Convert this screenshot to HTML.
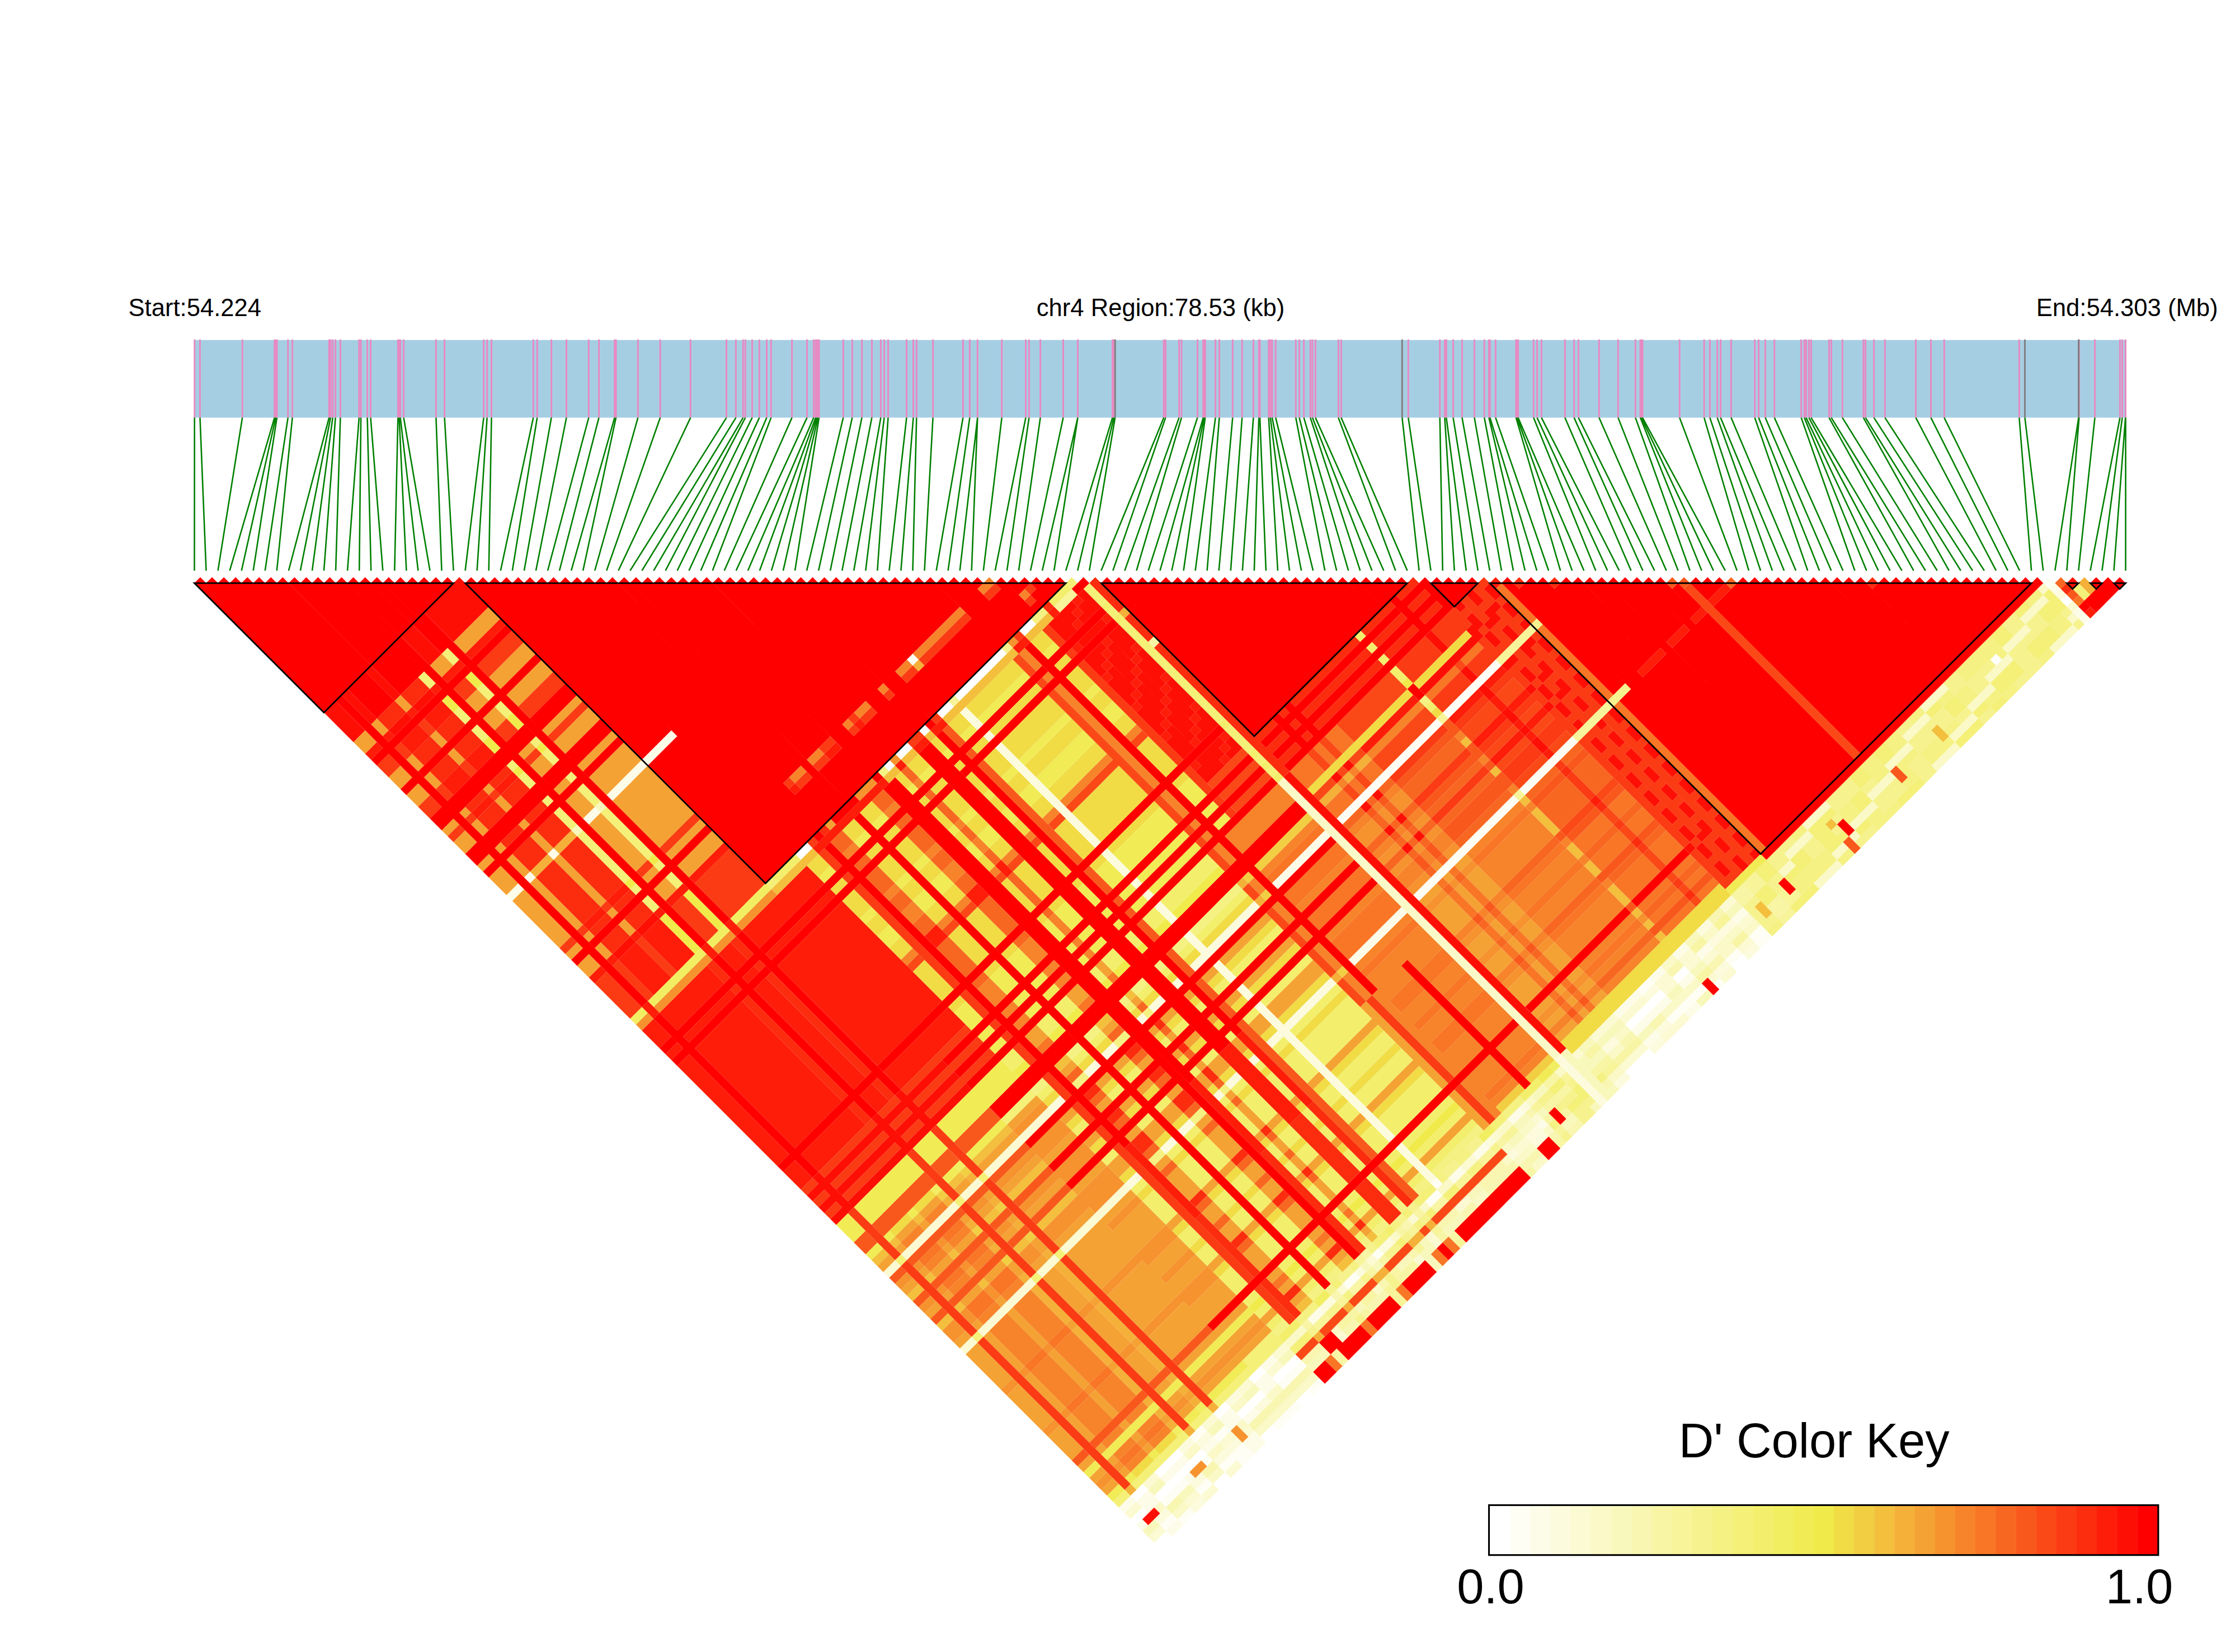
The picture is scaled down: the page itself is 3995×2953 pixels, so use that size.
<!DOCTYPE html><html><head><meta charset="utf-8"><title>LD heatmap chr4</title>
<style>html,body{margin:0;padding:0;background:#fff}svg{display:block}text{font-family:"Liberation Sans",sans-serif;fill:#000}</style></head><body>
<svg width="3995" height="2953" viewBox="0 0 3995 2953">
<rect width="3995" height="2953" fill="#fff"/>
<text x="229.5" y="564.8" font-size="43.6">Start:54.224</text>
<text x="2074.5" y="564.8" font-size="43.6" text-anchor="middle">chr4 Region:78.53 (kb)</text>
<text x="3964.5" y="564.8" font-size="43.6" text-anchor="end">End:54.303 (Mb)</text>
<rect x="347.0" y="607.8" width="3453.0" height="138.80000000000007" fill="#a6cee3"/>
<path d="M347.7 606.8V746.6M357.5 606.8V746.6M433.2 606.8V746.6M490.7 606.8V746.6M492.9 606.8V746.6M495.0 606.8V746.6M514.7 606.8V746.6M522.6 606.8V746.6M588.2 606.8V746.6M590.9 606.8V746.6M594.7 606.8V746.6M599.6 606.8V746.6M608.4 606.8V746.6M641.8 606.8V746.6M645.1 606.8V746.6M656.6 606.8V746.6M662.5 606.8V746.6M711.3 606.8V746.6M713.5 606.8V746.6M715.6 606.8V746.6M721.6 606.8V746.6M779.4 606.8V746.6M794.6 606.8V746.6M864.6 606.8V746.6M870.6 606.8V746.6M878.5 606.8V746.6M953.3 606.8V746.6M960.2 606.8V746.6M985.6 606.8V746.6M1012.5 606.8V746.6M1052.3 606.8V746.6M1070.5 606.8V746.6M1098.6 606.8V746.6M1101.1 606.8V746.6M1140.3 606.8V746.6M1180.1 606.8V746.6M1234.3 606.8V746.6M1298.5 606.8V746.6M1315.4 606.8V746.6M1328.2 606.8V746.6M1332.3 606.8V746.6M1344.5 606.8V746.6M1357.3 606.8V746.6M1370.5 606.8V746.6M1378.3 606.8V746.6M1415.6 606.8V746.6M1442.5 606.8V746.6M1454.4 606.8V746.6M1457.9 606.8V746.6M1460.0 606.8V746.6M1462.0 606.8V746.6M1464.0 606.8V746.6M1507.3 606.8V746.6M1523.3 606.8V746.6M1540.6 606.8V746.6M1558.4 606.8V746.6M1574.4 606.8V746.6M1580.5 606.8V746.6M1587.5 606.8V746.6M1620.5 606.8V746.6M1632.5 606.8V746.6M1638.3 606.8V746.6M1667.6 606.8V746.6M1721.4 606.8V746.6M1733.4 606.8V746.6M1747.3 606.8V746.6M1747.3 606.8V746.6M1790.7 606.8V746.6M1833.5 606.8V746.6M1839.4 606.8V746.6M1859.6 606.8V746.6M1900.5 606.8V746.6M1926.5 606.8V746.6M1926.5 606.8V746.6M1988.5 606.8V746.6M1991.0 606.8V746.6M2080.2 606.8V746.6M2083.4 606.8V746.6M2107.5 606.8V746.6M2111.9 606.8V746.6M2140.4 606.8V746.6M2150.7 606.8V746.6M2152.5 606.8V746.6M2154.3 606.8V746.6M2172.6 606.8V746.6M2179.5 606.8V746.6M2203.3 606.8V746.6M2220.2 606.8V746.6M2240.4 606.8V746.6M2250.2 606.8V746.6M2252.0 606.8V746.6M2267.7 606.8V746.6M2270.8 606.8V746.6M2274.0 606.8V746.6M2280.2 606.8V746.6M2316.2 606.8V746.6M2322.5 606.8V746.6M2330.6 606.8V746.6M2342.2 606.8V746.6M2346.0 606.8V746.6M2351.3 606.8V746.6M2392.3 606.8V746.6M2397.3 606.8V746.6M2517.3 606.8V746.6M2573.7 606.8V746.6M2582.4 606.8V746.6M2585.3 606.8V746.6M2597.5 606.8V746.6M2613.4 606.8V746.6M2635.4 606.8V746.6M2653.2 606.8V746.6M2661.4 606.8V746.6M2663.3 606.8V746.6M2673.3 606.8V746.6M2709.9 606.8V746.6M2711.8 606.8V746.6M2713.6 606.8V746.6M2741.2 606.8V746.6M2747.5 606.8V746.6M2755.3 606.8V746.6M2797.3 606.8V746.6M2813.6 606.8V746.6M2821.4 606.8V746.6M2858.3 606.8V746.6M2892.3 606.8V746.6M2923.3 606.8V746.6M2932.0 606.8V746.6M2934.0 606.8V746.6M2936.0 606.8V746.6M3002.2 606.8V746.6M3046.1 606.8V746.6M3056.4 606.8V746.6M3069.6 606.8V746.6M3075.5 606.8V746.6M3094.3 606.8V746.6M3136.6 606.8V746.6M3143.5 606.8V746.6M3155.4 606.8V746.6M3171.7 606.8V746.6M3219.6 606.8V746.6M3225.2 606.8V746.6M3228.4 606.8V746.6M3233.4 606.8V746.6M3237.4 606.8V746.6M3269.4 606.8V746.6M3273.4 606.8V746.6M3293.2 606.8V746.6M3330.8 606.8V746.6M3334.5 606.8V746.6M3349.6 606.8V746.6M3369.3 606.8V746.6M3424.4 606.8V746.6M3451.4 606.8V746.6M3475.2 606.8V746.6M3609.3 606.8V746.6M3716.3 606.8V746.6M3744.5 606.8V746.6M3789.4 606.8V746.6M3793.5 606.8V746.6M3799.2 606.8V746.6M3799.5 606.8V746.6" stroke="#e78ac3" stroke-width="3" fill="none"/>
<path d="M1993.2 606.8V746.6M2506.3 606.8V746.6M3619.4 606.8V746.6M3715.5 606.8V746.6" stroke="#808080" stroke-width="3" fill="none"/>
<path d="M347.7 746.6L347.5 1020M357.5 746.6L368.5 1020M433.2 746.6L389.6 1020M490.7 746.6L410.6 1020M492.9 746.6L431.7 1020M495.0 746.6L452.7 1020M514.7 746.6L473.8 1020M522.6 746.6L494.8 1020M588.2 746.6L515.9 1020M590.9 746.6L536.9 1020M594.7 746.6L558.0 1020M599.6 746.6L579.0 1020M608.4 746.6L600.1 1020M641.8 746.6L621.1 1020M645.1 746.6L642.2 1020M656.6 746.6L663.2 1020M662.5 746.6L684.3 1020M711.3 746.6L705.3 1020M713.5 746.6L726.4 1020M715.6 746.6L747.4 1020M721.6 746.6L768.5 1020M779.4 746.6L789.5 1020M794.6 746.6L810.6 1020M864.6 746.6L831.6 1020M870.6 746.6L852.7 1020M878.5 746.6L873.7 1020M953.3 746.6L894.8 1020M960.2 746.6L915.8 1020M985.6 746.6L936.9 1020M1012.5 746.6L957.9 1020M1052.3 746.6L979.0 1020M1070.5 746.6L1000.0 1020M1098.6 746.6L1021.1 1020M1101.1 746.6L1042.1 1020M1140.3 746.6L1063.2 1020M1180.1 746.6L1084.2 1020M1234.3 746.6L1105.3 1020M1298.5 746.6L1126.3 1020M1315.4 746.6L1147.4 1020M1328.2 746.6L1168.4 1020M1332.3 746.6L1189.5 1020M1344.5 746.6L1210.5 1020M1357.3 746.6L1231.5 1020M1370.5 746.6L1252.6 1020M1378.3 746.6L1273.6 1020M1415.6 746.6L1294.7 1020M1442.5 746.6L1315.7 1020M1454.4 746.6L1336.8 1020M1457.9 746.6L1357.8 1020M1460.0 746.6L1378.9 1020M1462.0 746.6L1399.9 1020M1464.0 746.6L1421.0 1020M1507.3 746.6L1442.0 1020M1523.3 746.6L1463.1 1020M1540.6 746.6L1484.1 1020M1558.4 746.6L1505.2 1020M1574.4 746.6L1526.2 1020M1580.5 746.6L1547.3 1020M1587.5 746.6L1568.3 1020M1620.5 746.6L1589.4 1020M1632.5 746.6L1610.4 1020M1638.3 746.6L1631.5 1020M1667.6 746.6L1652.5 1020M1721.4 746.6L1673.6 1020M1733.4 746.6L1694.6 1020M1747.3 746.6L1715.7 1020M1747.3 746.6L1736.7 1020M1790.7 746.6L1757.8 1020M1833.5 746.6L1778.8 1020M1839.4 746.6L1799.9 1020M1859.6 746.6L1820.9 1020M1900.5 746.6L1842.0 1020M1926.5 746.6L1863.0 1020M1926.5 746.6L1884.1 1020M1988.5 746.6L1905.1 1020M1991.0 746.6L1926.2 1020M1993.2 746.6L1947.2 1020M2080.2 746.6L1968.3 1020M2083.4 746.6L1989.3 1020M2107.5 746.6L2010.4 1020M2111.9 746.6L2031.4 1020M2140.4 746.6L2052.5 1020M2150.7 746.6L2073.5 1020M2152.5 746.6L2094.5 1020M2154.3 746.6L2115.6 1020M2172.6 746.6L2136.6 1020M2179.5 746.6L2157.7 1020M2203.3 746.6L2178.7 1020M2220.2 746.6L2199.8 1020M2240.4 746.6L2220.8 1020M2250.2 746.6L2241.9 1020M2252.0 746.6L2262.9 1020M2267.7 746.6L2284.0 1020M2270.8 746.6L2305.0 1020M2274.0 746.6L2326.1 1020M2280.2 746.6L2347.1 1020M2316.2 746.6L2368.2 1020M2322.5 746.6L2389.2 1020M2330.6 746.6L2410.3 1020M2342.2 746.6L2431.3 1020M2346.0 746.6L2452.4 1020M2351.3 746.6L2473.4 1020M2392.3 746.6L2494.5 1020M2397.3 746.6L2515.5 1020M2506.3 746.6L2536.6 1020M2517.3 746.6L2557.6 1020M2573.7 746.6L2578.7 1020M2582.4 746.6L2599.7 1020M2585.3 746.6L2620.8 1020M2597.5 746.6L2641.8 1020M2613.4 746.6L2662.9 1020M2635.4 746.6L2683.9 1020M2653.2 746.6L2705.0 1020M2661.4 746.6L2726.0 1020M2663.3 746.6L2747.1 1020M2673.3 746.6L2768.1 1020M2709.9 746.6L2789.2 1020M2711.8 746.6L2810.2 1020M2713.6 746.6L2831.3 1020M2741.2 746.6L2852.3 1020M2747.5 746.6L2873.4 1020M2755.3 746.6L2894.4 1020M2797.3 746.6L2915.5 1020M2813.6 746.6L2936.5 1020M2821.4 746.6L2957.5 1020M2858.3 746.6L2978.6 1020M2892.3 746.6L2999.6 1020M2923.3 746.6L3020.7 1020M2932.0 746.6L3041.7 1020M2934.0 746.6L3062.8 1020M2936.0 746.6L3083.8 1020M3002.2 746.6L3104.9 1020M3046.1 746.6L3125.9 1020M3056.4 746.6L3147.0 1020M3069.6 746.6L3168.0 1020M3075.5 746.6L3189.1 1020M3094.3 746.6L3210.1 1020M3136.6 746.6L3231.2 1020M3143.5 746.6L3252.2 1020M3155.4 746.6L3273.3 1020M3171.7 746.6L3294.3 1020M3219.6 746.6L3315.4 1020M3225.2 746.6L3336.4 1020M3228.4 746.6L3357.5 1020M3233.4 746.6L3378.5 1020M3237.4 746.6L3399.6 1020M3269.4 746.6L3420.6 1020M3273.4 746.6L3441.7 1020M3293.2 746.6L3462.7 1020M3330.8 746.6L3483.8 1020M3334.5 746.6L3504.8 1020M3349.6 746.6L3525.9 1020M3369.3 746.6L3546.9 1020M3424.4 746.6L3568.0 1020M3451.4 746.6L3589.0 1020M3475.2 746.6L3610.1 1020M3609.3 746.6L3631.1 1020M3619.4 746.6L3652.2 1020M3715.5 746.6L3673.2 1020M3716.3 746.6L3694.3 1020M3744.5 746.6L3715.3 1020M3789.4 746.6L3736.4 1020M3793.5 746.6L3757.4 1020M3799.2 746.6L3778.5 1020M3799.5 746.6L3799.5 1020" stroke="#008000" stroke-width="2.6" fill="none"/>
<g transform="matrix(10.52439 -10.52439 10.52439 10.52439 336.9756 1031.7756)">
<path fill="#fefef4" d="M2 163h1v1h-1zM3 163h1v1h-1zM4 161h1v1h-1zM4 164h1v1h-1zM5 161h1v1h-1zM5 164h1v1h-1zM6 161h1v1h-1zM7 161h1v1h-1zM8 163h1v1h-1zM9 163h1v1h-1zM11 161h1v1h-1zM12 158h1v1h-1zM12 163h1v1h-1zM13 158h1v1h-1zM13 163h1v1h-1zM14 160h1v1h-1zM14 163h1v2h-1zM15 160h1v1h-1zM15 163h1v2h-1zM20 164h1v1h-1zM21 164h1v1h-1zM22 164h1v1h-1zM23 164h1v1h-1zM24 161h1v1h-1zM25 161h1v1h-1zM26 161h1v1h-1zM26 164h1v1h-1zM27 161h1v1h-1zM27 164h1v1h-1zM38 158h1v1h-1zM39 158h1v1h-1zM43 158h1v1h-1zM52 158h1v1h-1zM53 158h1v1h-1zM54 68h1v1h-1zM54 157h1v1h-1zM77 118h1v1h-1zM77 131h1v1h-1zM78 118h1v1h-1zM78 131h1v1h-1zM79 118h1v1h-1zM79 131h1v1h-1zM80 118h1v1h-1zM80 131h1v1h-1zM81 118h1v1h-1zM81 131h1v1h-1zM82 118h1v1h-1zM82 131h1v1h-1zM83 118h1v1h-1zM83 131h1v1h-1zM84 118h1v1h-1zM84 131h1v1h-1zM85 118h1v1h-1zM85 131h1v1h-1zM86 118h1v1h-1zM86 131h1v1h-1zM87 118h1v1h-1zM87 131h1v1h-1zM88 118h1v1h-1zM88 131h1v1h-1zM88 158h1v1h-1zM88 163h1v1h-1zM89 118h1v1h-1zM89 131h1v1h-1zM89 158h1v1h-1zM89 163h1v1h-1zM90 118h1v1h-1zM90 131h1v1h-1zM90 163h1v1h-1zM91 118h1v1h-1zM91 131h1v1h-1zM91 163h1v1h-1zM92 118h1v1h-1zM92 131h1v1h-1zM92 163h1v1h-1zM93 118h1v1h-1zM93 131h1v1h-1zM93 163h1v1h-1zM95 118h1v1h-1zM95 131h1v1h-1zM95 164h1v1h-1zM96 118h1v1h-1zM96 131h1v1h-1zM97 118h1v1h-1zM97 131h1v1h-1zM98 118h1v1h-1zM98 131h1v1h-1zM98 163h1v1h-1zM99 118h1v1h-1zM99 131h1v1h-1zM99 163h1v1h-1zM100 118h1v1h-1zM100 131h1v1h-1zM101 118h1v1h-1zM101 131h1v1h-1zM102 118h1v1h-1zM102 131h1v1h-1zM102 163h1v2h-1zM103 118h1v1h-1zM103 131h1v1h-1zM103 163h1v2h-1zM157 158h1v1h-1z"/>
<path fill="#fdfce8" d="M0 54h1v1h-1zM0 158h1v1h-1zM0 161h1v1h-1zM1 54h1v1h-1zM1 158h1v1h-1zM2 159h1v2h-1zM2 164h1v1h-1zM3 54h1v1h-1zM3 159h1v2h-1zM3 164h1v1h-1zM6 159h1v1h-1zM7 54h1v1h-1zM7 159h1v1h-1zM8 159h1v1h-1zM8 161h1v1h-1zM9 159h1v1h-1zM12 160h1v1h-1zM13 54h1v1h-1zM13 160h1v1h-1zM14 54h1v1h-1zM16 159h1v2h-1zM16 163h1v2h-1zM17 54h1v1h-1zM17 159h1v2h-1zM17 163h1v2h-1zM18 54h1v1h-1zM18 161h1v1h-1zM19 54h1v1h-1zM19 161h1v1h-1zM20 54h1v1h-1zM21 54h1v1h-1zM22 54h1v1h-1zM22 159h1v2h-1zM23 54h1v1h-1zM23 159h1v2h-1zM24 54h1v1h-1zM24 158h1v1h-1zM25 54h1v1h-1zM25 158h1v1h-1zM26 54h1v1h-1zM27 54h1v1h-1zM32 158h1v1h-1zM33 158h1v1h-1zM56 158h1v1h-1zM57 158h1v1h-1zM60 158h1v1h-1zM61 158h1v1h-1zM66 118h1v1h-1zM66 131h1v1h-1zM66 158h1v1h-1zM67 118h1v1h-1zM67 131h1v1h-1zM67 158h1v1h-1zM68 118h1v1h-1zM68 131h1v1h-1zM68 161h1v1h-1zM69 118h1v1h-1zM69 131h1v1h-1zM70 118h1v1h-1zM70 131h1v1h-1zM71 118h1v1h-1zM71 131h1v1h-1zM72 118h1v1h-1zM72 131h1v1h-1zM73 118h1v1h-1zM73 131h1v1h-1zM74 118h1v1h-1zM74 131h1v1h-1zM84 158h1v1h-1zM84 161h1v1h-1zM84 163h1v1h-1zM85 158h1v1h-1zM85 161h1v1h-1zM85 163h1v1h-1zM86 158h1v1h-1zM86 161h1v1h-1zM87 158h1v1h-1zM87 161h1v1h-1zM88 161h1v1h-1zM89 161h1v1h-1zM90 158h1v1h-1zM90 164h1v1h-1zM91 158h1v1h-1zM91 164h1v1h-1zM92 161h1v1h-1zM93 161h1v1h-1zM94 158h1v1h-1zM95 158h1v1h-1zM96 160h1v1h-1zM97 160h1v1h-1zM102 160h1v1h-1zM103 160h1v1h-1zM157 159h1v1h-1zM157 163h1v2h-1z"/>
<path fill="#fcfbdd" d="M2 162h1v1h-1zM3 162h1v1h-1zM6 164h1v1h-1zM7 164h1v1h-1zM8 162h1v1h-1zM9 162h1v1h-1zM10 158h1v1h-1zM11 158h1v1h-1zM12 159h1v1h-1zM12 162h1v1h-1zM13 159h1v1h-1zM13 162h1v1h-1zM14 162h1v1h-1zM15 162h1v1h-1zM18 158h1v1h-1zM19 158h1v1h-1zM20 161h1v1h-1zM21 161h1v1h-1zM28 118h1v1h-1zM28 131h1v1h-1zM29 118h1v1h-1zM29 131h1v1h-1zM34 118h1v1h-1zM34 131h1v1h-1zM34 158h1v1h-1zM35 118h1v1h-1zM35 131h1v1h-1zM35 158h1v1h-1zM37 118h1v1h-1zM37 131h1v1h-1zM38 118h1v1h-1zM38 131h1v1h-1zM40 158h1v1h-1zM43 118h1v1h-1zM43 131h1v1h-1zM44 158h1v1h-1zM45 118h1v1h-1zM45 131h1v1h-1zM45 158h1v1h-1zM46 118h1v1h-1zM46 131h1v1h-1zM49 118h1v1h-1zM49 131h1v1h-1zM52 118h1v1h-1zM52 131h1v1h-1zM53 118h1v1h-1zM53 131h1v1h-1zM54 77h1v3h-1zM54 81h1v1h-1zM54 83h1v17h-1zM54 101h1v4h-1zM54 106h1v1h-1zM54 108h1v1h-1zM54 110h1v3h-1zM54 115h1v4h-1zM54 120h1v3h-1zM54 124h1v2h-1zM54 127h1v23h-1zM54 151h1v6h-1zM55 118h1v1h-1zM55 131h1v1h-1zM56 118h1v1h-1zM56 131h1v1h-1zM57 118h1v1h-1zM57 131h1v1h-1zM58 118h1v1h-1zM58 131h1v1h-1zM59 118h1v1h-1zM59 131h1v1h-1zM60 118h1v1h-1zM60 131h1v1h-1zM61 118h1v1h-1zM61 131h1v1h-1zM62 118h1v1h-1zM62 131h1v1h-1zM62 158h1v1h-1zM63 161h1v1h-1zM66 161h1v2h-1zM67 161h1v2h-1zM68 158h1v1h-1zM75 157h1v8h-1zM78 164h1v1h-1zM79 164h1v1h-1zM80 160h1v1h-1zM81 160h1v1h-1zM84 164h1v1h-1zM85 164h1v1h-1zM86 163h1v1h-1zM87 163h1v1h-1zM88 159h1v1h-1zM89 159h1v1h-1zM96 163h1v1h-1zM97 163h1v1h-1zM98 158h1v1h-1zM98 160h1v1h-1zM99 158h1v1h-1zM99 160h1v1h-1zM100 160h1v1h-1zM100 164h1v1h-1zM101 160h1v1h-1zM101 164h1v1h-1zM157 160h1v1h-1z"/>
<path fill="#fbfad2" d="M0 118h1v1h-1zM0 131h1v1h-1zM0 159h1v1h-1zM0 163h1v1h-1zM1 118h1v1h-1zM1 131h1v1h-1zM1 159h1v1h-1zM1 163h1v1h-1zM3 118h1v1h-1zM3 131h1v1h-1zM4 118h1v1h-1zM4 131h1v1h-1zM4 158h1v1h-1zM5 118h1v1h-1zM5 131h1v1h-1zM5 158h1v1h-1zM6 118h1v1h-1zM6 131h1v1h-1zM6 163h1v1h-1zM7 118h1v1h-1zM7 131h1v1h-1zM7 163h1v1h-1zM8 118h1v1h-1zM8 131h1v1h-1zM8 164h1v1h-1zM9 118h1v1h-1zM9 131h1v1h-1zM9 164h1v1h-1zM10 118h1v1h-1zM10 131h1v1h-1zM11 118h1v1h-1zM11 131h1v1h-1zM12 164h1v1h-1zM13 118h1v1h-1zM13 131h1v1h-1zM13 164h1v1h-1zM14 118h1v1h-1zM14 131h1v1h-1zM14 158h1v1h-1zM14 161h1v1h-1zM15 118h1v1h-1zM15 131h1v1h-1zM15 158h1v1h-1zM15 161h1v1h-1zM17 118h1v1h-1zM17 131h1v1h-1zM17 162h1v1h-1zM18 118h1v1h-1zM18 131h1v1h-1zM19 118h1v1h-1zM19 131h1v1h-1zM20 118h1v1h-1zM20 131h1v1h-1zM20 158h1v1h-1zM21 118h1v1h-1zM21 131h1v1h-1zM21 158h1v1h-1zM22 118h1v1h-1zM22 131h1v1h-1zM23 118h1v1h-1zM23 131h1v1h-1zM24 118h1v1h-1zM24 131h1v1h-1zM24 159h1v1h-1zM25 118h1v1h-1zM25 131h1v1h-1zM25 159h1v1h-1zM26 118h1v1h-1zM26 131h1v1h-1zM26 158h1v1h-1zM27 118h1v1h-1zM27 131h1v1h-1zM27 158h1v1h-1zM33 162h1v1h-1zM37 158h1v1h-1zM42 158h1v1h-1zM46 162h1v1h-1zM49 158h1v1h-1zM49 161h1v2h-1zM54 161h1v1h-1zM55 161h1v1h-1zM58 158h1v1h-1zM59 158h1v1h-1zM63 158h1v1h-1zM64 161h1v1h-1zM65 161h1v1h-1zM68 160h1v1h-1zM77 158h1v1h-1zM80 158h1v1h-1zM80 163h1v1h-1zM81 158h1v1h-1zM81 163h1v1h-1zM82 158h1v1h-1zM82 163h1v1h-1zM83 158h1v1h-1zM83 163h1v1h-1zM84 159h1v1h-1zM85 159h1v1h-1zM86 159h1v1h-1zM86 164h1v1h-1zM87 159h1v1h-1zM87 164h1v1h-1zM88 164h1v1h-1zM89 164h1v1h-1zM90 159h1v2h-1zM91 159h1v2h-1zM94 159h1v2h-1zM95 159h1v2h-1zM95 163h1v1h-1zM96 161h1v1h-1zM96 164h1v1h-1zM97 161h1v1h-1zM97 164h1v1h-1zM100 163h1v1h-1zM101 163h1v1h-1zM102 158h1v1h-1zM102 161h1v1h-1zM103 158h1v1h-1zM103 161h1v1h-1zM157 162h1v1h-1z"/>
<path fill="#faf9c7" d="M3 161h1v1h-1zM4 163h1v1h-1zM5 163h1v1h-1zM10 159h1v1h-1zM10 163h1v1h-1zM11 159h1v1h-1zM11 163h1v1h-1zM12 161h1v1h-1zM13 161h1v1h-1zM17 161h1v1h-1zM18 159h1v1h-1zM18 163h1v1h-1zM19 159h1v1h-1zM19 163h1v1h-1zM20 163h1v1h-1zM21 163h1v1h-1zM22 161h1v1h-1zM22 163h1v1h-1zM23 161h1v1h-1zM23 163h1v1h-1zM24 163h1v1h-1zM25 163h1v1h-1zM26 163h1v1h-1zM27 163h1v1h-1zM28 158h1v1h-1zM29 158h1v1h-1zM30 158h1v1h-1zM33 161h1v1h-1zM40 161h1v1h-1zM46 158h1v1h-1zM51 158h1v1h-1zM54 158h1v1h-1zM55 158h1v1h-1zM56 162h1v1h-1zM57 162h1v1h-1zM62 161h1v1h-1zM63 160h1v1h-1zM63 162h1v1h-1zM64 158h1v1h-1zM64 162h1v1h-1zM64 164h1v1h-1zM65 158h1v1h-1zM65 162h1v1h-1zM65 164h1v1h-1zM66 160h1v1h-1zM67 160h1v1h-1zM68 162h1v1h-1zM69 158h1v1h-1zM74 158h1v1h-1zM75 110h1v47h-1zM78 163h1v1h-1zM79 163h1v1h-1zM80 161h1v1h-1zM81 161h1v1h-1zM82 160h1v1h-1zM83 160h1v1h-1zM88 162h1v1h-1zM89 162h1v1h-1zM90 162h1v1h-1zM91 162h1v1h-1zM92 158h1v1h-1zM92 162h1v1h-1zM93 158h1v1h-1zM93 162h1v1h-1zM98 159h1v1h-1zM98 161h1v2h-1zM99 159h1v1h-1zM99 161h1v2h-1zM100 161h1v1h-1zM101 161h1v1h-1zM102 162h1v1h-1zM103 162h1v1h-1zM110 160h1v1h-1zM111 160h1v1h-1zM112 159h1v1h-1zM112 164h1v1h-1zM113 159h1v1h-1zM113 164h1v1h-1zM114 159h1v1h-1zM114 164h1v1h-1zM115 159h1v1h-1zM115 164h1v1h-1zM116 158h1v1h-1zM116 163h1v1h-1zM117 158h1v1h-1zM117 163h1v1h-1zM118 158h1v1h-1zM119 158h1v1h-1zM119 163h1v1h-1zM120 162h1v1h-1zM121 162h1v1h-1zM122 162h1v1h-1zM123 162h1v1h-1zM124 161h1v1h-1zM125 161h1v1h-1zM126 161h1v1h-1zM127 161h1v1h-1zM128 160h1v1h-1zM129 160h1v1h-1zM130 160h1v1h-1zM131 160h1v1h-1zM132 159h1v1h-1zM132 164h1v1h-1zM133 159h1v1h-1zM133 164h1v1h-1zM134 159h1v1h-1zM134 164h1v1h-1zM135 159h1v1h-1zM135 164h1v1h-1zM136 158h1v1h-1zM136 163h1v1h-1zM137 158h1v1h-1zM137 163h1v1h-1zM138 158h1v1h-1zM138 163h1v1h-1zM139 158h1v1h-1zM139 163h1v1h-1zM140 162h1v1h-1zM141 162h1v1h-1zM142 162h1v1h-1zM143 162h1v1h-1zM144 161h1v1h-1zM145 161h1v1h-1zM146 161h1v1h-1zM147 161h1v1h-1zM148 160h1v1h-1zM149 160h1v1h-1zM150 160h1v1h-1zM151 160h1v1h-1zM152 159h1v1h-1zM152 164h1v1h-1zM153 159h1v1h-1zM153 164h1v1h-1zM154 159h1v1h-1zM154 164h1v1h-1zM155 159h1v1h-1zM155 164h1v1h-1zM156 158h1v1h-1zM156 163h1v1h-1z"/>
<path fill="#f9f8bc" d="M0 162h1v1h-1zM1 162h1v1h-1zM4 159h1v1h-1zM5 159h1v1h-1zM6 162h1v1h-1zM7 162h1v1h-1zM11 54h1v1h-1zM14 159h1v1h-1zM15 54h1v1h-1zM15 159h1v1h-1zM20 159h1v1h-1zM21 159h1v1h-1zM26 159h1v1h-1zM27 159h1v1h-1zM28 162h1v1h-1zM29 162h1v1h-1zM30 162h1v1h-1zM37 161h1v1h-1zM41 158h1v1h-1zM42 159h1v1h-1zM44 161h1v1h-1zM45 161h1v1h-1zM47 162h1v3h-1zM48 161h1v2h-1zM51 162h1v1h-1zM52 162h1v1h-1zM53 162h1v1h-1zM56 161h1v1h-1zM57 161h1v1h-1zM64 160h1v1h-1zM65 160h1v1h-1zM66 159h1v1h-1zM67 159h1v1h-1zM69 160h1v1h-1zM70 158h1v1h-1zM70 163h1v1h-1zM71 158h1v1h-1zM71 163h1v1h-1zM74 164h1v1h-1zM76 157h1v8h-1zM77 159h1v2h-1zM77 164h1v1h-1zM78 158h1v1h-1zM78 160h1v1h-1zM79 158h1v1h-1zM79 160h1v1h-1zM80 159h1v1h-1zM81 159h1v1h-1zM82 159h1v1h-1zM83 159h1v1h-1zM84 162h1v1h-1zM85 162h1v1h-1zM90 161h1v1h-1zM91 161h1v1h-1zM92 164h1v1h-1zM93 164h1v1h-1zM94 161h1v1h-1zM95 161h1v1h-1zM96 158h1v1h-1zM97 158h1v1h-1zM102 159h1v1h-1zM103 159h1v1h-1z"/>
<path fill="#f8f6b0" d="M4 162h1v1h-1zM5 162h1v1h-1zM10 162h1v1h-1zM11 162h1v1h-1zM18 162h1v1h-1zM19 162h1v1h-1zM20 162h1v1h-1zM21 162h1v1h-1zM22 162h1v1h-1zM23 162h1v1h-1zM24 162h1v1h-1zM25 162h1v1h-1zM26 162h1v1h-1zM27 162h1v1h-1zM28 161h1v1h-1zM29 161h1v1h-1zM30 161h1v1h-1zM34 162h1v1h-1zM35 162h1v1h-1zM36 158h1v1h-1zM38 162h1v1h-1zM39 162h1v1h-1zM40 162h1v1h-1zM41 161h1v1h-1zM46 161h1v1h-1zM48 158h1v1h-1zM51 161h1v1h-1zM52 161h1v1h-1zM53 161h1v1h-1zM54 162h1v1h-1zM55 162h1v1h-1zM58 161h1v2h-1zM59 161h1v2h-1zM60 161h1v2h-1zM61 161h1v2h-1zM62 162h1v1h-1zM63 163h1v1h-1zM64 163h1v1h-1zM65 163h1v1h-1zM68 159h1v1h-1zM68 163h1v1h-1zM70 164h1v1h-1zM71 164h1v1h-1zM77 163h1v1h-1zM82 161h1v1h-1zM83 161h1v1h-1zM86 162h1v1h-1zM87 162h1v1h-1zM92 159h1v1h-1zM93 159h1v1h-1zM96 162h1v1h-1zM97 162h1v1h-1zM100 158h1v1h-1zM101 158h1v1h-1z"/>
<path fill="#f8f5a5" d="M31 158h1v1h-1zM31 163h1v2h-1zM34 161h1v1h-1zM35 161h1v1h-1zM36 161h1v1h-1zM37 162h1v1h-1zM38 159h1v1h-1zM38 161h1v1h-1zM39 159h1v1h-1zM39 161h1v1h-1zM41 159h1v1h-1zM42 157h1v1h-1zM43 159h1v1h-1zM43 161h1v2h-1zM44 162h1v1h-1zM45 162h1v1h-1zM47 158h1v1h-1zM50 158h1v1h-1zM50 162h1v1h-1zM51 163h1v1h-1zM52 159h1v1h-1zM53 159h1v1h-1zM63 159h1v1h-1zM63 164h1v1h-1zM68 164h1v1h-1zM69 161h1v1h-1zM70 160h1v1h-1zM71 160h1v1h-1zM71 162h1v1h-1zM72 158h1v1h-1zM72 160h1v1h-1zM73 158h1v1h-1zM73 160h1v1h-1zM76 87h1v1h-1zM77 161h1v1h-1zM78 159h1v1h-1zM78 161h1v1h-1zM79 159h1v1h-1zM79 161h1v1h-1zM80 162h1v1h-1zM81 162h1v1h-1zM82 162h1v1h-1zM83 162h1v1h-1zM94 162h1v1h-1zM95 162h1v1h-1zM96 159h1v1h-1zM97 159h1v1h-1zM100 162h1v1h-1zM101 162h1v1h-1zM104 158h1v2h-1zM105 158h1v2h-1zM106 162h1v2h-1zM107 162h1v2h-1z"/>
<path fill="#f7f49a" d="M32 159h1v1h-1zM33 159h1v1h-1zM36 159h1v1h-1zM41 157h1v1h-1zM41 162h1v3h-1zM47 161h1v1h-1zM48 159h1v1h-1zM50 161h1v1h-1zM51 164h1v1h-1zM54 75h1v1h-1zM56 159h1v1h-1zM57 159h1v1h-1zM60 159h1v1h-1zM61 159h1v1h-1zM64 159h1v1h-1zM65 159h1v1h-1zM69 159h1v1h-1zM69 163h1v1h-1zM71 76h1v1h-1zM72 76h1v1h-1zM73 76h1v1h-1zM74 159h1v1h-1zM78 162h1v1h-1zM79 162h1v1h-1zM94 118h1v1h-1zM94 131h1v1h-1zM100 159h1v1h-1zM101 159h1v1h-1zM104 118h1v1h-1zM104 131h1v1h-1zM105 118h1v1h-1zM105 131h1v1h-1zM106 118h1v1h-1zM106 131h1v1h-1zM106 158h1v2h-1zM106 164h1v1h-1zM107 118h1v1h-1zM107 131h1v1h-1zM107 158h1v2h-1zM107 164h1v1h-1zM108 118h1v1h-1zM108 131h1v1h-1zM108 162h1v2h-1zM109 118h1v1h-1zM109 131h1v1h-1zM109 163h1v1h-1z"/>
<path fill="#f6f28e" d="M31 159h1v1h-1zM34 159h1v1h-1zM35 159h1v1h-1zM36 157h1v1h-1zM36 162h1v1h-1zM38 157h1v1h-1zM39 157h1v1h-1zM40 159h1v1h-1zM42 161h1v2h-1zM43 157h1v1h-1zM44 159h1v1h-1zM45 159h1v1h-1zM47 159h1v1h-1zM48 157h1v1h-1zM50 157h1v1h-1zM50 159h1v1h-1zM56 157h1v1h-1zM57 157h1v1h-1zM60 157h1v1h-1zM61 157h1v1h-1zM62 159h1v1h-1zM63 75h1v1h-1zM69 164h1v1h-1zM70 159h1v1h-1zM71 159h1v1h-1zM71 161h1v1h-1zM72 161h1v1h-1zM72 163h1v2h-1zM73 161h1v1h-1zM73 163h1v2h-1zM74 160h1v1h-1zM74 163h1v1h-1zM104 160h1v4h-1zM105 160h1v1h-1zM105 163h1v1h-1zM108 160h1v2h-1zM109 160h1v1h-1zM110 118h1v1h-1zM110 131h1v1h-1zM110 158h1v2h-1zM111 131h1v1h-1zM111 158h1v2h-1zM112 131h1v1h-1zM112 158h1v1h-1zM113 158h1v1h-1zM114 160h1v2h-1zM115 160h1v2h-1zM118 161h1v1h-1zM119 160h1v1h-1zM119 164h1v1h-1zM120 158h1v2h-1zM120 164h1v1h-1zM121 158h1v2h-1zM121 164h1v1h-1zM122 158h1v2h-1zM123 158h1v2h-1zM124 160h1v1h-1zM124 162h1v2h-1zM125 160h1v1h-1zM125 162h1v2h-1zM126 162h1v2h-1zM127 162h1v2h-1zM130 162h1v3h-1zM131 162h1v3h-1zM132 158h1v1h-1zM132 160h1v2h-1zM133 158h1v1h-1zM133 160h1v2h-1zM134 160h1v2h-1zM135 160h1v1h-1zM136 160h1v2h-1zM137 160h1v2h-1zM138 162h1v1h-1zM139 162h1v1h-1zM140 158h1v2h-1zM140 164h1v1h-1zM141 158h1v2h-1zM141 164h1v1h-1zM142 160h1v2h-1zM143 160h1v2h-1zM144 160h1v1h-1zM145 160h1v1h-1zM146 164h1v1h-1zM147 164h1v1h-1zM148 161h1v4h-1zM149 161h1v4h-1zM150 158h1v2h-1zM150 161h1v1h-1zM151 158h1v2h-1zM151 161h1v1h-1zM152 160h1v2h-1zM153 160h1v2h-1zM156 162h1v1h-1zM156 164h1v1h-1z"/>
<path fill="#f5f183" d="M28 115h1v1h-1zM28 156h1v1h-1zM29 115h1v1h-1zM29 156h1v1h-1zM31 157h1v1h-1zM32 118h1v1h-1zM32 131h1v1h-1zM32 157h1v1h-1zM33 118h1v1h-1zM33 131h1v1h-1zM33 157h1v1h-1zM34 115h1v1h-1zM34 156h1v1h-1zM35 115h1v1h-1zM35 156h1v1h-1zM37 115h1v1h-1zM37 156h1v1h-1zM37 159h1v1h-1zM38 115h1v1h-1zM38 156h1v1h-1zM39 118h1v1h-1zM39 131h1v1h-1zM40 118h1v1h-1zM40 131h1v1h-1zM40 157h1v1h-1zM42 75h1v1h-1zM43 115h1v1h-1zM43 156h1v1h-1zM44 118h1v1h-1zM44 131h1v1h-1zM45 115h1v1h-1zM45 156h1v1h-1zM46 115h1v1h-1zM46 156h1v1h-1zM47 157h1v1h-1zM49 115h1v1h-1zM49 156h1v1h-1zM49 159h1v1h-1zM52 115h1v1h-1zM52 156h1v1h-1zM53 115h1v1h-1zM53 156h1v1h-1zM55 115h1v1h-1zM55 156h1v2h-1zM56 115h1v1h-1zM56 156h1v1h-1zM57 115h1v1h-1zM57 156h1v1h-1zM58 115h1v1h-1zM58 156h1v2h-1zM58 159h1v1h-1zM59 115h1v1h-1zM59 156h1v2h-1zM59 159h1v1h-1zM60 115h1v1h-1zM60 156h1v1h-1zM61 115h1v1h-1zM61 156h1v1h-1zM62 115h1v1h-1zM62 156h1v1h-1zM66 157h1v1h-1zM67 157h1v1h-1zM68 75h1v1h-1zM68 157h1v1h-1zM69 75h1v1h-1zM69 162h1v1h-1zM77 162h1v1h-1zM94 115h1v1h-1zM104 164h1v1h-1zM105 164h1v1h-1zM110 162h1v2h-1zM111 162h1v2h-1zM112 162h1v2h-1zM113 162h1v2h-1zM114 158h1v1h-1zM114 162h1v2h-1zM115 158h1v1h-1zM115 162h1v2h-1zM116 164h1v1h-1zM117 164h1v1h-1zM120 160h1v2h-1zM121 160h1v2h-1zM122 163h1v2h-1zM123 163h1v2h-1zM124 164h1v1h-1zM125 164h1v1h-1zM126 158h1v3h-1zM127 158h1v3h-1zM128 163h1v1h-1zM129 161h1v3h-1zM130 158h1v2h-1zM130 161h1v1h-1zM131 158h1v2h-1zM131 161h1v1h-1zM132 162h1v2h-1zM133 162h1v2h-1zM134 158h1v1h-1zM134 162h1v2h-1zM135 158h1v1h-1zM135 163h1v1h-1zM136 162h1v1h-1zM137 162h1v1h-1zM138 159h1v1h-1zM139 159h1v1h-1zM140 160h1v2h-1zM141 160h1v2h-1zM142 158h1v2h-1zM142 163h1v1h-1zM143 158h1v2h-1zM143 163h1v1h-1zM144 158h1v2h-1zM144 164h1v1h-1zM145 158h1v2h-1zM145 164h1v1h-1zM146 158h1v2h-1zM147 158h1v3h-1zM150 164h1v1h-1zM151 164h1v1h-1zM154 158h1v1h-1zM154 162h1v2h-1zM155 158h1v1h-1zM155 162h1v2h-1z"/>
<path fill="#f4f078" d="M0 157h1v1h-1zM1 157h1v1h-1zM2 118h1v1h-1zM2 131h1v1h-1zM3 157h1v1h-1zM4 157h1v1h-1zM5 157h1v1h-1zM6 157h1v1h-1zM7 157h1v1h-1zM8 157h1v1h-1zM9 157h1v1h-1zM10 157h1v1h-1zM11 28h1v2h-1zM11 34h1v2h-1zM11 37h1v2h-1zM11 43h1v1h-1zM11 45h1v2h-1zM11 49h1v1h-1zM11 51h1v3h-1zM11 55h1v8h-1zM11 64h1v1h-1zM11 66h1v2h-1zM11 157h1v1h-1zM12 118h1v1h-1zM12 131h1v1h-1zM13 157h1v1h-1zM14 157h1v1h-1zM15 28h1v2h-1zM15 34h1v2h-1zM15 37h1v2h-1zM15 43h1v1h-1zM15 45h1v2h-1zM15 49h1v1h-1zM15 51h1v3h-1zM15 55h1v8h-1zM15 64h1v1h-1zM15 66h1v2h-1zM15 157h1v1h-1zM16 118h1v1h-1zM16 131h1v1h-1zM17 157h1v1h-1zM18 157h1v1h-1zM19 157h1v1h-1zM20 157h1v1h-1zM21 157h1v1h-1zM22 157h1v1h-1zM23 75h1v1h-1zM23 115h1v1h-1zM23 156h1v2h-1zM24 115h1v1h-1zM24 156h1v2h-1zM25 115h1v1h-1zM25 156h1v2h-1zM26 115h1v1h-1zM26 156h1v2h-1zM27 115h1v1h-1zM27 156h1v2h-1zM28 159h1v1h-1zM29 159h1v1h-1zM30 159h1v1h-1zM37 157h1v1h-1zM44 157h1v1h-1zM45 157h1v1h-1zM46 159h1v1h-1zM49 157h1v1h-1zM51 157h1v1h-1zM51 159h1v1h-1zM52 157h1v1h-1zM53 157h1v1h-1zM54 159h1v1h-1zM55 159h1v1h-1zM64 157h1v1h-1zM65 157h1v1h-1zM72 159h1v1h-1zM72 162h1v1h-1zM73 159h1v1h-1zM73 162h1v1h-1zM74 75h1v1h-1zM74 161h1v2h-1zM75 77h1v3h-1zM75 81h1v1h-1zM75 83h1v17h-1zM75 101h1v4h-1zM75 106h1v1h-1zM75 108h1v1h-1zM106 160h1v2h-1zM107 160h1v2h-1zM108 158h1v2h-1zM108 164h1v1h-1zM109 158h1v2h-1zM109 164h1v1h-1zM110 161h1v1h-1zM110 164h1v1h-1zM111 161h1v1h-1zM111 164h1v1h-1zM112 160h1v2h-1zM113 160h1v2h-1zM116 159h1v4h-1zM117 159h1v4h-1zM118 159h1v1h-1zM118 162h1v1h-1zM119 159h1v1h-1zM120 163h1v1h-1zM121 163h1v1h-1zM122 160h1v2h-1zM123 160h1v2h-1zM124 158h1v2h-1zM125 158h1v2h-1zM126 164h1v1h-1zM127 164h1v1h-1zM128 158h1v2h-1zM128 164h1v1h-1zM129 158h1v2h-1zM129 164h1v1h-1zM136 159h1v1h-1zM136 164h1v1h-1zM137 159h1v1h-1zM137 164h1v1h-1zM138 160h1v2h-1zM138 164h1v1h-1zM139 160h1v2h-1zM139 164h1v1h-1zM140 163h1v1h-1zM141 163h1v1h-1zM142 164h1v1h-1zM143 164h1v1h-1zM144 162h1v2h-1zM145 162h1v2h-1zM146 162h1v2h-1zM147 162h1v2h-1zM148 158h1v2h-1zM149 158h1v2h-1zM150 162h1v2h-1zM151 162h1v2h-1zM152 158h1v1h-1zM152 162h1v2h-1zM153 158h1v1h-1zM153 162h1v2h-1zM154 160h1v2h-1zM155 160h1v2h-1zM156 159h1v3h-1zM159 161h1v2h-1z"/>
<path fill="#f3ef6d" d="M24 75h1v1h-1zM25 75h1v1h-1zM26 75h1v1h-1zM27 75h1v1h-1zM28 110h1v2h-1zM28 116h1v1h-1zM28 122h1v1h-1zM28 127h1v1h-1zM28 132h1v1h-1zM28 134h1v4h-1zM28 140h1v2h-1zM28 143h1v2h-1zM28 147h1v3h-1zM28 151h1v1h-1zM28 153h1v1h-1zM28 155h1v1h-1zM28 157h1v1h-1zM29 110h1v2h-1zM29 116h1v1h-1zM29 122h1v1h-1zM29 127h1v1h-1zM29 132h1v1h-1zM29 134h1v4h-1zM29 140h1v2h-1zM29 143h1v2h-1zM29 147h1v3h-1zM29 151h1v1h-1zM29 153h1v1h-1zM29 155h1v1h-1zM29 157h1v1h-1zM30 157h1v1h-1zM34 110h1v2h-1zM34 116h1v1h-1zM34 122h1v1h-1zM34 127h1v1h-1zM34 132h1v1h-1zM34 134h1v4h-1zM34 140h1v2h-1zM34 143h1v2h-1zM34 147h1v3h-1zM34 151h1v1h-1zM34 153h1v1h-1zM34 155h1v1h-1zM35 110h1v2h-1zM35 116h1v1h-1zM35 122h1v1h-1zM35 127h1v1h-1zM35 132h1v1h-1zM35 134h1v4h-1zM35 140h1v2h-1zM35 143h1v2h-1zM35 147h1v3h-1zM35 151h1v1h-1zM35 153h1v1h-1zM35 155h1v1h-1zM37 110h1v2h-1zM37 116h1v1h-1zM37 122h1v1h-1zM37 127h1v1h-1zM37 132h1v1h-1zM37 134h1v4h-1zM37 140h1v2h-1zM37 143h1v2h-1zM37 147h1v3h-1zM37 151h1v1h-1zM37 153h1v1h-1zM37 155h1v1h-1zM38 110h1v2h-1zM38 116h1v1h-1zM38 122h1v1h-1zM38 127h1v1h-1zM38 132h1v1h-1zM38 134h1v4h-1zM38 140h1v2h-1zM38 143h1v2h-1zM38 147h1v3h-1zM38 151h1v1h-1zM38 153h1v1h-1zM38 155h1v1h-1zM43 110h1v2h-1zM43 116h1v1h-1zM43 122h1v1h-1zM43 127h1v1h-1zM43 132h1v1h-1zM43 134h1v4h-1zM43 140h1v2h-1zM43 143h1v2h-1zM43 147h1v3h-1zM43 151h1v1h-1zM43 153h1v1h-1zM43 155h1v1h-1zM45 110h1v2h-1zM45 116h1v1h-1zM45 122h1v1h-1zM45 127h1v1h-1zM45 132h1v1h-1zM45 134h1v4h-1zM45 140h1v2h-1zM45 143h1v2h-1zM45 147h1v3h-1zM45 151h1v1h-1zM45 153h1v1h-1zM45 155h1v1h-1zM46 110h1v2h-1zM46 116h1v1h-1zM46 122h1v1h-1zM46 127h1v1h-1zM46 132h1v1h-1zM46 134h1v4h-1zM46 140h1v2h-1zM46 143h1v2h-1zM46 147h1v3h-1zM46 151h1v1h-1zM46 153h1v1h-1zM46 155h1v1h-1zM46 157h1v1h-1zM49 110h1v2h-1zM49 116h1v1h-1zM49 122h1v1h-1zM49 127h1v1h-1zM49 132h1v1h-1zM49 134h1v4h-1zM49 140h1v2h-1zM49 143h1v2h-1zM49 147h1v3h-1zM49 151h1v1h-1zM49 153h1v1h-1zM49 155h1v1h-1zM52 110h1v2h-1zM52 116h1v1h-1zM52 122h1v1h-1zM52 127h1v1h-1zM52 132h1v1h-1zM52 134h1v4h-1zM52 140h1v2h-1zM52 143h1v2h-1zM52 147h1v3h-1zM52 151h1v1h-1zM52 153h1v1h-1zM52 155h1v1h-1zM53 110h1v2h-1zM53 116h1v1h-1zM53 122h1v1h-1zM53 127h1v1h-1zM53 132h1v1h-1zM53 134h1v4h-1zM53 140h1v2h-1zM53 143h1v2h-1zM53 147h1v3h-1zM53 151h1v1h-1zM53 153h1v1h-1zM53 155h1v1h-1zM55 110h1v2h-1zM55 116h1v1h-1zM55 122h1v1h-1zM55 127h1v1h-1zM55 132h1v1h-1zM55 134h1v4h-1zM55 140h1v2h-1zM55 143h1v2h-1zM55 147h1v3h-1zM55 151h1v1h-1zM55 153h1v1h-1zM55 155h1v1h-1zM56 110h1v2h-1zM56 116h1v1h-1zM56 122h1v1h-1zM56 127h1v1h-1zM56 132h1v1h-1zM56 134h1v4h-1zM56 140h1v2h-1zM56 143h1v2h-1zM56 147h1v3h-1zM56 151h1v1h-1zM56 153h1v1h-1zM56 155h1v1h-1zM57 110h1v2h-1zM57 116h1v1h-1zM57 122h1v1h-1zM57 127h1v1h-1zM57 132h1v1h-1zM57 134h1v4h-1zM57 140h1v2h-1zM57 143h1v2h-1zM57 147h1v3h-1zM57 151h1v1h-1zM57 153h1v1h-1zM57 155h1v1h-1zM58 110h1v2h-1zM58 116h1v1h-1zM58 122h1v1h-1zM58 127h1v1h-1zM58 132h1v1h-1zM58 134h1v4h-1zM58 140h1v2h-1zM58 143h1v2h-1zM58 147h1v3h-1zM58 151h1v1h-1zM58 153h1v1h-1zM58 155h1v1h-1zM59 110h1v2h-1zM59 116h1v1h-1zM59 122h1v1h-1zM59 127h1v1h-1zM59 132h1v1h-1zM59 134h1v4h-1zM59 140h1v2h-1zM59 143h1v2h-1zM59 147h1v3h-1zM59 151h1v1h-1zM59 153h1v1h-1zM59 155h1v1h-1zM60 110h1v2h-1zM60 116h1v1h-1zM60 122h1v1h-1zM60 127h1v1h-1zM60 132h1v1h-1zM60 134h1v4h-1zM60 140h1v2h-1zM60 143h1v2h-1zM60 147h1v3h-1zM60 151h1v1h-1zM60 153h1v1h-1zM60 155h1v1h-1zM61 110h1v2h-1zM61 116h1v1h-1zM61 122h1v1h-1zM61 127h1v1h-1zM61 132h1v1h-1zM61 134h1v4h-1zM61 140h1v2h-1zM61 143h1v2h-1zM61 147h1v3h-1zM61 151h1v1h-1zM61 153h1v1h-1zM61 155h1v1h-1zM62 110h1v2h-1zM62 116h1v1h-1zM62 122h1v1h-1zM62 127h1v1h-1zM62 132h1v1h-1zM62 134h1v4h-1zM62 140h1v2h-1zM62 143h1v2h-1zM62 147h1v3h-1zM62 151h1v1h-1zM62 153h1v1h-1zM62 155h1v1h-1zM69 157h1v1h-1zM70 157h1v1h-1zM71 75h1v1h-1zM71 157h1v1h-1zM72 75h1v1h-1zM73 75h1v1h-1zM75 80h1v1h-1zM75 82h1v1h-1zM75 100h1v1h-1zM75 105h1v1h-1zM75 107h1v1h-1zM75 109h1v1h-1zM94 104h1v1h-1zM94 106h1v1h-1zM94 108h1v1h-1zM94 110h1v2h-1zM94 116h1v1h-1z"/>
<path fill="#f2ee62" d="M0 75h1v1h-1zM1 75h1v1h-1zM3 75h1v1h-1zM4 75h1v1h-1zM5 75h1v1h-1zM6 75h1v1h-1zM7 75h1v1h-1zM8 75h1v1h-1zM9 75h1v1h-1zM10 75h1v1h-1zM11 75h1v1h-1zM11 115h1v1h-1zM11 156h1v1h-1zM13 75h1v1h-1zM14 75h1v1h-1zM15 75h1v1h-1zM15 115h1v1h-1zM15 156h1v1h-1zM17 75h1v1h-1zM18 75h1v1h-1zM19 75h1v1h-1zM20 75h1v1h-1zM21 75h1v1h-1zM22 75h1v1h-1zM34 157h1v1h-1zM35 157h1v1h-1zM62 157h1v1h-1zM63 157h1v1h-1zM74 157h1v1h-1z"/>
<path fill="#f1ec56" d="M0 110h1v3h-1zM0 115h1v1h-1zM0 152h1v1h-1zM0 156h1v1h-1zM1 110h1v3h-1zM1 115h1v1h-1zM1 152h1v1h-1zM1 156h1v1h-1zM3 110h1v3h-1zM3 115h1v1h-1zM3 152h1v1h-1zM3 156h1v1h-1zM4 110h1v3h-1zM4 152h1v1h-1zM5 110h1v3h-1zM5 152h1v1h-1zM6 110h1v3h-1zM6 152h1v1h-1zM7 110h1v3h-1zM7 115h1v1h-1zM7 152h1v1h-1zM7 156h1v1h-1zM8 110h1v3h-1zM8 152h1v1h-1zM9 110h1v3h-1zM9 152h1v1h-1zM10 110h1v3h-1zM10 152h1v1h-1zM11 110h1v3h-1zM11 152h1v1h-1zM13 110h1v3h-1zM13 115h1v1h-1zM13 152h1v1h-1zM13 156h1v1h-1zM14 110h1v3h-1zM14 115h1v1h-1zM14 152h1v1h-1zM14 156h1v1h-1zM15 110h1v3h-1zM15 152h1v1h-1zM17 110h1v3h-1zM17 115h1v1h-1zM17 152h1v1h-1zM17 156h1v1h-1zM18 110h1v3h-1zM18 115h1v1h-1zM18 152h1v1h-1zM18 156h1v1h-1zM19 110h1v3h-1zM19 115h1v1h-1zM19 152h1v1h-1zM19 156h1v1h-1zM20 110h1v3h-1zM20 115h1v1h-1zM20 152h1v1h-1zM20 156h1v1h-1zM21 110h1v3h-1zM21 115h1v1h-1zM21 152h1v1h-1zM21 156h1v1h-1zM22 110h1v3h-1zM22 115h1v1h-1zM22 152h1v1h-1zM22 156h1v1h-1zM23 110h1v3h-1zM23 152h1v1h-1zM24 110h1v3h-1zM24 152h1v1h-1zM25 110h1v3h-1zM25 152h1v1h-1zM26 110h1v3h-1zM26 152h1v1h-1zM27 110h1v3h-1zM27 152h1v1h-1zM28 79h1v1h-1zM28 86h1v1h-1zM28 89h1v2h-1zM28 102h1v3h-1zM28 106h1v1h-1zM28 108h1v1h-1zM29 79h1v1h-1zM29 86h1v1h-1zM29 89h1v2h-1zM29 102h1v3h-1zM29 106h1v1h-1zM29 108h1v1h-1zM34 79h1v1h-1zM34 86h1v1h-1zM34 89h1v2h-1zM34 102h1v3h-1zM34 106h1v1h-1zM34 108h1v1h-1zM35 79h1v1h-1zM35 86h1v1h-1zM35 89h1v2h-1zM35 102h1v3h-1zM35 106h1v1h-1zM35 108h1v1h-1zM37 79h1v1h-1zM37 86h1v1h-1zM37 89h1v2h-1zM37 102h1v3h-1zM37 106h1v1h-1zM37 108h1v1h-1zM38 79h1v1h-1zM38 86h1v1h-1zM38 89h1v2h-1zM38 102h1v3h-1zM38 106h1v1h-1zM38 108h1v1h-1zM43 79h1v1h-1zM43 86h1v1h-1zM43 89h1v2h-1zM43 102h1v3h-1zM43 106h1v1h-1zM43 108h1v1h-1zM45 79h1v1h-1zM45 86h1v1h-1zM45 89h1v2h-1zM45 102h1v3h-1zM45 106h1v1h-1zM45 108h1v1h-1zM46 79h1v1h-1zM46 86h1v1h-1zM46 89h1v2h-1zM46 102h1v3h-1zM46 106h1v1h-1zM46 108h1v1h-1zM49 79h1v1h-1zM49 86h1v1h-1zM49 89h1v2h-1zM49 102h1v3h-1zM49 106h1v1h-1zM49 108h1v1h-1zM52 79h1v1h-1zM52 86h1v1h-1zM52 89h1v2h-1zM52 102h1v3h-1zM52 106h1v1h-1zM52 108h1v1h-1zM53 79h1v1h-1zM53 86h1v1h-1zM53 89h1v2h-1zM53 102h1v3h-1zM53 106h1v1h-1zM53 108h1v1h-1zM55 79h1v1h-1zM55 86h1v1h-1zM55 89h1v2h-1zM55 102h1v3h-1zM55 106h1v1h-1zM55 108h1v1h-1zM56 79h1v1h-1zM56 86h1v1h-1zM56 89h1v2h-1zM56 102h1v3h-1zM56 106h1v1h-1zM56 108h1v1h-1zM57 79h1v1h-1zM57 86h1v1h-1zM57 89h1v2h-1zM57 102h1v3h-1zM57 106h1v1h-1zM57 108h1v1h-1zM58 79h1v1h-1zM58 86h1v1h-1zM58 89h1v2h-1zM58 102h1v3h-1zM58 106h1v1h-1zM58 108h1v1h-1zM59 79h1v1h-1zM59 86h1v1h-1zM59 89h1v2h-1zM59 102h1v3h-1zM59 106h1v1h-1zM59 108h1v1h-1zM60 79h1v1h-1zM60 86h1v1h-1zM60 89h1v2h-1zM60 102h1v3h-1zM60 106h1v1h-1zM60 108h1v1h-1zM61 79h1v1h-1zM61 86h1v1h-1zM61 89h1v2h-1zM61 102h1v3h-1zM61 106h1v1h-1zM61 108h1v1h-1zM62 79h1v1h-1zM62 86h1v1h-1zM62 89h1v2h-1zM62 102h1v3h-1zM62 106h1v1h-1zM62 108h1v1h-1zM66 79h1v1h-1zM66 86h1v1h-1zM66 89h1v2h-1zM66 102h1v3h-1zM66 106h1v1h-1zM66 108h1v1h-1zM67 79h1v1h-1zM67 86h1v1h-1zM67 89h1v2h-1zM67 102h1v3h-1zM67 106h1v1h-1zM67 108h1v1h-1zM72 157h1v1h-1zM73 157h1v1h-1zM104 157h1v1h-1zM105 157h1v1h-1zM106 157h1v1h-1zM107 157h1v1h-1zM108 157h1v1h-1zM109 157h1v1h-1z"/>
<path fill="#f0eb4b" d="M11 32h1v2h-1zM11 39h1v2h-1zM11 44h1v1h-1zM11 63h1v1h-1zM11 69h1v6h-1zM15 32h1v2h-1zM15 39h1v2h-1zM15 44h1v1h-1zM15 63h1v1h-1zM15 69h1v6h-1zM28 112h1v1h-1zM28 152h1v1h-1zM29 112h1v1h-1zM29 152h1v1h-1zM34 112h1v1h-1zM34 152h1v1h-1zM35 112h1v1h-1zM35 152h1v1h-1zM37 112h1v1h-1zM37 152h1v1h-1zM38 112h1v1h-1zM38 152h1v1h-1zM43 112h1v1h-1zM43 152h1v1h-1zM45 112h1v1h-1zM45 152h1v1h-1zM46 112h1v1h-1zM46 152h1v1h-1zM49 112h1v1h-1zM49 152h1v1h-1zM52 112h1v1h-1zM52 152h1v1h-1zM53 112h1v1h-1zM53 152h1v1h-1zM55 112h1v1h-1zM55 152h1v1h-1zM56 112h1v1h-1zM56 152h1v1h-1zM57 112h1v1h-1zM57 152h1v1h-1zM58 112h1v1h-1zM58 152h1v1h-1zM59 112h1v1h-1zM59 152h1v1h-1zM60 112h1v1h-1zM60 152h1v1h-1zM61 112h1v1h-1zM61 152h1v1h-1zM62 112h1v1h-1zM62 152h1v1h-1zM94 112h1v1h-1z"/>
<path fill="#f1dc46" d="M4 115h1v1h-1zM4 156h1v1h-1zM5 115h1v1h-1zM5 156h1v1h-1zM6 115h1v1h-1zM6 156h1v1h-1zM8 115h1v1h-1zM8 156h1v1h-1zM9 115h1v1h-1zM9 156h1v1h-1zM10 115h1v1h-1zM10 156h1v1h-1zM28 77h1v2h-1zM28 81h1v1h-1zM28 83h1v3h-1zM28 87h1v2h-1zM28 91h1v2h-1zM28 95h1v5h-1zM28 101h1v1h-1zM28 117h1v1h-1zM28 121h1v1h-1zM28 125h1v1h-1zM28 130h1v1h-1zM28 133h1v1h-1zM28 139h1v1h-1zM28 142h1v1h-1zM28 146h1v1h-1zM29 77h1v2h-1zM29 81h1v1h-1zM29 83h1v3h-1zM29 87h1v2h-1zM29 91h1v2h-1zM29 95h1v5h-1zM29 101h1v1h-1zM29 117h1v1h-1zM29 121h1v1h-1zM29 125h1v1h-1zM29 130h1v1h-1zM29 133h1v1h-1zM29 139h1v1h-1zM29 142h1v1h-1zM29 146h1v1h-1zM34 77h1v2h-1zM34 81h1v1h-1zM34 83h1v3h-1zM34 87h1v2h-1zM34 91h1v2h-1zM34 95h1v5h-1zM34 101h1v1h-1zM34 117h1v1h-1zM34 121h1v1h-1zM34 125h1v1h-1zM34 130h1v1h-1zM34 133h1v1h-1zM34 139h1v1h-1zM34 142h1v1h-1zM34 146h1v1h-1zM35 77h1v2h-1zM35 81h1v1h-1zM35 83h1v3h-1zM35 87h1v2h-1zM35 91h1v2h-1zM35 95h1v5h-1zM35 101h1v1h-1zM35 117h1v1h-1zM35 121h1v1h-1zM35 125h1v1h-1zM35 130h1v1h-1zM35 133h1v1h-1zM35 139h1v1h-1zM35 142h1v1h-1zM35 146h1v1h-1zM37 77h1v2h-1zM37 81h1v1h-1zM37 83h1v3h-1zM37 87h1v2h-1zM37 91h1v2h-1zM37 95h1v5h-1zM37 101h1v1h-1zM37 117h1v1h-1zM37 121h1v1h-1zM37 125h1v1h-1zM37 130h1v1h-1zM37 133h1v1h-1zM37 139h1v1h-1zM37 142h1v1h-1zM37 146h1v1h-1zM38 77h1v2h-1zM38 81h1v1h-1zM38 83h1v3h-1zM38 87h1v2h-1zM38 91h1v2h-1zM38 95h1v5h-1zM38 101h1v1h-1zM38 117h1v1h-1zM38 121h1v1h-1zM38 125h1v1h-1zM38 130h1v1h-1zM38 133h1v1h-1zM38 139h1v1h-1zM38 142h1v1h-1zM38 146h1v1h-1zM43 77h1v2h-1zM43 81h1v1h-1zM43 83h1v3h-1zM43 87h1v2h-1zM43 91h1v2h-1zM43 95h1v5h-1zM43 101h1v1h-1zM43 117h1v1h-1zM43 121h1v1h-1zM43 125h1v1h-1zM43 130h1v1h-1zM43 133h1v1h-1zM43 139h1v1h-1zM43 142h1v1h-1zM43 146h1v1h-1zM45 77h1v2h-1zM45 81h1v1h-1zM45 83h1v3h-1zM45 87h1v2h-1zM45 91h1v2h-1zM45 95h1v5h-1zM45 101h1v1h-1zM45 117h1v1h-1zM45 121h1v1h-1zM45 125h1v1h-1zM45 130h1v1h-1zM45 133h1v1h-1zM45 139h1v1h-1zM45 142h1v1h-1zM45 146h1v1h-1zM46 77h1v2h-1zM46 81h1v1h-1zM46 83h1v3h-1zM46 87h1v2h-1zM46 91h1v2h-1zM46 95h1v5h-1zM46 101h1v1h-1zM46 117h1v1h-1zM46 121h1v1h-1zM46 125h1v1h-1zM46 130h1v1h-1zM46 133h1v1h-1zM46 139h1v1h-1zM46 142h1v1h-1zM46 146h1v1h-1zM49 77h1v2h-1zM49 81h1v1h-1zM49 83h1v3h-1zM49 87h1v2h-1zM49 91h1v2h-1zM49 95h1v5h-1zM49 101h1v1h-1zM49 117h1v1h-1zM49 121h1v1h-1zM49 125h1v1h-1zM49 130h1v1h-1zM49 133h1v1h-1zM49 139h1v1h-1zM49 142h1v1h-1zM49 146h1v1h-1zM52 77h1v2h-1zM52 81h1v1h-1zM52 83h1v3h-1zM52 87h1v2h-1zM52 91h1v2h-1zM52 95h1v5h-1zM52 101h1v1h-1zM52 117h1v1h-1zM52 121h1v1h-1zM52 125h1v1h-1zM52 130h1v1h-1zM52 133h1v1h-1zM52 139h1v1h-1zM52 142h1v1h-1zM52 146h1v1h-1zM53 77h1v2h-1zM53 81h1v1h-1zM53 83h1v3h-1zM53 87h1v2h-1zM53 91h1v2h-1zM53 95h1v5h-1zM53 101h1v1h-1zM53 117h1v1h-1zM53 121h1v1h-1zM53 125h1v1h-1zM53 130h1v1h-1zM53 133h1v1h-1zM53 139h1v1h-1zM53 142h1v1h-1zM53 146h1v1h-1zM55 77h1v2h-1zM55 81h1v1h-1zM55 83h1v3h-1zM55 87h1v2h-1zM55 91h1v2h-1zM55 95h1v5h-1zM55 101h1v1h-1zM55 117h1v1h-1zM55 121h1v1h-1zM55 125h1v1h-1zM55 130h1v1h-1zM55 133h1v1h-1zM55 139h1v1h-1zM55 142h1v1h-1zM55 146h1v1h-1zM56 77h1v2h-1zM56 81h1v1h-1zM56 83h1v3h-1zM56 87h1v2h-1zM56 91h1v2h-1zM56 95h1v5h-1zM56 101h1v1h-1zM56 117h1v1h-1zM56 121h1v1h-1zM56 125h1v1h-1zM56 130h1v1h-1zM56 133h1v1h-1zM56 139h1v1h-1zM56 142h1v1h-1zM56 146h1v1h-1zM57 77h1v2h-1zM57 81h1v1h-1zM57 83h1v3h-1zM57 87h1v2h-1zM57 91h1v2h-1zM57 95h1v5h-1zM57 101h1v1h-1zM57 117h1v1h-1zM57 121h1v1h-1zM57 125h1v1h-1zM57 130h1v1h-1zM57 133h1v1h-1zM57 139h1v1h-1zM57 142h1v1h-1zM57 146h1v1h-1zM58 77h1v2h-1zM58 81h1v1h-1zM58 83h1v3h-1zM58 87h1v2h-1zM58 91h1v2h-1zM58 95h1v5h-1zM58 101h1v1h-1zM58 117h1v1h-1zM58 121h1v1h-1zM58 125h1v1h-1zM58 130h1v1h-1zM58 133h1v1h-1zM58 139h1v1h-1zM58 142h1v1h-1zM58 146h1v1h-1zM59 77h1v2h-1zM59 81h1v1h-1zM59 83h1v3h-1zM59 87h1v2h-1zM59 91h1v2h-1zM59 95h1v5h-1zM59 101h1v1h-1zM59 117h1v1h-1zM59 121h1v1h-1zM59 125h1v1h-1zM59 130h1v1h-1zM59 133h1v1h-1zM59 139h1v1h-1zM59 142h1v1h-1zM59 146h1v1h-1zM60 77h1v2h-1zM60 81h1v1h-1zM60 83h1v3h-1zM60 87h1v2h-1zM60 91h1v2h-1zM60 95h1v5h-1zM60 101h1v1h-1zM60 117h1v1h-1zM60 121h1v1h-1zM60 125h1v1h-1zM60 130h1v1h-1zM60 133h1v1h-1zM60 139h1v1h-1zM60 142h1v1h-1zM60 146h1v1h-1zM61 77h1v2h-1zM61 81h1v1h-1zM61 83h1v3h-1zM61 87h1v2h-1zM61 91h1v2h-1zM61 95h1v5h-1zM61 101h1v1h-1zM61 117h1v1h-1zM61 121h1v1h-1zM61 125h1v1h-1zM61 130h1v1h-1zM61 133h1v1h-1zM61 139h1v1h-1zM61 142h1v1h-1zM61 146h1v1h-1zM62 77h1v2h-1zM62 81h1v1h-1zM62 83h1v3h-1zM62 87h1v2h-1zM62 91h1v2h-1zM62 95h1v5h-1zM62 101h1v1h-1zM62 117h1v1h-1zM62 121h1v1h-1zM62 125h1v1h-1zM62 130h1v1h-1zM62 133h1v1h-1zM62 139h1v1h-1zM62 142h1v1h-1zM62 146h1v1h-1zM66 77h1v2h-1zM66 81h1v1h-1zM66 83h1v3h-1zM66 87h1v2h-1zM66 91h1v2h-1zM66 95h1v5h-1zM66 101h1v1h-1zM67 77h1v2h-1zM67 81h1v1h-1zM67 83h1v3h-1zM67 87h1v2h-1zM67 91h1v2h-1zM67 95h1v5h-1zM67 101h1v1h-1zM77 113h1v1h-1zM77 156h1v2h-1zM78 113h1v1h-1zM78 156h1v2h-1zM79 113h1v1h-1zM79 156h1v2h-1zM80 113h1v1h-1zM80 156h1v2h-1zM81 113h1v1h-1zM81 156h1v2h-1zM82 113h1v1h-1zM82 156h1v2h-1zM83 113h1v1h-1zM83 156h1v2h-1zM84 113h1v1h-1zM84 156h1v2h-1zM85 113h1v1h-1zM85 156h1v2h-1zM86 113h1v1h-1zM86 156h1v2h-1zM87 113h1v1h-1zM87 156h1v2h-1zM88 113h1v1h-1zM88 156h1v2h-1zM89 113h1v1h-1zM89 156h1v2h-1zM90 113h1v1h-1zM90 156h1v2h-1zM91 113h1v1h-1zM91 156h1v2h-1zM92 113h1v1h-1zM92 156h1v2h-1zM93 113h1v1h-1zM93 156h1v2h-1zM94 117h1v1h-1zM94 156h1v2h-1zM95 113h1v1h-1zM95 156h1v2h-1zM96 113h1v1h-1zM96 156h1v2h-1zM97 113h1v1h-1zM97 156h1v2h-1zM98 113h1v1h-1zM98 156h1v2h-1zM99 113h1v1h-1zM99 156h1v2h-1zM100 113h1v1h-1zM100 156h1v2h-1zM101 113h1v1h-1zM101 156h1v2h-1zM102 113h1v1h-1zM102 156h1v2h-1zM103 113h1v1h-1zM103 156h1v2h-1z"/>
<path fill="#f2ce42" d="M11 116h1v1h-1zM11 122h1v1h-1zM11 127h1v1h-1zM15 116h1v1h-1zM15 122h1v1h-1zM15 127h1v1h-1zM64 115h1v1h-1zM64 118h1v1h-1zM64 131h1v1h-1zM66 115h1v1h-1zM66 156h1v1h-1zM67 115h1v1h-1zM67 156h1v1h-1zM68 115h1v1h-1zM68 156h1v1h-1zM69 115h1v1h-1zM69 156h1v1h-1zM70 115h1v1h-1zM71 115h1v1h-1zM71 156h1v1h-1zM72 115h1v1h-1zM72 156h1v1h-1zM73 115h1v1h-1zM73 156h1v1h-1zM74 115h1v1h-1zM74 156h1v1h-1z"/>
<path fill="#f3bf3d" d="M0 116h1v1h-1zM0 122h1v1h-1zM0 127h1v1h-1zM1 116h1v1h-1zM1 122h1v1h-1zM1 127h1v1h-1zM3 116h1v1h-1zM3 122h1v1h-1zM3 127h1v1h-1zM7 116h1v1h-1zM7 122h1v1h-1zM7 127h1v1h-1zM13 116h1v1h-1zM13 122h1v1h-1zM13 127h1v1h-1zM14 116h1v1h-1zM14 122h1v1h-1zM14 127h1v1h-1zM17 116h1v1h-1zM17 122h1v1h-1zM17 127h1v1h-1zM18 116h1v1h-1zM18 122h1v1h-1zM18 127h1v1h-1zM19 116h1v1h-1zM19 122h1v1h-1zM19 127h1v1h-1zM20 116h1v1h-1zM20 122h1v1h-1zM20 127h1v1h-1zM21 116h1v1h-1zM21 122h1v1h-1zM21 127h1v1h-1zM22 116h1v1h-1zM22 122h1v1h-1zM22 127h1v1h-1zM23 76h1v1h-1zM24 76h1v1h-1zM25 76h1v1h-1zM26 76h1v1h-1zM27 76h1v1h-1zM28 76h1v1h-1zM29 76h1v1h-1zM32 115h1v1h-1zM32 156h1v1h-1zM33 115h1v1h-1zM33 156h1v1h-1zM39 115h1v1h-1zM39 156h1v1h-1zM40 115h1v1h-1zM40 156h1v1h-1zM42 76h1v1h-1zM43 76h1v1h-1zM44 115h1v1h-1zM44 156h1v1h-1zM45 76h1v1h-1zM46 76h1v1h-1zM49 76h1v1h-1zM52 76h1v1h-1zM53 76h1v1h-1zM54 76h1v1h-1zM55 76h1v1h-1zM56 76h1v1h-1zM57 76h1v1h-1zM58 76h1v1h-1zM59 76h1v1h-1zM60 76h1v1h-1zM61 76h1v1h-1zM62 76h1v1h-1zM63 76h1v1h-1zM66 76h1v1h-1zM67 76h1v1h-1zM68 76h1v1h-1zM69 76h1v1h-1zM94 122h1v1h-1zM94 127h1v1h-1zM94 132h1v1h-1zM94 134h1v4h-1zM94 140h1v2h-1zM94 143h1v2h-1zM94 147h1v3h-1zM94 151h1v1h-1zM94 153h1v1h-1zM94 155h1v1h-1zM105 161h1v2h-1zM118 160h1v1h-1zM135 161h1v2h-1z"/>
<path fill="#f4b038" d="M2 157h1v1h-1zM4 54h1v1h-1zM5 54h1v1h-1zM6 54h1v1h-1zM8 54h1v1h-1zM9 54h1v1h-1zM10 54h1v1h-1zM11 117h1v1h-1zM11 121h1v1h-1zM11 125h1v1h-1zM11 130h1v1h-1zM11 132h1v6h-1zM11 139h1v6h-1zM11 146h1v4h-1zM11 151h1v1h-1zM11 153h1v1h-1zM11 155h1v1h-1zM12 157h1v1h-1zM15 117h1v1h-1zM15 121h1v1h-1zM15 125h1v1h-1zM15 130h1v1h-1zM15 132h1v6h-1zM15 139h1v6h-1zM15 146h1v4h-1zM15 151h1v1h-1zM15 153h1v1h-1zM15 155h1v1h-1zM16 157h1v1h-1zM31 160h1v1h-1zM36 160h1v1h-1zM41 160h1v1h-1zM42 160h1v1h-1zM47 160h1v1h-1zM48 160h1v1h-1zM50 160h1v1h-1zM54 69h1v1h-1zM63 115h1v1h-1zM63 118h1v1h-1zM63 131h1v1h-1zM76 82h1v1h-1zM77 115h1v1h-1zM78 115h1v1h-1zM79 115h1v1h-1zM81 115h1v1h-1zM83 115h1v1h-1zM84 115h1v1h-1zM160 161h1v2h-1z"/>
<path fill="#f5a234" d="M0 28h1v2h-1zM0 34h1v2h-1zM0 37h1v2h-1zM0 43h1v1h-1zM0 45h1v2h-1zM0 49h1v1h-1zM0 51h1v3h-1zM0 55h1v8h-1zM0 64h1v1h-1zM0 66h1v2h-1zM0 117h1v1h-1zM0 121h1v1h-1zM0 125h1v1h-1zM0 130h1v1h-1zM0 132h1v6h-1zM0 139h1v6h-1zM0 146h1v4h-1zM0 151h1v1h-1zM0 153h1v1h-1zM0 155h1v1h-1zM1 28h1v2h-1zM1 34h1v2h-1zM1 37h1v2h-1zM1 43h1v1h-1zM1 45h1v2h-1zM1 49h1v1h-1zM1 51h1v3h-1zM1 55h1v8h-1zM1 64h1v1h-1zM1 66h1v2h-1zM1 117h1v1h-1zM1 121h1v1h-1zM1 125h1v1h-1zM1 130h1v1h-1zM1 132h1v6h-1zM1 139h1v6h-1zM1 146h1v4h-1zM1 151h1v1h-1zM1 153h1v1h-1zM1 155h1v1h-1zM3 28h1v2h-1zM3 34h1v2h-1zM3 37h1v2h-1zM3 43h1v1h-1zM3 45h1v2h-1zM3 49h1v1h-1zM3 51h1v3h-1zM3 55h1v8h-1zM3 64h1v1h-1zM3 66h1v2h-1zM3 117h1v1h-1zM3 121h1v1h-1zM3 125h1v1h-1zM3 130h1v1h-1zM3 132h1v6h-1zM3 139h1v6h-1zM3 146h1v4h-1zM3 151h1v1h-1zM3 153h1v1h-1zM3 155h1v1h-1zM4 116h1v1h-1zM4 122h1v1h-1zM4 127h1v1h-1zM5 116h1v1h-1zM5 122h1v1h-1zM5 127h1v1h-1zM6 116h1v1h-1zM6 122h1v1h-1zM6 127h1v1h-1zM7 28h1v2h-1zM7 34h1v2h-1zM7 37h1v2h-1zM7 43h1v1h-1zM7 45h1v2h-1zM7 49h1v1h-1zM7 51h1v3h-1zM7 55h1v8h-1zM7 64h1v1h-1zM7 66h1v2h-1zM7 117h1v1h-1zM7 121h1v1h-1zM7 125h1v1h-1zM7 130h1v1h-1zM7 132h1v6h-1zM7 139h1v6h-1zM7 146h1v4h-1zM7 151h1v1h-1zM7 153h1v1h-1zM7 155h1v1h-1zM8 116h1v1h-1zM8 122h1v1h-1zM8 127h1v1h-1zM9 116h1v1h-1zM9 122h1v1h-1zM9 127h1v1h-1zM10 116h1v1h-1zM10 122h1v1h-1zM10 127h1v1h-1zM11 120h1v1h-1zM11 124h1v1h-1zM11 128h1v2h-1zM11 138h1v1h-1zM11 145h1v1h-1zM11 154h1v1h-1zM13 28h1v2h-1zM13 34h1v2h-1zM13 37h1v2h-1zM13 43h1v1h-1zM13 45h1v2h-1zM13 49h1v1h-1zM13 51h1v3h-1zM13 55h1v8h-1zM13 64h1v1h-1zM13 66h1v2h-1zM13 117h1v1h-1zM13 121h1v1h-1zM13 125h1v1h-1zM13 130h1v1h-1zM13 132h1v6h-1zM13 139h1v6h-1zM13 146h1v4h-1zM13 151h1v1h-1zM13 153h1v1h-1zM13 155h1v1h-1zM14 28h1v2h-1zM14 34h1v2h-1zM14 37h1v2h-1zM14 43h1v1h-1zM14 45h1v2h-1zM14 49h1v1h-1zM14 51h1v3h-1zM14 55h1v8h-1zM14 64h1v1h-1zM14 66h1v2h-1zM14 117h1v1h-1zM14 121h1v1h-1zM14 125h1v1h-1zM14 130h1v1h-1zM14 132h1v6h-1zM14 139h1v6h-1zM14 146h1v4h-1zM14 151h1v1h-1zM14 153h1v1h-1zM14 155h1v1h-1zM15 120h1v1h-1zM15 124h1v1h-1zM15 128h1v2h-1zM15 138h1v1h-1zM15 145h1v1h-1zM15 154h1v1h-1zM17 28h1v2h-1zM17 34h1v2h-1zM17 37h1v2h-1zM17 43h1v1h-1zM17 45h1v2h-1zM17 49h1v1h-1zM17 51h1v3h-1zM17 55h1v8h-1zM17 64h1v1h-1zM17 66h1v2h-1zM17 117h1v1h-1zM17 121h1v1h-1zM17 125h1v1h-1zM17 130h1v1h-1zM17 132h1v6h-1zM17 139h1v6h-1zM17 146h1v4h-1zM17 151h1v1h-1zM17 153h1v1h-1zM17 155h1v1h-1zM18 28h1v2h-1zM18 34h1v2h-1zM18 37h1v2h-1zM18 43h1v1h-1zM18 45h1v2h-1zM18 49h1v1h-1zM18 51h1v3h-1zM18 55h1v8h-1zM18 64h1v1h-1zM18 66h1v2h-1zM18 117h1v1h-1zM18 121h1v1h-1zM18 125h1v1h-1zM18 130h1v1h-1zM18 132h1v6h-1zM18 139h1v6h-1zM18 146h1v4h-1zM18 151h1v1h-1zM18 153h1v1h-1zM18 155h1v1h-1zM19 28h1v2h-1zM19 34h1v2h-1zM19 37h1v2h-1zM19 43h1v1h-1zM19 45h1v2h-1zM19 49h1v1h-1zM19 51h1v3h-1zM19 55h1v8h-1zM19 64h1v1h-1zM19 66h1v2h-1zM19 117h1v1h-1zM19 121h1v1h-1zM19 125h1v1h-1zM19 130h1v1h-1zM19 132h1v6h-1zM19 139h1v6h-1zM19 146h1v4h-1zM19 151h1v1h-1zM19 153h1v1h-1zM19 155h1v1h-1zM20 28h1v2h-1zM20 34h1v2h-1zM20 37h1v2h-1zM20 43h1v1h-1zM20 45h1v2h-1zM20 49h1v1h-1zM20 51h1v3h-1zM20 55h1v8h-1zM20 64h1v1h-1zM20 66h1v2h-1zM20 117h1v1h-1zM20 121h1v1h-1zM20 125h1v1h-1zM20 130h1v1h-1zM20 132h1v6h-1zM20 139h1v6h-1zM20 146h1v4h-1zM20 151h1v1h-1zM20 153h1v1h-1zM20 155h1v1h-1zM21 28h1v2h-1zM21 34h1v2h-1zM21 37h1v2h-1zM21 43h1v1h-1zM21 45h1v2h-1zM21 49h1v1h-1zM21 51h1v3h-1zM21 55h1v8h-1zM21 64h1v1h-1zM21 66h1v2h-1zM21 117h1v1h-1zM21 121h1v1h-1zM21 125h1v1h-1zM21 130h1v1h-1zM21 132h1v6h-1zM21 139h1v6h-1zM21 146h1v4h-1zM21 151h1v1h-1zM21 153h1v1h-1zM21 155h1v1h-1zM22 28h1v2h-1zM22 34h1v2h-1zM22 37h1v2h-1zM22 43h1v1h-1zM22 45h1v2h-1zM22 49h1v1h-1zM22 51h1v3h-1zM22 55h1v8h-1zM22 64h1v1h-1zM22 66h1v2h-1zM22 117h1v1h-1zM22 121h1v1h-1zM22 125h1v1h-1zM22 130h1v1h-1zM22 132h1v6h-1zM22 139h1v6h-1zM22 146h1v4h-1zM22 151h1v1h-1zM22 153h1v1h-1zM22 155h1v1h-1zM23 116h1v1h-1zM23 122h1v1h-1zM23 127h1v1h-1zM23 132h1v1h-1zM23 134h1v4h-1zM23 140h1v2h-1zM23 143h1v2h-1zM23 147h1v3h-1zM23 151h1v1h-1zM23 153h1v1h-1zM23 155h1v1h-1zM24 116h1v1h-1zM24 122h1v1h-1zM24 127h1v1h-1zM24 132h1v1h-1zM24 134h1v4h-1zM24 140h1v2h-1zM24 143h1v2h-1zM24 147h1v3h-1zM24 151h1v1h-1zM24 153h1v1h-1zM24 155h1v1h-1zM25 116h1v1h-1zM25 122h1v1h-1zM25 127h1v1h-1zM25 132h1v1h-1zM25 134h1v4h-1zM25 140h1v2h-1zM25 143h1v2h-1zM25 147h1v3h-1zM25 151h1v1h-1zM25 153h1v1h-1zM25 155h1v1h-1zM26 116h1v1h-1zM26 122h1v1h-1zM26 127h1v1h-1zM26 132h1v1h-1zM26 134h1v4h-1zM26 140h1v2h-1zM26 143h1v2h-1zM26 147h1v3h-1zM26 151h1v1h-1zM26 153h1v1h-1zM26 155h1v1h-1zM27 116h1v1h-1zM27 122h1v1h-1zM27 127h1v1h-1zM27 132h1v1h-1zM27 134h1v4h-1zM27 140h1v2h-1zM27 143h1v2h-1zM27 147h1v3h-1zM27 151h1v1h-1zM27 153h1v1h-1zM27 155h1v1h-1zM28 120h1v1h-1zM28 124h1v1h-1zM28 128h1v2h-1zM28 138h1v1h-1zM28 145h1v1h-1zM28 154h1v1h-1zM29 120h1v1h-1zM29 124h1v1h-1zM29 128h1v2h-1zM29 138h1v1h-1zM29 145h1v1h-1zM29 154h1v1h-1zM32 110h1v2h-1zM32 116h1v1h-1zM32 122h1v1h-1zM32 127h1v1h-1zM32 132h1v1h-1zM32 134h1v4h-1zM32 140h1v2h-1zM32 143h1v2h-1zM32 147h1v3h-1zM32 151h1v1h-1zM32 153h1v1h-1zM32 155h1v1h-1zM33 75h1v1h-1zM33 110h1v2h-1zM33 116h1v1h-1zM33 122h1v1h-1zM33 127h1v1h-1zM33 132h1v1h-1zM33 134h1v4h-1zM33 140h1v2h-1zM33 143h1v2h-1zM33 147h1v3h-1zM33 151h1v1h-1zM33 153h1v1h-1zM33 155h1v1h-1zM34 120h1v1h-1zM34 124h1v1h-1zM34 128h1v2h-1zM34 138h1v1h-1zM34 145h1v1h-1zM34 154h1v1h-1zM35 120h1v1h-1zM35 124h1v1h-1zM35 128h1v2h-1zM35 138h1v1h-1zM35 145h1v1h-1zM35 154h1v1h-1zM37 120h1v1h-1zM37 124h1v1h-1zM37 128h1v2h-1zM37 138h1v1h-1zM37 145h1v1h-1zM37 154h1v1h-1zM38 120h1v1h-1zM38 124h1v1h-1zM38 128h1v2h-1zM38 138h1v1h-1zM38 145h1v1h-1zM38 154h1v1h-1zM39 110h1v2h-1zM39 116h1v1h-1zM39 122h1v1h-1zM39 127h1v1h-1zM39 132h1v1h-1zM39 134h1v4h-1zM39 140h1v2h-1zM39 143h1v2h-1zM39 147h1v3h-1zM39 151h1v1h-1zM39 153h1v1h-1zM39 155h1v1h-1zM40 110h1v2h-1zM40 116h1v1h-1zM40 122h1v1h-1zM40 127h1v1h-1zM40 132h1v1h-1zM40 134h1v4h-1zM40 140h1v2h-1zM40 143h1v2h-1zM40 147h1v3h-1zM40 151h1v1h-1zM40 153h1v1h-1zM40 155h1v1h-1zM43 120h1v1h-1zM43 124h1v1h-1zM43 128h1v2h-1zM43 138h1v1h-1zM43 145h1v1h-1zM43 154h1v1h-1zM44 110h1v2h-1zM44 116h1v1h-1zM44 122h1v1h-1zM44 127h1v1h-1zM44 132h1v1h-1zM44 134h1v4h-1zM44 140h1v2h-1zM44 143h1v2h-1zM44 147h1v3h-1zM44 151h1v1h-1zM44 153h1v1h-1zM44 155h1v1h-1zM45 120h1v1h-1zM45 124h1v1h-1zM45 128h1v2h-1zM45 138h1v1h-1zM45 145h1v1h-1zM45 154h1v1h-1zM46 120h1v1h-1zM46 124h1v1h-1zM46 128h1v2h-1zM46 138h1v1h-1zM46 145h1v1h-1zM46 154h1v1h-1zM49 120h1v1h-1zM49 124h1v1h-1zM49 128h1v2h-1zM49 138h1v1h-1zM49 145h1v1h-1zM49 154h1v1h-1zM52 120h1v1h-1zM52 124h1v1h-1zM52 128h1v2h-1zM52 138h1v1h-1zM52 145h1v1h-1zM52 154h1v1h-1zM53 120h1v1h-1zM53 124h1v1h-1zM53 128h1v2h-1zM53 138h1v1h-1zM53 145h1v1h-1zM53 154h1v1h-1zM55 120h1v1h-1zM55 124h1v1h-1zM55 128h1v2h-1zM55 138h1v1h-1zM55 145h1v1h-1zM55 154h1v1h-1zM56 120h1v1h-1zM56 124h1v1h-1zM56 128h1v2h-1zM56 138h1v1h-1zM56 145h1v1h-1zM56 154h1v1h-1zM57 120h1v1h-1zM57 124h1v1h-1zM57 128h1v2h-1zM57 138h1v1h-1zM57 145h1v1h-1zM57 154h1v1h-1zM58 120h1v1h-1zM58 124h1v1h-1zM58 128h1v2h-1zM58 138h1v1h-1zM58 145h1v1h-1zM58 154h1v1h-1zM59 120h1v1h-1zM59 124h1v1h-1zM59 128h1v2h-1zM59 138h1v1h-1zM59 145h1v1h-1zM59 154h1v1h-1zM60 120h1v1h-1zM60 124h1v1h-1zM60 128h1v2h-1zM60 138h1v1h-1zM60 145h1v1h-1zM60 154h1v1h-1zM61 120h1v1h-1zM61 124h1v1h-1zM61 128h1v2h-1zM61 138h1v1h-1zM61 145h1v1h-1zM61 154h1v1h-1zM62 120h1v1h-1zM62 124h1v1h-1zM62 128h1v2h-1zM62 138h1v1h-1zM62 145h1v1h-1zM62 154h1v1h-1zM63 136h1v14h-1zM63 151h1v6h-1zM77 132h1v1h-1zM77 134h1v4h-1zM77 140h1v2h-1zM77 143h1v2h-1zM77 147h1v3h-1zM77 151h1v1h-1zM77 153h1v1h-1zM77 155h1v1h-1zM78 132h1v1h-1zM78 134h1v4h-1zM78 140h1v2h-1zM78 143h1v2h-1zM78 147h1v3h-1zM78 151h1v1h-1zM78 153h1v1h-1zM78 155h1v1h-1zM79 132h1v1h-1zM79 134h1v4h-1zM79 140h1v2h-1zM79 143h1v2h-1zM79 147h1v3h-1zM79 151h1v1h-1zM79 153h1v1h-1zM79 155h1v1h-1zM81 132h1v1h-1zM81 134h1v4h-1zM81 140h1v2h-1zM81 143h1v2h-1zM81 147h1v3h-1zM81 151h1v1h-1zM81 153h1v1h-1zM81 155h1v1h-1zM83 132h1v1h-1zM83 134h1v4h-1zM83 140h1v2h-1zM83 143h1v2h-1zM83 147h1v3h-1zM83 151h1v1h-1zM83 153h1v1h-1zM83 155h1v1h-1zM84 132h1v1h-1zM84 134h1v4h-1zM84 140h1v2h-1zM84 143h1v2h-1zM84 147h1v3h-1zM84 151h1v1h-1zM84 153h1v1h-1zM84 155h1v1h-1z"/>
<path fill="#f6932f" d="M0 76h1v1h-1zM0 120h1v1h-1zM0 124h1v1h-1zM0 128h1v2h-1zM0 138h1v1h-1zM0 145h1v1h-1zM0 154h1v1h-1zM1 76h1v1h-1zM1 120h1v1h-1zM1 124h1v1h-1zM1 128h1v2h-1zM1 138h1v1h-1zM1 145h1v1h-1zM1 154h1v1h-1zM3 76h1v1h-1zM3 120h1v1h-1zM3 124h1v1h-1zM3 128h1v2h-1zM3 138h1v1h-1zM3 145h1v1h-1zM3 154h1v1h-1zM4 76h1v1h-1zM5 76h1v1h-1zM6 76h1v1h-1zM7 76h1v1h-1zM7 120h1v1h-1zM7 124h1v1h-1zM7 128h1v2h-1zM7 138h1v1h-1zM7 145h1v1h-1zM7 154h1v1h-1zM8 76h1v1h-1zM9 76h1v1h-1zM9 161h1v1h-1zM10 76h1v1h-1zM10 161h1v1h-1zM11 76h1v1h-1zM13 76h1v1h-1zM13 120h1v1h-1zM13 124h1v1h-1zM13 128h1v2h-1zM13 138h1v1h-1zM13 145h1v1h-1zM13 154h1v1h-1zM14 76h1v1h-1zM14 120h1v1h-1zM14 124h1v1h-1zM14 128h1v2h-1zM14 138h1v1h-1zM14 145h1v1h-1zM14 154h1v1h-1zM15 76h1v1h-1zM16 161h1v2h-1zM17 76h1v1h-1zM17 120h1v1h-1zM17 124h1v1h-1zM17 128h1v2h-1zM17 138h1v1h-1zM17 145h1v1h-1zM17 154h1v1h-1zM18 76h1v1h-1zM18 120h1v1h-1zM18 124h1v1h-1zM18 128h1v2h-1zM18 138h1v1h-1zM18 145h1v1h-1zM18 154h1v1h-1zM19 76h1v1h-1zM19 120h1v1h-1zM19 124h1v1h-1zM19 128h1v2h-1zM19 138h1v1h-1zM19 145h1v1h-1zM19 154h1v1h-1zM20 76h1v1h-1zM20 120h1v1h-1zM20 124h1v1h-1zM20 128h1v2h-1zM20 138h1v1h-1zM20 145h1v1h-1zM20 154h1v1h-1zM21 76h1v1h-1zM21 120h1v1h-1zM21 124h1v1h-1zM21 128h1v2h-1zM21 138h1v1h-1zM21 145h1v1h-1zM21 154h1v1h-1zM22 76h1v1h-1zM22 120h1v1h-1zM22 124h1v1h-1zM22 128h1v2h-1zM22 138h1v1h-1zM22 145h1v1h-1zM22 154h1v1h-1zM23 117h1v1h-1zM23 120h1v2h-1zM23 124h1v2h-1zM23 128h1v3h-1zM23 133h1v1h-1zM23 138h1v2h-1zM23 142h1v1h-1zM23 145h1v2h-1zM23 154h1v1h-1zM24 117h1v1h-1zM24 120h1v2h-1zM24 124h1v2h-1zM24 128h1v3h-1zM24 133h1v1h-1zM24 138h1v2h-1zM24 142h1v1h-1zM24 145h1v2h-1zM24 154h1v1h-1zM25 117h1v1h-1zM25 120h1v2h-1zM25 124h1v2h-1zM25 128h1v3h-1zM25 133h1v1h-1zM25 138h1v2h-1zM25 142h1v1h-1zM25 145h1v2h-1zM25 154h1v1h-1zM26 117h1v1h-1zM26 120h1v2h-1zM26 124h1v2h-1zM26 128h1v3h-1zM26 133h1v1h-1zM26 138h1v2h-1zM26 142h1v1h-1zM26 145h1v2h-1zM26 154h1v1h-1zM27 117h1v1h-1zM27 120h1v2h-1zM27 124h1v2h-1zM27 128h1v3h-1zM27 133h1v1h-1zM27 138h1v2h-1zM27 142h1v1h-1zM27 145h1v2h-1zM27 154h1v1h-1zM38 75h1v1h-1zM39 75h1v1h-1zM40 75h1v1h-1zM44 75h1v1h-1zM64 75h1v1h-1zM77 121h1v2h-1zM77 125h1v1h-1zM77 127h1v1h-1zM77 130h1v1h-1zM77 133h1v1h-1zM77 139h1v1h-1zM77 142h1v1h-1zM77 146h1v1h-1zM77 152h1v1h-1zM78 121h1v2h-1zM78 125h1v1h-1zM78 127h1v1h-1zM78 130h1v1h-1zM78 133h1v1h-1zM78 139h1v1h-1zM78 142h1v1h-1zM78 146h1v1h-1zM78 152h1v1h-1zM79 121h1v2h-1zM79 125h1v1h-1zM79 127h1v1h-1zM79 130h1v1h-1zM79 133h1v1h-1zM79 139h1v1h-1zM79 142h1v1h-1zM79 146h1v1h-1zM79 152h1v1h-1zM81 121h1v2h-1zM81 125h1v1h-1zM81 127h1v1h-1zM81 130h1v1h-1zM81 133h1v1h-1zM81 139h1v1h-1zM81 142h1v1h-1zM81 146h1v1h-1zM81 152h1v1h-1zM83 121h1v2h-1zM83 125h1v1h-1zM83 127h1v1h-1zM83 130h1v1h-1zM83 133h1v1h-1zM83 139h1v1h-1zM83 142h1v1h-1zM83 146h1v1h-1zM83 152h1v1h-1zM84 121h1v2h-1zM84 125h1v1h-1zM84 127h1v1h-1zM84 130h1v1h-1zM84 133h1v1h-1zM84 139h1v1h-1zM84 142h1v1h-1zM84 146h1v1h-1zM84 152h1v1h-1zM94 152h1v1h-1z"/>
<path fill="#f7842a" d="M4 117h1v1h-1zM4 121h1v1h-1zM4 125h1v1h-1zM4 130h1v1h-1zM4 132h1v6h-1zM4 139h1v6h-1zM4 146h1v4h-1zM4 151h1v1h-1zM4 153h1v1h-1zM4 155h1v1h-1zM5 117h1v1h-1zM5 121h1v1h-1zM5 125h1v1h-1zM5 130h1v1h-1zM5 132h1v6h-1zM5 139h1v6h-1zM5 146h1v4h-1zM5 151h1v1h-1zM5 153h1v1h-1zM5 155h1v1h-1zM6 117h1v1h-1zM6 121h1v1h-1zM6 125h1v1h-1zM6 130h1v1h-1zM6 132h1v6h-1zM6 139h1v6h-1zM6 146h1v4h-1zM6 151h1v1h-1zM6 153h1v1h-1zM6 155h1v1h-1zM8 117h1v1h-1zM8 121h1v1h-1zM8 125h1v1h-1zM8 130h1v1h-1zM8 132h1v6h-1zM8 139h1v6h-1zM8 146h1v4h-1zM8 151h1v1h-1zM8 153h1v1h-1zM8 155h1v1h-1zM9 117h1v1h-1zM9 121h1v1h-1zM9 125h1v1h-1zM9 130h1v1h-1zM9 132h1v6h-1zM9 139h1v6h-1zM9 146h1v4h-1zM9 151h1v1h-1zM9 153h1v1h-1zM9 155h1v1h-1zM10 117h1v1h-1zM10 121h1v1h-1zM10 125h1v1h-1zM10 130h1v1h-1zM10 132h1v6h-1zM10 139h1v6h-1zM10 146h1v4h-1zM10 151h1v1h-1zM10 153h1v1h-1zM10 155h1v1h-1zM28 93h1v1h-1zM29 93h1v1h-1zM32 79h1v1h-1zM32 86h1v1h-1zM32 89h1v2h-1zM32 102h1v3h-1zM32 106h1v1h-1zM32 108h1v1h-1zM33 79h1v1h-1zM33 86h1v1h-1zM33 89h1v2h-1zM33 102h1v3h-1zM33 106h1v1h-1zM33 108h1v1h-1zM34 68h1v1h-1zM34 93h1v1h-1zM35 68h1v1h-1zM35 93h1v1h-1zM37 68h1v1h-1zM37 93h1v1h-1zM38 68h1v1h-1zM38 93h1v1h-1zM39 79h1v1h-1zM39 86h1v1h-1zM39 89h1v2h-1zM39 102h1v3h-1zM39 106h1v1h-1zM39 108h1v1h-1zM40 79h1v1h-1zM40 86h1v1h-1zM40 89h1v2h-1zM40 102h1v3h-1zM40 106h1v1h-1zM40 108h1v1h-1zM43 68h1v1h-1zM43 93h1v1h-1zM44 79h1v1h-1zM44 86h1v1h-1zM44 89h1v2h-1zM44 102h1v3h-1zM44 106h1v1h-1zM44 108h1v1h-1zM45 68h1v1h-1zM45 93h1v1h-1zM46 68h1v1h-1zM46 93h1v1h-1zM49 68h1v1h-1zM49 93h1v1h-1zM52 68h1v1h-1zM52 93h1v1h-1zM53 68h1v1h-1zM53 93h1v1h-1zM55 68h1v1h-1zM55 93h1v1h-1zM56 68h1v1h-1zM56 93h1v1h-1zM57 68h1v1h-1zM57 93h1v1h-1zM58 68h1v1h-1zM58 93h1v1h-1zM59 68h1v1h-1zM59 93h1v1h-1zM60 68h1v1h-1zM60 93h1v1h-1zM61 68h1v1h-1zM61 93h1v1h-1zM62 68h1v1h-1zM62 93h1v1h-1zM64 77h1v3h-1zM64 81h1v1h-1zM64 83h1v17h-1zM64 101h1v4h-1zM64 106h1v1h-1zM64 108h1v1h-1zM64 110h1v3h-1zM64 116h1v2h-1zM64 120h1v3h-1zM64 124h1v2h-1zM64 127h1v4h-1zM64 132h1v4h-1zM65 136h1v14h-1zM65 151h1v6h-1zM66 68h1v1h-1zM66 93h1v1h-1zM66 110h1v3h-1zM66 116h1v1h-1zM66 122h1v1h-1zM66 127h1v1h-1zM66 132h1v1h-1zM66 134h1v4h-1zM66 140h1v2h-1zM66 143h1v2h-1zM66 147h1v3h-1zM66 151h1v3h-1zM66 155h1v1h-1zM67 68h1v1h-1zM67 93h1v1h-1zM67 110h1v3h-1zM67 116h1v1h-1zM67 122h1v1h-1zM67 127h1v1h-1zM67 132h1v1h-1zM67 134h1v4h-1zM67 140h1v2h-1zM67 143h1v2h-1zM67 147h1v3h-1zM67 151h1v3h-1zM67 155h1v1h-1zM68 110h1v3h-1zM68 116h1v1h-1zM68 122h1v1h-1zM68 127h1v1h-1zM68 132h1v1h-1zM68 134h1v4h-1zM68 140h1v2h-1zM68 143h1v2h-1zM68 147h1v3h-1zM68 151h1v3h-1zM68 155h1v1h-1zM69 72h1v1h-1zM69 110h1v3h-1zM69 116h1v1h-1zM69 122h1v1h-1zM69 127h1v1h-1zM69 132h1v1h-1zM69 134h1v4h-1zM69 140h1v2h-1zM69 143h1v2h-1zM69 147h1v3h-1zM69 151h1v3h-1zM69 155h1v1h-1zM70 110h1v3h-1zM70 116h1v1h-1zM70 122h1v1h-1zM70 127h1v1h-1zM70 132h1v1h-1zM70 134h1v2h-1zM71 110h1v3h-1zM71 116h1v1h-1zM71 122h1v1h-1zM71 127h1v1h-1zM71 132h1v1h-1zM71 134h1v4h-1zM71 140h1v2h-1zM71 143h1v2h-1zM71 147h1v3h-1zM71 151h1v3h-1zM71 155h1v1h-1zM72 110h1v3h-1zM72 116h1v1h-1zM72 122h1v1h-1zM72 127h1v1h-1zM72 132h1v1h-1zM72 134h1v4h-1zM72 140h1v2h-1zM72 143h1v2h-1zM72 147h1v3h-1zM72 151h1v3h-1zM72 155h1v1h-1zM73 110h1v3h-1zM73 116h1v1h-1zM73 122h1v1h-1zM73 127h1v1h-1zM73 132h1v1h-1zM73 134h1v4h-1zM73 140h1v2h-1zM73 143h1v2h-1zM73 147h1v3h-1zM73 151h1v3h-1zM73 155h1v1h-1zM74 110h1v3h-1zM74 116h1v1h-1zM74 122h1v1h-1zM74 127h1v1h-1zM74 132h1v1h-1zM74 134h1v4h-1zM74 140h1v2h-1zM74 143h1v2h-1zM74 147h1v3h-1zM74 151h1v3h-1zM74 155h1v1h-1zM77 120h1v1h-1zM77 124h1v1h-1zM77 128h1v2h-1zM77 138h1v1h-1zM77 145h1v1h-1zM77 154h1v1h-1zM78 120h1v1h-1zM78 124h1v1h-1zM78 128h1v2h-1zM78 138h1v1h-1zM78 145h1v1h-1zM78 154h1v1h-1zM79 120h1v1h-1zM79 124h1v1h-1zM79 128h1v2h-1zM79 138h1v1h-1zM79 145h1v1h-1zM79 154h1v1h-1zM80 115h1v1h-1zM81 120h1v1h-1zM81 124h1v1h-1zM81 128h1v2h-1zM81 138h1v1h-1zM81 145h1v1h-1zM81 154h1v1h-1zM82 115h1v1h-1zM83 120h1v1h-1zM83 124h1v1h-1zM83 128h1v2h-1zM83 138h1v1h-1zM83 145h1v1h-1zM83 154h1v1h-1zM84 120h1v1h-1zM84 124h1v1h-1zM84 128h1v2h-1zM84 138h1v1h-1zM84 145h1v1h-1zM84 154h1v1h-1zM85 115h1v1h-1zM85 132h1v1h-1zM85 134h1v4h-1zM85 140h1v2h-1zM85 143h1v2h-1zM85 147h1v3h-1zM85 151h1v1h-1zM85 153h1v1h-1zM85 155h1v1h-1zM86 115h1v1h-1zM86 132h1v1h-1zM86 134h1v4h-1zM86 140h1v2h-1zM86 143h1v2h-1zM86 147h1v3h-1zM86 151h1v1h-1zM86 153h1v1h-1zM86 155h1v1h-1zM87 115h1v1h-1zM87 132h1v1h-1zM87 134h1v4h-1zM87 140h1v2h-1zM87 143h1v2h-1zM87 147h1v3h-1zM87 151h1v1h-1zM87 153h1v1h-1zM87 155h1v1h-1zM88 115h1v1h-1zM88 132h1v1h-1zM88 134h1v4h-1zM88 140h1v2h-1zM88 143h1v2h-1zM88 147h1v3h-1zM88 151h1v1h-1zM88 153h1v1h-1zM88 155h1v1h-1zM89 115h1v1h-1zM89 132h1v1h-1zM89 134h1v4h-1zM89 140h1v2h-1zM89 143h1v2h-1zM89 147h1v3h-1zM89 151h1v1h-1zM89 153h1v1h-1zM89 155h1v1h-1zM90 115h1v1h-1zM90 132h1v1h-1zM90 134h1v4h-1zM90 140h1v2h-1zM90 143h1v2h-1zM90 147h1v3h-1zM90 151h1v1h-1zM90 153h1v1h-1zM90 155h1v1h-1zM91 115h1v1h-1zM91 132h1v1h-1zM91 134h1v4h-1zM91 140h1v2h-1zM91 143h1v2h-1zM91 147h1v3h-1zM91 151h1v1h-1zM91 153h1v1h-1zM91 155h1v1h-1zM92 115h1v1h-1zM92 132h1v1h-1zM92 134h1v4h-1zM92 140h1v2h-1zM92 143h1v2h-1zM92 147h1v3h-1zM92 151h1v1h-1zM92 153h1v1h-1zM92 155h1v1h-1zM93 115h1v1h-1zM93 132h1v1h-1zM93 134h1v4h-1zM93 140h1v2h-1zM93 143h1v2h-1zM93 147h1v3h-1zM93 151h1v1h-1zM93 153h1v1h-1zM93 155h1v1h-1zM94 121h1v1h-1zM94 125h1v1h-1zM94 130h1v1h-1zM94 133h1v1h-1zM94 139h1v1h-1zM94 142h1v1h-1zM94 146h1v1h-1z"/>
<path fill="#f87626" d="M4 120h1v1h-1zM4 124h1v1h-1zM4 128h1v2h-1zM4 138h1v1h-1zM4 145h1v1h-1zM4 154h1v1h-1zM5 120h1v1h-1zM5 124h1v1h-1zM5 128h1v2h-1zM5 138h1v1h-1zM5 145h1v1h-1zM5 154h1v1h-1zM6 120h1v1h-1zM6 124h1v1h-1zM6 128h1v2h-1zM6 138h1v1h-1zM6 145h1v1h-1zM6 154h1v1h-1zM8 120h1v1h-1zM8 124h1v1h-1zM8 128h1v2h-1zM8 138h1v1h-1zM8 145h1v1h-1zM8 154h1v1h-1zM9 120h1v1h-1zM9 124h1v1h-1zM9 128h1v2h-1zM9 138h1v1h-1zM9 145h1v1h-1zM9 154h1v1h-1zM10 120h1v1h-1zM10 124h1v1h-1zM10 128h1v2h-1zM10 138h1v1h-1zM10 145h1v1h-1zM10 154h1v1h-1zM30 163h1v2h-1zM32 112h1v1h-1zM32 152h1v1h-1zM33 112h1v1h-1zM33 152h1v1h-1zM36 163h1v2h-1zM39 112h1v1h-1zM39 152h1v1h-1zM40 112h1v1h-1zM40 152h1v1h-1zM42 163h1v2h-1zM44 112h1v1h-1zM44 152h1v1h-1zM48 163h1v2h-1zM50 163h1v2h-1zM66 117h1v1h-1zM66 120h1v2h-1zM66 124h1v2h-1zM66 128h1v3h-1zM66 133h1v1h-1zM66 138h1v2h-1zM66 142h1v1h-1zM66 145h1v2h-1zM66 154h1v1h-1zM67 117h1v1h-1zM67 120h1v2h-1zM67 124h1v2h-1zM67 128h1v3h-1zM67 133h1v1h-1zM67 138h1v2h-1zM67 142h1v1h-1zM67 145h1v2h-1zM67 154h1v1h-1zM68 117h1v1h-1zM68 120h1v2h-1zM68 124h1v2h-1zM68 128h1v3h-1zM68 133h1v1h-1zM68 138h1v2h-1zM68 142h1v1h-1zM68 145h1v2h-1zM68 154h1v1h-1zM69 117h1v1h-1zM69 120h1v2h-1zM69 124h1v2h-1zM69 128h1v3h-1zM69 133h1v1h-1zM69 138h1v2h-1zM69 142h1v1h-1zM69 145h1v2h-1zM69 154h1v1h-1zM70 117h1v1h-1zM70 120h1v2h-1zM70 124h1v2h-1zM70 128h1v3h-1zM70 133h1v1h-1zM71 117h1v1h-1zM71 120h1v2h-1zM71 124h1v2h-1zM71 128h1v3h-1zM71 133h1v1h-1zM71 138h1v2h-1zM71 142h1v1h-1zM71 145h1v2h-1zM71 154h1v1h-1zM72 117h1v1h-1zM72 120h1v2h-1zM72 124h1v2h-1zM72 128h1v3h-1zM72 133h1v1h-1zM72 138h1v2h-1zM72 142h1v1h-1zM72 145h1v2h-1zM72 154h1v1h-1zM73 117h1v1h-1zM73 120h1v2h-1zM73 124h1v2h-1zM73 128h1v3h-1zM73 133h1v1h-1zM73 138h1v2h-1zM73 142h1v1h-1zM73 145h1v2h-1zM73 154h1v1h-1zM74 117h1v1h-1zM74 120h1v2h-1zM74 124h1v2h-1zM74 128h1v3h-1zM74 133h1v1h-1zM74 138h1v2h-1zM74 142h1v1h-1zM74 145h1v2h-1zM74 154h1v1h-1zM77 110h1v3h-1zM77 116h1v2h-1zM78 110h1v3h-1zM78 116h1v2h-1zM79 110h1v3h-1zM79 116h1v2h-1zM80 132h1v1h-1zM80 134h1v4h-1zM80 140h1v2h-1zM80 143h1v2h-1zM80 147h1v3h-1zM80 151h1v1h-1zM80 153h1v1h-1zM80 155h1v1h-1zM81 110h1v3h-1zM81 116h1v2h-1zM82 132h1v1h-1zM82 134h1v4h-1zM82 140h1v2h-1zM82 143h1v2h-1zM82 147h1v3h-1zM82 151h1v1h-1zM82 153h1v1h-1zM82 155h1v1h-1zM83 110h1v3h-1zM83 116h1v2h-1zM84 110h1v3h-1zM84 116h1v2h-1zM85 133h1v1h-1zM85 139h1v1h-1zM85 142h1v1h-1zM85 146h1v1h-1zM85 152h1v1h-1zM86 133h1v1h-1zM86 139h1v1h-1zM86 142h1v1h-1zM86 146h1v1h-1zM86 152h1v1h-1zM87 133h1v1h-1zM87 139h1v1h-1zM87 142h1v1h-1zM87 146h1v1h-1zM87 152h1v1h-1zM88 133h1v1h-1zM88 139h1v1h-1zM88 142h1v1h-1zM88 146h1v1h-1zM88 152h1v1h-1zM89 133h1v1h-1zM89 139h1v1h-1zM89 142h1v1h-1zM89 146h1v1h-1zM89 152h1v1h-1zM90 133h1v1h-1zM90 139h1v1h-1zM90 142h1v1h-1zM90 146h1v1h-1zM90 152h1v1h-1zM91 133h1v1h-1zM91 139h1v1h-1zM91 142h1v1h-1zM91 146h1v1h-1zM91 152h1v1h-1zM92 133h1v1h-1zM92 139h1v1h-1zM92 142h1v1h-1zM92 146h1v1h-1zM92 152h1v1h-1zM93 133h1v1h-1zM93 139h1v1h-1zM93 142h1v1h-1zM93 146h1v1h-1zM93 152h1v1h-1zM95 115h1v1h-1zM95 140h1v2h-1zM95 143h1v2h-1zM95 147h1v3h-1zM95 151h1v1h-1zM95 153h1v1h-1zM95 155h1v1h-1zM96 115h1v1h-1zM96 140h1v2h-1zM96 143h1v2h-1zM96 147h1v3h-1zM96 151h1v1h-1zM96 153h1v1h-1zM96 155h1v1h-1zM97 115h1v1h-1zM97 140h1v2h-1zM97 143h1v2h-1zM97 147h1v3h-1zM97 151h1v1h-1zM97 153h1v1h-1zM97 155h1v1h-1zM98 115h1v1h-1zM98 140h1v2h-1zM98 143h1v2h-1zM98 147h1v3h-1zM98 151h1v1h-1zM98 153h1v1h-1zM98 155h1v1h-1zM99 115h1v1h-1zM99 140h1v2h-1zM99 143h1v2h-1zM99 147h1v3h-1zM99 151h1v1h-1zM99 153h1v1h-1zM99 155h1v1h-1zM101 115h1v1h-1zM101 140h1v2h-1zM101 143h1v2h-1zM101 147h1v3h-1zM101 151h1v1h-1zM101 153h1v1h-1zM101 155h1v1h-1zM102 115h1v1h-1zM102 140h1v2h-1zM102 143h1v2h-1zM102 147h1v3h-1zM102 151h1v1h-1zM102 153h1v1h-1zM102 155h1v1h-1zM103 115h1v1h-1zM103 140h1v2h-1zM103 143h1v2h-1zM103 147h1v3h-1zM103 151h1v1h-1zM103 153h1v1h-1zM103 155h1v1h-1zM110 112h1v6h-1zM110 119h1v12h-1zM110 132h1v25h-1zM158 162h1v1h-1z"/>
<path fill="#f86721" d="M32 77h1v2h-1zM32 81h1v1h-1zM32 83h1v3h-1zM32 87h1v2h-1zM32 91h1v2h-1zM32 95h1v5h-1zM32 101h1v1h-1zM32 117h1v1h-1zM32 121h1v1h-1zM32 125h1v1h-1zM32 130h1v1h-1zM32 133h1v1h-1zM32 139h1v1h-1zM32 142h1v1h-1zM32 146h1v1h-1zM33 77h1v2h-1zM33 81h1v1h-1zM33 83h1v3h-1zM33 87h1v2h-1zM33 91h1v2h-1zM33 95h1v5h-1zM33 101h1v1h-1zM33 117h1v1h-1zM33 121h1v1h-1zM33 125h1v1h-1zM33 130h1v1h-1zM33 133h1v1h-1zM33 139h1v1h-1zM33 142h1v1h-1zM33 146h1v1h-1zM39 77h1v2h-1zM39 81h1v1h-1zM39 83h1v3h-1zM39 87h1v2h-1zM39 91h1v2h-1zM39 95h1v5h-1zM39 101h1v1h-1zM39 117h1v1h-1zM39 121h1v1h-1zM39 125h1v1h-1zM39 130h1v1h-1zM39 133h1v1h-1zM39 139h1v1h-1zM39 142h1v1h-1zM39 146h1v1h-1zM40 77h1v2h-1zM40 81h1v1h-1zM40 83h1v3h-1zM40 87h1v2h-1zM40 91h1v2h-1zM40 95h1v5h-1zM40 101h1v1h-1zM40 117h1v1h-1zM40 121h1v1h-1zM40 125h1v1h-1zM40 130h1v1h-1zM40 133h1v1h-1zM40 139h1v1h-1zM40 142h1v1h-1zM40 146h1v1h-1zM44 77h1v2h-1zM44 81h1v1h-1zM44 83h1v3h-1zM44 87h1v2h-1zM44 91h1v2h-1zM44 95h1v5h-1zM44 101h1v1h-1zM44 117h1v1h-1zM44 121h1v1h-1zM44 125h1v1h-1zM44 130h1v1h-1zM44 133h1v1h-1zM44 139h1v1h-1zM44 142h1v1h-1zM44 146h1v1h-1zM77 119h1v1h-1zM77 123h1v1h-1zM77 126h1v1h-1zM78 119h1v1h-1zM78 123h1v1h-1zM78 126h1v1h-1zM79 119h1v1h-1zM79 123h1v1h-1zM79 126h1v1h-1zM80 121h1v2h-1zM80 125h1v1h-1zM80 127h1v1h-1zM80 130h1v1h-1zM80 133h1v1h-1zM80 139h1v1h-1zM80 142h1v1h-1zM80 146h1v1h-1zM80 152h1v1h-1zM81 119h1v1h-1zM81 123h1v1h-1zM81 126h1v1h-1zM82 121h1v2h-1zM82 125h1v1h-1zM82 127h1v1h-1zM82 130h1v1h-1zM82 133h1v1h-1zM82 139h1v1h-1zM82 142h1v1h-1zM82 146h1v1h-1zM82 152h1v1h-1zM83 119h1v1h-1zM83 123h1v1h-1zM83 126h1v1h-1zM84 119h1v1h-1zM84 123h1v1h-1zM84 126h1v1h-1zM85 121h1v2h-1zM85 125h1v1h-1zM85 127h1v1h-1zM85 130h1v1h-1zM85 138h1v1h-1zM85 145h1v1h-1zM85 154h1v1h-1zM86 121h1v2h-1zM86 125h1v1h-1zM86 127h1v1h-1zM86 130h1v1h-1zM86 138h1v1h-1zM86 145h1v1h-1zM86 154h1v1h-1zM87 121h1v2h-1zM87 125h1v1h-1zM87 127h1v1h-1zM87 130h1v1h-1zM87 138h1v1h-1zM87 145h1v1h-1zM87 154h1v1h-1zM88 121h1v2h-1zM88 125h1v1h-1zM88 127h1v1h-1zM88 130h1v1h-1zM88 138h1v1h-1zM88 145h1v1h-1zM88 154h1v1h-1zM89 121h1v2h-1zM89 125h1v1h-1zM89 127h1v1h-1zM89 130h1v1h-1zM89 138h1v1h-1zM89 145h1v1h-1zM89 154h1v1h-1zM90 121h1v2h-1zM90 125h1v1h-1zM90 127h1v1h-1zM90 130h1v1h-1zM90 138h1v1h-1zM90 145h1v1h-1zM90 154h1v1h-1zM91 121h1v2h-1zM91 125h1v1h-1zM91 127h1v1h-1zM91 130h1v1h-1zM91 138h1v1h-1zM91 145h1v1h-1zM91 154h1v1h-1zM92 121h1v2h-1zM92 125h1v1h-1zM92 127h1v1h-1zM92 130h1v1h-1zM92 138h1v1h-1zM92 145h1v1h-1zM92 154h1v1h-1zM93 121h1v2h-1zM93 125h1v1h-1zM93 127h1v1h-1zM93 130h1v1h-1zM93 138h1v1h-1zM93 145h1v1h-1zM93 154h1v1h-1zM95 132h1v1h-1zM95 134h1v4h-1zM95 142h1v1h-1zM95 146h1v1h-1zM95 152h1v1h-1zM96 132h1v1h-1zM96 134h1v4h-1zM96 142h1v1h-1zM96 146h1v1h-1zM96 152h1v1h-1zM97 132h1v1h-1zM97 134h1v4h-1zM97 142h1v1h-1zM97 146h1v1h-1zM97 152h1v1h-1zM98 132h1v1h-1zM98 134h1v4h-1zM98 142h1v1h-1zM98 146h1v1h-1zM98 152h1v1h-1zM99 132h1v1h-1zM99 134h1v4h-1zM99 142h1v1h-1zM99 146h1v1h-1zM99 152h1v1h-1zM101 132h1v1h-1zM101 134h1v4h-1zM101 142h1v1h-1zM101 146h1v1h-1zM101 152h1v1h-1zM102 132h1v1h-1zM102 134h1v4h-1zM102 142h1v1h-1zM102 146h1v1h-1zM102 152h1v1h-1zM103 132h1v1h-1zM103 134h1v4h-1zM103 142h1v1h-1zM103 146h1v1h-1zM103 152h1v1h-1zM130 131h1v1h-1zM158 159h1v1h-1z"/>
<path fill="#f9581c" d="M0 113h1v2h-1zM0 119h1v1h-1zM0 123h1v1h-1zM0 126h1v1h-1zM0 150h1v1h-1zM1 113h1v2h-1zM1 119h1v1h-1zM1 123h1v1h-1zM1 126h1v1h-1zM1 150h1v1h-1zM3 113h1v2h-1zM3 119h1v1h-1zM3 123h1v1h-1zM3 126h1v1h-1zM3 150h1v1h-1zM4 113h1v2h-1zM4 119h1v1h-1zM4 123h1v1h-1zM4 126h1v1h-1zM4 150h1v1h-1zM5 113h1v2h-1zM5 119h1v1h-1zM5 123h1v1h-1zM5 126h1v1h-1zM5 150h1v1h-1zM6 113h1v2h-1zM6 119h1v1h-1zM6 123h1v1h-1zM6 126h1v1h-1zM6 150h1v1h-1zM7 113h1v2h-1zM7 119h1v1h-1zM7 123h1v1h-1zM7 126h1v1h-1zM7 150h1v1h-1zM8 113h1v2h-1zM8 119h1v1h-1zM8 123h1v1h-1zM8 126h1v1h-1zM8 150h1v1h-1zM9 113h1v2h-1zM9 119h1v1h-1zM9 123h1v1h-1zM9 126h1v1h-1zM9 150h1v1h-1zM10 113h1v2h-1zM10 119h1v1h-1zM10 123h1v1h-1zM10 126h1v1h-1zM10 150h1v1h-1zM11 113h1v2h-1zM11 119h1v1h-1zM11 123h1v1h-1zM11 126h1v1h-1zM11 150h1v1h-1zM13 113h1v2h-1zM13 119h1v1h-1zM13 123h1v1h-1zM13 126h1v1h-1zM13 150h1v1h-1zM14 113h1v2h-1zM14 119h1v1h-1zM14 123h1v1h-1zM14 126h1v1h-1zM14 150h1v1h-1zM15 113h1v2h-1zM15 119h1v1h-1zM15 123h1v1h-1zM15 126h1v1h-1zM15 150h1v1h-1zM17 113h1v2h-1zM17 119h1v1h-1zM17 123h1v1h-1zM17 126h1v1h-1zM17 150h1v1h-1zM18 113h1v2h-1zM18 119h1v1h-1zM18 123h1v1h-1zM18 126h1v1h-1zM18 150h1v1h-1zM19 113h1v2h-1zM19 119h1v1h-1zM19 123h1v1h-1zM19 126h1v1h-1zM19 150h1v1h-1zM20 113h1v2h-1zM20 119h1v1h-1zM20 123h1v1h-1zM20 126h1v1h-1zM20 150h1v1h-1zM21 113h1v2h-1zM21 119h1v1h-1zM21 123h1v1h-1zM21 126h1v1h-1zM21 150h1v1h-1zM22 113h1v2h-1zM22 119h1v1h-1zM22 123h1v1h-1zM22 126h1v1h-1zM22 150h1v1h-1zM51 77h1v3h-1zM51 81h1v1h-1zM51 83h1v17h-1zM51 101h1v4h-1zM51 106h1v1h-1zM51 108h1v1h-1zM51 110h1v3h-1zM51 115h1v4h-1zM51 120h1v3h-1zM51 124h1v2h-1zM51 127h1v23h-1zM51 151h1v6h-1zM80 120h1v1h-1zM80 124h1v1h-1zM80 128h1v2h-1zM80 138h1v1h-1zM80 145h1v1h-1zM80 154h1v1h-1zM82 120h1v1h-1zM82 124h1v1h-1zM82 128h1v2h-1zM82 138h1v1h-1zM82 145h1v1h-1zM82 154h1v1h-1zM85 120h1v1h-1zM85 124h1v1h-1zM85 128h1v2h-1zM86 120h1v1h-1zM86 124h1v1h-1zM86 128h1v2h-1zM87 120h1v1h-1zM87 124h1v1h-1zM87 128h1v2h-1zM88 120h1v1h-1zM88 124h1v1h-1zM88 128h1v2h-1zM89 120h1v1h-1zM89 124h1v1h-1zM89 128h1v2h-1zM90 120h1v1h-1zM90 124h1v1h-1zM90 128h1v2h-1zM91 120h1v1h-1zM91 124h1v1h-1zM91 128h1v2h-1zM92 120h1v1h-1zM92 124h1v1h-1zM92 128h1v2h-1zM93 120h1v1h-1zM93 124h1v1h-1zM93 128h1v2h-1zM94 119h1v2h-1zM94 123h1v2h-1zM94 126h1v1h-1zM94 128h1v2h-1zM94 138h1v1h-1zM94 145h1v1h-1zM94 150h1v1h-1zM94 154h1v1h-1zM95 133h1v1h-1zM95 139h1v1h-1zM95 145h1v1h-1zM95 154h1v1h-1zM96 133h1v1h-1zM96 139h1v1h-1zM96 145h1v1h-1zM96 154h1v1h-1zM97 133h1v1h-1zM97 139h1v1h-1zM97 145h1v1h-1zM97 154h1v1h-1zM98 133h1v1h-1zM98 139h1v1h-1zM98 145h1v1h-1zM98 154h1v1h-1zM99 133h1v1h-1zM99 139h1v1h-1zM99 145h1v1h-1zM99 154h1v1h-1zM101 133h1v1h-1zM101 139h1v1h-1zM101 145h1v1h-1zM101 154h1v1h-1zM102 133h1v1h-1zM102 139h1v1h-1zM102 145h1v1h-1zM102 154h1v1h-1zM103 133h1v1h-1zM103 139h1v1h-1zM103 145h1v1h-1zM103 154h1v1h-1zM118 163h1v2h-1zM125 126h1v1h-1zM126 127h1v1h-1zM128 161h1v2h-1zM158 161h1v1h-1z"/>
<path fill="#fa4917" d="M28 94h1v1h-1zM28 160h1v1h-1zM29 94h1v1h-1zM29 160h1v1h-1zM30 160h1v1h-1zM32 160h1v1h-1zM33 160h1v1h-1zM34 94h1v1h-1zM34 160h1v1h-1zM35 94h1v1h-1zM35 160h1v1h-1zM37 94h1v1h-1zM37 160h1v1h-1zM38 94h1v1h-1zM38 160h1v1h-1zM39 160h1v1h-1zM40 160h1v1h-1zM43 94h1v1h-1zM43 160h1v1h-1zM44 160h1v1h-1zM45 94h1v1h-1zM45 160h1v1h-1zM46 94h1v1h-1zM46 160h1v1h-1zM49 94h1v1h-1zM49 160h1v1h-1zM51 160h1v1h-1zM52 94h1v1h-1zM52 160h1v1h-1zM53 94h1v1h-1zM53 160h1v1h-1zM54 160h1v1h-1zM55 94h1v1h-1zM55 160h1v1h-1zM56 94h1v1h-1zM56 160h1v1h-1zM57 94h1v1h-1zM57 160h1v1h-1zM58 94h1v1h-1zM58 160h1v1h-1zM59 94h1v1h-1zM59 160h1v1h-1zM60 94h1v1h-1zM60 160h1v1h-1zM61 94h1v1h-1zM61 160h1v1h-1zM62 94h1v1h-1zM62 160h1v1h-1zM63 77h1v3h-1zM63 81h1v1h-1zM63 83h1v17h-1zM63 101h1v4h-1zM63 106h1v1h-1zM63 108h1v1h-1zM63 110h1v3h-1zM63 116h1v2h-1zM63 120h1v3h-1zM63 124h1v2h-1zM63 127h1v4h-1zM63 132h1v4h-1zM66 94h1v1h-1zM67 94h1v1h-1zM69 104h1v1h-1zM69 106h1v1h-1zM69 108h1v1h-1zM70 104h1v1h-1zM70 106h1v1h-1zM70 108h1v1h-1zM71 104h1v1h-1zM71 106h1v1h-1zM71 108h1v1h-1zM72 104h1v1h-1zM72 106h1v1h-1zM72 108h1v1h-1zM73 104h1v1h-1zM73 106h1v1h-1zM73 108h1v1h-1zM74 104h1v1h-1zM74 106h1v1h-1zM74 108h1v1h-1zM77 114h1v1h-1zM78 114h1v1h-1zM79 114h1v1h-1zM80 110h1v3h-1zM80 116h1v2h-1zM81 114h1v1h-1zM82 110h1v3h-1zM82 116h1v2h-1zM83 114h1v1h-1zM84 114h1v1h-1zM85 110h1v3h-1zM85 116h1v2h-1zM86 110h1v3h-1zM86 116h1v2h-1zM87 110h1v3h-1zM87 116h1v2h-1zM88 110h1v3h-1zM88 116h1v2h-1zM89 110h1v3h-1zM89 116h1v2h-1zM90 110h1v3h-1zM90 116h1v2h-1zM91 110h1v3h-1zM91 116h1v2h-1zM92 110h1v3h-1zM92 116h1v2h-1zM93 110h1v3h-1zM93 116h1v2h-1zM95 121h1v2h-1zM95 125h1v1h-1zM95 127h1v1h-1zM95 130h1v1h-1zM95 138h1v1h-1zM96 121h1v2h-1zM96 125h1v1h-1zM96 127h1v1h-1zM96 130h1v1h-1zM96 138h1v1h-1zM97 121h1v2h-1zM97 125h1v1h-1zM97 127h1v1h-1zM97 130h1v1h-1zM97 138h1v1h-1zM98 121h1v2h-1zM98 125h1v1h-1zM98 127h1v1h-1zM98 130h1v1h-1zM98 138h1v1h-1zM99 121h1v2h-1zM99 125h1v1h-1zM99 127h1v1h-1zM99 130h1v1h-1zM99 138h1v1h-1zM100 115h1v1h-1zM100 140h1v2h-1zM100 143h1v2h-1zM100 147h1v3h-1zM100 151h1v1h-1zM100 153h1v1h-1zM100 155h1v1h-1zM101 121h1v2h-1zM101 125h1v1h-1zM101 127h1v1h-1zM101 130h1v1h-1zM101 138h1v1h-1zM102 121h1v2h-1zM102 125h1v1h-1zM102 127h1v1h-1zM102 130h1v1h-1zM102 138h1v1h-1zM103 121h1v2h-1zM103 125h1v1h-1zM103 127h1v1h-1zM103 130h1v1h-1zM103 138h1v1h-1zM126 128h1v29h-1z"/>
<path fill="#fb3b13" d="M0 32h1v2h-1zM0 39h1v2h-1zM0 44h1v1h-1zM0 63h1v1h-1zM0 69h1v6h-1zM0 104h1v1h-1zM0 106h1v1h-1zM0 108h1v1h-1zM1 32h1v2h-1zM1 39h1v2h-1zM1 44h1v1h-1zM1 63h1v1h-1zM1 69h1v6h-1zM1 104h1v1h-1zM1 106h1v1h-1zM1 108h1v1h-1zM2 110h1v8h-1zM2 119h1v12h-1zM2 132h1v25h-1zM3 32h1v2h-1zM3 39h1v2h-1zM3 44h1v1h-1zM3 63h1v1h-1zM3 69h1v6h-1zM3 104h1v1h-1zM3 106h1v1h-1zM3 108h1v1h-1zM4 104h1v1h-1zM4 106h1v1h-1zM4 108h1v1h-1zM5 104h1v1h-1zM5 106h1v1h-1zM5 108h1v1h-1zM6 104h1v1h-1zM6 106h1v1h-1zM6 108h1v1h-1zM7 32h1v2h-1zM7 39h1v2h-1zM7 44h1v1h-1zM7 63h1v1h-1zM7 69h1v6h-1zM7 104h1v1h-1zM7 106h1v1h-1zM7 108h1v1h-1zM8 104h1v1h-1zM8 106h1v1h-1zM8 108h1v1h-1zM9 104h1v1h-1zM9 106h1v1h-1zM9 108h1v1h-1zM10 104h1v1h-1zM10 106h1v1h-1zM10 108h1v1h-1zM11 104h1v1h-1zM11 106h1v1h-1zM11 108h1v1h-1zM12 110h1v8h-1zM12 119h1v12h-1zM12 132h1v25h-1zM13 32h1v2h-1zM13 39h1v2h-1zM13 44h1v1h-1zM13 63h1v1h-1zM13 69h1v6h-1zM13 104h1v1h-1zM13 106h1v1h-1zM13 108h1v1h-1zM14 32h1v2h-1zM14 39h1v2h-1zM14 44h1v1h-1zM14 63h1v1h-1zM14 69h1v6h-1zM14 104h1v1h-1zM14 106h1v1h-1zM14 108h1v1h-1zM15 104h1v1h-1zM15 106h1v1h-1zM15 108h1v1h-1zM16 110h1v8h-1zM16 119h1v12h-1zM16 132h1v25h-1zM17 32h1v2h-1zM17 39h1v2h-1zM17 44h1v1h-1zM17 63h1v1h-1zM17 69h1v6h-1zM17 104h1v1h-1zM17 106h1v1h-1zM17 108h1v1h-1zM18 32h1v2h-1zM18 39h1v2h-1zM18 44h1v1h-1zM18 63h1v1h-1zM18 69h1v6h-1zM18 104h1v1h-1zM18 106h1v1h-1zM18 108h1v1h-1zM19 32h1v2h-1zM19 39h1v2h-1zM19 44h1v1h-1zM19 63h1v1h-1zM19 69h1v6h-1zM19 104h1v1h-1zM19 106h1v1h-1zM19 108h1v1h-1zM20 32h1v2h-1zM20 39h1v2h-1zM20 44h1v1h-1zM20 63h1v1h-1zM20 69h1v6h-1zM20 104h1v1h-1zM20 106h1v1h-1zM20 108h1v1h-1zM21 32h1v2h-1zM21 39h1v2h-1zM21 44h1v1h-1zM21 63h1v1h-1zM21 69h1v6h-1zM21 104h1v1h-1zM21 106h1v1h-1zM21 108h1v1h-1zM22 32h1v2h-1zM22 39h1v2h-1zM22 44h1v1h-1zM22 63h1v1h-1zM22 69h1v6h-1zM22 104h1v1h-1zM22 106h1v1h-1zM22 108h1v1h-1zM23 104h1v1h-1zM23 106h1v1h-1zM23 108h1v1h-1zM24 104h1v1h-1zM24 106h1v1h-1zM24 108h1v1h-1zM25 104h1v1h-1zM25 106h1v1h-1zM25 108h1v1h-1zM26 104h1v1h-1zM26 106h1v1h-1zM26 108h1v1h-1zM27 104h1v1h-1zM27 106h1v1h-1zM27 108h1v1h-1zM30 75h1v1h-1zM30 77h1v3h-1zM30 81h1v1h-1zM30 83h1v17h-1zM30 101h1v4h-1zM30 106h1v1h-1zM30 108h1v1h-1zM30 110h1v3h-1zM30 115h1v4h-1zM30 120h1v3h-1zM30 124h1v2h-1zM30 127h1v23h-1zM30 151h1v6h-1zM33 68h1v1h-1zM34 69h1v1h-1zM35 69h1v1h-1zM37 69h1v1h-1zM38 69h1v1h-1zM39 68h1v1h-1zM40 68h1v1h-1zM43 69h1v1h-1zM44 68h1v1h-1zM45 69h1v1h-1zM46 69h1v1h-1zM47 75h1v1h-1zM48 75h1v1h-1zM49 69h1v1h-1zM51 75h1v1h-1zM52 69h1v1h-1zM53 69h1v1h-1zM55 69h1v1h-1zM56 69h1v1h-1zM57 69h1v1h-1zM58 69h1v1h-1zM59 69h1v1h-1zM60 69h1v1h-1zM61 69h1v1h-1zM62 69h1v1h-1zM64 136h1v14h-1zM64 151h1v6h-1zM65 75h1v1h-1zM66 69h1v1h-1zM67 69h1v1h-1zM68 77h1v3h-1zM68 81h1v1h-1zM68 83h1v17h-1zM68 101h1v4h-1zM68 106h1v1h-1zM68 108h1v1h-1zM69 73h1v1h-1zM70 72h1v1h-1zM85 119h1v1h-1zM85 123h1v1h-1zM85 126h1v1h-1zM86 119h1v1h-1zM86 123h1v1h-1zM86 126h1v1h-1zM87 119h1v1h-1zM87 123h1v1h-1zM87 126h1v1h-1zM88 119h1v1h-1zM88 123h1v1h-1zM88 126h1v1h-1zM89 119h1v1h-1zM89 123h1v1h-1zM89 126h1v1h-1zM90 119h1v1h-1zM90 123h1v1h-1zM90 126h1v1h-1zM91 119h1v1h-1zM91 123h1v1h-1zM91 126h1v1h-1zM92 119h1v1h-1zM92 123h1v1h-1zM92 126h1v1h-1zM93 119h1v1h-1zM93 123h1v1h-1zM93 126h1v1h-1zM95 110h1v3h-1zM95 116h1v2h-1zM95 120h1v1h-1zM95 124h1v1h-1zM95 128h1v2h-1zM96 110h1v3h-1zM96 116h1v2h-1zM96 120h1v1h-1zM96 124h1v1h-1zM96 128h1v2h-1zM97 110h1v3h-1zM97 116h1v2h-1zM97 120h1v1h-1zM97 124h1v1h-1zM97 128h1v2h-1zM98 110h1v3h-1zM98 116h1v2h-1zM98 120h1v1h-1zM98 124h1v1h-1zM98 128h1v2h-1zM99 110h1v3h-1zM99 116h1v2h-1zM99 120h1v1h-1zM99 124h1v1h-1zM99 128h1v2h-1zM100 132h1v1h-1zM100 134h1v4h-1zM100 142h1v1h-1zM100 146h1v1h-1zM100 152h1v1h-1zM101 110h1v3h-1zM101 116h1v2h-1zM101 120h1v1h-1zM101 124h1v1h-1zM101 128h1v2h-1zM102 110h1v3h-1zM102 116h1v2h-1zM102 120h1v1h-1zM102 124h1v1h-1zM102 128h1v2h-1zM103 110h1v3h-1zM103 116h1v2h-1zM103 120h1v1h-1zM103 124h1v1h-1zM103 128h1v2h-1zM104 110h1v3h-1zM104 115h1v3h-1zM104 120h1v3h-1zM104 124h1v2h-1zM104 127h1v4h-1zM104 132h1v18h-1zM104 151h1v6h-1zM105 111h1v1h-1zM105 114h1v1h-1zM105 117h1v1h-1zM105 120h1v1h-1zM105 123h1v1h-1zM105 126h1v1h-1zM105 129h1v1h-1zM105 132h1v1h-1zM105 135h1v1h-1zM105 138h1v1h-1zM105 141h1v1h-1zM105 144h1v1h-1zM105 147h1v1h-1zM105 150h1v1h-1zM105 153h1v1h-1zM105 156h1v1h-1zM106 110h1v4h-1zM106 115h1v3h-1zM106 119h1v4h-1zM106 124h1v2h-1zM106 127h1v4h-1zM106 132h1v18h-1zM106 151h1v6h-1zM107 112h1v1h-1zM107 115h1v1h-1zM107 121h1v1h-1zM107 124h1v1h-1zM107 127h1v1h-1zM107 130h1v1h-1zM107 133h1v1h-1zM107 136h1v1h-1zM107 139h1v1h-1zM107 142h1v1h-1zM107 145h1v1h-1zM107 148h1v1h-1zM107 151h1v1h-1zM107 154h1v1h-1zM108 110h1v3h-1zM108 114h1v4h-1zM108 120h1v11h-1zM108 132h1v25h-1zM109 110h1v1h-1zM109 113h1v1h-1zM109 116h1v1h-1zM109 119h1v1h-1zM109 122h1v1h-1zM109 125h1v1h-1zM109 128h1v1h-1zM109 134h1v1h-1zM109 137h1v1h-1zM109 140h1v1h-1zM109 143h1v1h-1zM109 146h1v1h-1zM109 149h1v1h-1zM109 152h1v1h-1zM109 155h1v1h-1z"/>
<path fill="#fc2c0e" d="M4 28h1v2h-1zM4 34h1v2h-1zM4 37h1v2h-1zM4 43h1v1h-1zM4 45h1v2h-1zM4 49h1v1h-1zM4 51h1v3h-1zM4 55h1v8h-1zM4 64h1v1h-1zM4 66h1v2h-1zM5 28h1v2h-1zM5 34h1v2h-1zM5 37h1v2h-1zM5 43h1v1h-1zM5 45h1v2h-1zM5 49h1v1h-1zM5 51h1v3h-1zM5 55h1v8h-1zM5 64h1v1h-1zM5 66h1v2h-1zM6 28h1v2h-1zM6 34h1v2h-1zM6 37h1v2h-1zM6 43h1v1h-1zM6 45h1v2h-1zM6 49h1v1h-1zM6 51h1v3h-1zM6 55h1v8h-1zM6 64h1v1h-1zM6 66h1v2h-1zM8 28h1v2h-1zM8 34h1v2h-1zM8 37h1v2h-1zM8 43h1v1h-1zM8 45h1v2h-1zM8 49h1v1h-1zM8 51h1v3h-1zM8 55h1v8h-1zM8 64h1v1h-1zM8 66h1v2h-1zM9 28h1v2h-1zM9 34h1v2h-1zM9 37h1v2h-1zM9 43h1v1h-1zM9 45h1v2h-1zM9 49h1v1h-1zM9 51h1v3h-1zM9 55h1v8h-1zM9 64h1v1h-1zM9 66h1v2h-1zM10 28h1v2h-1zM10 34h1v2h-1zM10 37h1v2h-1zM10 43h1v1h-1zM10 45h1v2h-1zM10 49h1v1h-1zM10 51h1v3h-1zM10 55h1v8h-1zM10 64h1v1h-1zM10 66h1v2h-1zM11 77h1v3h-1zM11 81h1v1h-1zM11 83h1v17h-1zM11 101h1v3h-1zM15 77h1v3h-1zM15 81h1v1h-1zM15 83h1v17h-1zM15 101h1v3h-1zM31 140h1v10h-1zM31 151h1v6h-1zM32 75h1v1h-1zM32 120h1v1h-1zM32 124h1v1h-1zM32 128h1v2h-1zM32 138h1v1h-1zM32 145h1v1h-1zM32 154h1v1h-1zM33 120h1v1h-1zM33 124h1v1h-1zM33 128h1v2h-1zM33 138h1v1h-1zM33 145h1v1h-1zM33 154h1v1h-1zM39 120h1v1h-1zM39 124h1v1h-1zM39 128h1v2h-1zM39 138h1v1h-1zM39 145h1v1h-1zM39 154h1v1h-1zM40 120h1v1h-1zM40 124h1v1h-1zM40 128h1v2h-1zM40 138h1v1h-1zM40 145h1v1h-1zM40 154h1v1h-1zM42 140h1v10h-1zM42 151h1v6h-1zM44 120h1v1h-1zM44 124h1v1h-1zM44 128h1v2h-1zM44 138h1v1h-1zM44 145h1v1h-1zM44 154h1v1h-1zM47 140h1v10h-1zM47 151h1v6h-1zM48 140h1v10h-1zM48 151h1v6h-1zM50 140h1v10h-1zM50 151h1v6h-1zM70 75h1v1h-1zM76 77h1v5h-1zM76 83h1v4h-1zM76 88h1v22h-1zM77 104h1v1h-1zM77 106h1v1h-1zM77 108h1v1h-1zM78 104h1v1h-1zM78 106h1v1h-1zM78 108h1v1h-1zM79 104h1v1h-1zM79 106h1v1h-1zM79 108h1v1h-1zM81 104h1v1h-1zM81 106h1v1h-1zM81 108h1v1h-1zM83 104h1v1h-1zM83 106h1v1h-1zM83 108h1v1h-1zM84 104h1v1h-1zM84 106h1v1h-1zM84 108h1v1h-1zM85 104h1v1h-1zM85 106h1v1h-1zM85 108h1v1h-1zM86 104h1v1h-1zM86 106h1v1h-1zM86 108h1v1h-1zM87 104h1v1h-1zM87 106h1v1h-1zM87 108h1v1h-1zM88 104h1v1h-1zM88 106h1v1h-1zM88 108h1v1h-1zM89 104h1v1h-1zM89 106h1v1h-1zM89 108h1v1h-1zM90 104h1v1h-1zM90 106h1v1h-1zM90 108h1v1h-1zM91 104h1v1h-1zM91 106h1v1h-1zM91 108h1v1h-1zM92 104h1v1h-1zM92 106h1v1h-1zM92 108h1v1h-1zM93 104h1v1h-1zM93 106h1v1h-1zM93 108h1v1h-1zM95 104h1v1h-1zM95 106h1v1h-1zM95 108h1v1h-1zM96 104h1v1h-1zM96 106h1v1h-1zM96 108h1v1h-1zM97 104h1v1h-1zM97 106h1v1h-1zM97 108h1v1h-1zM98 104h1v1h-1zM98 106h1v1h-1zM98 108h1v1h-1zM99 104h1v1h-1zM99 106h1v1h-1zM99 108h1v1h-1zM100 133h1v1h-1zM100 139h1v1h-1zM100 145h1v1h-1zM100 154h1v1h-1zM101 104h1v1h-1zM101 106h1v1h-1zM101 108h1v1h-1zM102 104h1v1h-1zM102 106h1v1h-1zM102 108h1v1h-1zM103 104h1v1h-1zM103 106h1v1h-1zM103 108h1v1h-1zM112 113h1v1h-1zM115 116h1v1h-1zM142 143h1v1h-1zM158 160h1v1h-1z"/>
<path fill="#fd1d09" d="M0 30h1v1h-1zM0 68h1v1h-1zM0 77h1v3h-1zM0 81h1v1h-1zM0 83h1v17h-1zM0 101h1v3h-1zM1 30h1v1h-1zM1 68h1v1h-1zM1 77h1v3h-1zM1 81h1v1h-1zM1 83h1v17h-1zM1 101h1v3h-1zM2 75h1v2h-1zM3 30h1v1h-1zM3 68h1v1h-1zM3 77h1v3h-1zM3 81h1v1h-1zM3 83h1v17h-1zM3 101h1v3h-1zM4 32h1v2h-1zM4 39h1v2h-1zM4 44h1v1h-1zM4 63h1v1h-1zM4 69h1v6h-1zM4 77h1v3h-1zM4 81h1v1h-1zM4 83h1v17h-1zM4 101h1v3h-1zM5 32h1v2h-1zM5 39h1v2h-1zM5 44h1v1h-1zM5 63h1v1h-1zM5 69h1v6h-1zM5 77h1v3h-1zM5 81h1v1h-1zM5 83h1v17h-1zM5 101h1v3h-1zM6 32h1v2h-1zM6 39h1v2h-1zM6 44h1v1h-1zM6 63h1v1h-1zM6 69h1v6h-1zM6 77h1v3h-1zM6 81h1v1h-1zM6 83h1v17h-1zM6 101h1v3h-1zM7 30h1v1h-1zM7 68h1v1h-1zM7 77h1v3h-1zM7 81h1v1h-1zM7 83h1v17h-1zM7 101h1v3h-1zM8 32h1v2h-1zM8 39h1v2h-1zM8 44h1v1h-1zM8 63h1v1h-1zM8 69h1v6h-1zM8 77h1v3h-1zM8 81h1v1h-1zM8 83h1v17h-1zM8 101h1v3h-1zM9 32h1v2h-1zM9 39h1v2h-1zM9 44h1v1h-1zM9 63h1v1h-1zM9 69h1v6h-1zM9 77h1v3h-1zM9 81h1v1h-1zM9 83h1v17h-1zM9 101h1v3h-1zM10 32h1v2h-1zM10 39h1v2h-1zM10 44h1v1h-1zM10 63h1v1h-1zM10 69h1v6h-1zM10 77h1v3h-1zM10 81h1v1h-1zM10 83h1v17h-1zM10 101h1v3h-1zM11 30h1v1h-1zM11 68h1v1h-1zM12 75h1v2h-1zM13 30h1v1h-1zM13 68h1v1h-1zM13 77h1v3h-1zM13 81h1v1h-1zM13 83h1v17h-1zM13 101h1v3h-1zM14 30h1v1h-1zM14 68h1v1h-1zM14 77h1v3h-1zM14 81h1v1h-1zM14 83h1v17h-1zM14 101h1v3h-1zM15 30h1v1h-1zM15 68h1v1h-1zM16 75h1v2h-1zM17 30h1v1h-1zM17 68h1v1h-1zM17 77h1v3h-1zM17 81h1v1h-1zM17 83h1v17h-1zM17 101h1v3h-1zM18 30h1v1h-1zM18 68h1v1h-1zM18 77h1v3h-1zM18 81h1v1h-1zM18 83h1v17h-1zM18 101h1v3h-1zM19 30h1v1h-1zM19 68h1v1h-1zM19 77h1v3h-1zM19 81h1v1h-1zM19 83h1v17h-1zM19 101h1v3h-1zM20 30h1v1h-1zM20 68h1v1h-1zM20 77h1v3h-1zM20 81h1v1h-1zM20 83h1v17h-1zM20 101h1v3h-1zM21 30h1v1h-1zM21 68h1v1h-1zM21 77h1v3h-1zM21 81h1v1h-1zM21 83h1v17h-1zM21 101h1v3h-1zM22 30h1v1h-1zM22 68h1v1h-1zM22 77h1v3h-1zM22 81h1v1h-1zM22 83h1v17h-1zM22 101h1v3h-1zM23 77h1v3h-1zM23 81h1v1h-1zM23 83h1v17h-1zM23 101h1v3h-1zM24 77h1v3h-1zM24 81h1v1h-1zM24 83h1v17h-1zM24 101h1v3h-1zM25 77h1v3h-1zM25 81h1v1h-1zM25 83h1v17h-1zM25 101h1v3h-1zM26 77h1v3h-1zM26 81h1v1h-1zM26 83h1v17h-1zM26 101h1v3h-1zM27 77h1v3h-1zM27 81h1v1h-1zM27 83h1v17h-1zM27 101h1v3h-1zM30 76h1v1h-1zM31 76h1v1h-1zM31 128h1v12h-1zM32 76h1v1h-1zM32 93h1v2h-1zM33 69h1v1h-1zM33 76h1v1h-1zM33 93h1v2h-1zM34 76h1v1h-1zM35 76h1v1h-1zM36 76h1v1h-1zM37 76h1v1h-1zM38 76h1v1h-1zM39 69h1v1h-1zM39 76h1v1h-1zM39 93h1v2h-1zM40 69h1v1h-1zM40 76h1v1h-1zM40 93h1v2h-1zM41 76h1v1h-1zM42 128h1v12h-1zM44 69h1v1h-1zM44 76h1v1h-1zM44 93h1v2h-1zM47 76h1v1h-1zM47 128h1v12h-1zM48 76h1v1h-1zM48 128h1v12h-1zM50 76h1v1h-1zM50 128h1v12h-1zM51 76h1v1h-1zM64 76h1v1h-1zM65 76h1v1h-1zM69 81h1v1h-1zM69 86h1v1h-1zM69 91h1v1h-1zM69 96h1v1h-1zM69 101h1v1h-1zM70 76h1v1h-1zM70 85h1v1h-1zM70 90h1v1h-1zM70 95h1v1h-1zM71 79h1v1h-1zM71 84h1v1h-1zM71 89h1v1h-1zM71 94h1v1h-1zM71 99h1v1h-1zM72 78h1v1h-1zM72 83h1v1h-1zM72 88h1v1h-1zM72 93h1v1h-1zM72 98h1v1h-1zM72 103h1v1h-1zM73 77h1v1h-1zM73 87h1v1h-1zM73 92h1v1h-1zM73 97h1v1h-1zM73 102h1v1h-1zM74 81h1v1h-1zM74 86h1v1h-1zM74 91h1v1h-1zM74 96h1v1h-1zM74 101h1v1h-1zM85 114h1v1h-1zM86 114h1v1h-1zM87 114h1v1h-1zM88 114h1v1h-1zM89 114h1v1h-1zM90 114h1v1h-1zM91 114h1v1h-1zM92 114h1v1h-1zM93 114h1v1h-1zM95 119h1v1h-1zM95 123h1v1h-1zM95 126h1v1h-1zM96 119h1v1h-1zM96 123h1v1h-1zM96 126h1v1h-1zM97 119h1v1h-1zM97 123h1v1h-1zM97 126h1v1h-1zM98 119h1v1h-1zM98 123h1v1h-1zM98 126h1v1h-1zM99 119h1v1h-1zM99 123h1v1h-1zM99 126h1v1h-1zM100 121h1v2h-1zM100 125h1v1h-1zM100 127h1v1h-1zM100 130h1v1h-1zM100 138h1v1h-1zM101 119h1v1h-1zM101 123h1v1h-1zM101 126h1v1h-1zM102 119h1v1h-1zM102 123h1v1h-1zM102 126h1v1h-1zM103 119h1v1h-1zM103 123h1v1h-1zM103 126h1v1h-1zM110 111h1v1h-1zM115 131h1v1h-1zM116 131h1v1h-1zM117 131h1v1h-1zM118 131h1v1h-1zM120 131h1v1h-1zM121 131h1v1h-1zM122 131h1v1h-1zM124 131h1v1h-1zM125 131h1v1h-1zM127 131h1v1h-1zM128 131h1v1h-1zM129 131h1v1h-1zM158 164h1v1h-1z"/>
<path fill="#fe0f05" d="M0 23h1v5h-1zM0 105h1v1h-1zM0 107h1v1h-1zM0 109h1v1h-1zM1 23h1v5h-1zM1 105h1v1h-1zM1 107h1v1h-1zM1 109h1v1h-1zM1 161h1v1h-1zM2 104h1v6h-1zM2 161h1v1h-1zM3 23h1v5h-1zM3 105h1v1h-1zM3 107h1v1h-1zM3 109h1v1h-1zM4 30h1v1h-1zM4 68h1v1h-1zM4 105h1v1h-1zM4 107h1v1h-1zM4 109h1v1h-1zM5 30h1v1h-1zM5 68h1v1h-1zM5 105h1v1h-1zM5 107h1v1h-1zM5 109h1v1h-1zM6 30h1v1h-1zM6 68h1v1h-1zM6 105h1v1h-1zM6 107h1v1h-1zM6 109h1v1h-1zM7 23h1v5h-1zM7 105h1v1h-1zM7 107h1v1h-1zM7 109h1v1h-1zM8 30h1v1h-1zM8 68h1v1h-1zM8 105h1v1h-1zM8 107h1v1h-1zM8 109h1v1h-1zM9 30h1v1h-1zM9 68h1v1h-1zM9 105h1v1h-1zM9 107h1v1h-1zM9 109h1v1h-1zM10 30h1v1h-1zM10 68h1v1h-1zM10 105h1v1h-1zM10 107h1v1h-1zM10 109h1v1h-1zM11 105h1v1h-1zM11 107h1v1h-1zM11 109h1v1h-1zM12 104h1v6h-1zM13 23h1v5h-1zM13 105h1v1h-1zM13 107h1v1h-1zM13 109h1v1h-1zM14 23h1v5h-1zM14 105h1v1h-1zM14 107h1v1h-1zM14 109h1v1h-1zM15 105h1v1h-1zM15 107h1v1h-1zM15 109h1v1h-1zM16 104h1v6h-1zM17 23h1v5h-1zM17 105h1v1h-1zM17 107h1v1h-1zM17 109h1v1h-1zM18 23h1v5h-1zM18 105h1v1h-1zM18 107h1v1h-1zM18 109h1v1h-1zM19 23h1v5h-1zM19 105h1v1h-1zM19 107h1v1h-1zM19 109h1v1h-1zM20 23h1v5h-1zM20 105h1v1h-1zM20 107h1v1h-1zM20 109h1v1h-1zM21 23h1v5h-1zM21 105h1v1h-1zM21 107h1v1h-1zM21 109h1v1h-1zM22 23h1v5h-1zM22 105h1v1h-1zM22 107h1v1h-1zM22 109h1v1h-1zM69 77h1v3h-1zM69 83h1v3h-1zM69 87h1v4h-1zM69 92h1v4h-1zM69 97h1v3h-1zM69 102h1v2h-1zM70 77h1v3h-1zM70 81h1v1h-1zM70 83h1v2h-1zM70 86h1v4h-1zM70 91h1v4h-1zM70 96h1v4h-1zM70 101h1v3h-1zM71 77h1v2h-1zM71 81h1v1h-1zM71 83h1v1h-1zM71 85h1v4h-1zM71 90h1v4h-1zM71 95h1v4h-1zM71 101h1v3h-1zM72 77h1v1h-1zM72 79h1v1h-1zM72 81h1v1h-1zM72 84h1v4h-1zM72 89h1v4h-1zM72 94h1v4h-1zM72 99h1v1h-1zM72 101h1v2h-1zM73 78h1v2h-1zM73 81h1v1h-1zM73 83h1v4h-1zM73 88h1v4h-1zM73 93h1v4h-1zM73 98h1v2h-1zM73 101h1v1h-1zM73 103h1v1h-1zM74 77h1v3h-1zM74 83h1v3h-1zM74 87h1v4h-1zM74 92h1v4h-1zM74 97h1v3h-1zM74 102h1v2h-1zM76 110h1v47h-1zM80 114h1v1h-1zM80 119h1v1h-1zM80 123h1v1h-1zM80 126h1v1h-1zM82 114h1v1h-1zM82 119h1v1h-1zM82 123h1v1h-1zM82 126h1v1h-1zM95 114h1v1h-1zM96 114h1v1h-1zM97 114h1v1h-1zM98 114h1v1h-1zM99 114h1v1h-1zM100 110h1v3h-1zM100 114h1v1h-1zM100 116h1v2h-1zM100 119h1v2h-1zM100 123h1v2h-1zM100 126h1v1h-1zM100 128h1v2h-1zM101 114h1v1h-1zM102 114h1v1h-1zM103 114h1v1h-1zM104 113h1v2h-1zM104 119h1v1h-1zM104 123h1v1h-1zM104 126h1v1h-1zM104 150h1v1h-1zM105 110h1v1h-1zM105 112h1v2h-1zM105 115h1v2h-1zM105 119h1v1h-1zM105 121h1v2h-1zM105 124h1v2h-1zM105 127h1v2h-1zM105 130h1v1h-1zM105 133h1v2h-1zM105 136h1v2h-1zM105 139h1v2h-1zM105 142h1v2h-1zM105 145h1v2h-1zM105 148h1v2h-1zM105 151h1v2h-1zM105 154h1v2h-1zM106 114h1v1h-1zM106 123h1v1h-1zM106 126h1v1h-1zM106 150h1v1h-1zM107 110h1v2h-1zM107 113h1v2h-1zM107 116h1v2h-1zM107 119h1v2h-1zM107 122h1v2h-1zM107 125h1v2h-1zM107 128h1v2h-1zM107 132h1v1h-1zM107 134h1v2h-1zM107 137h1v2h-1zM107 140h1v2h-1zM107 143h1v2h-1zM107 146h1v2h-1zM107 149h1v2h-1zM107 152h1v2h-1zM107 155h1v2h-1zM108 113h1v1h-1zM108 119h1v1h-1zM109 111h1v2h-1zM109 114h1v2h-1zM109 117h1v1h-1zM109 120h1v2h-1zM109 123h1v2h-1zM109 126h1v2h-1zM109 129h1v2h-1zM109 132h1v2h-1zM109 135h1v2h-1zM109 138h1v2h-1zM109 141h1v2h-1zM109 144h1v2h-1zM109 147h1v2h-1zM109 150h1v2h-1zM109 153h1v2h-1zM109 156h1v1h-1zM159 160h1v1h-1z"/>
<path fill="#ff0000" d="M0 1h1v22h-1zM0 31h1v1h-1zM0 36h1v1h-1zM0 41h1v2h-1zM0 47h1v2h-1zM0 50h1v1h-1zM0 65h1v1h-1zM0 80h1v1h-1zM0 82h1v1h-1zM0 100h1v1h-1zM1 2h1v21h-1zM1 31h1v1h-1zM1 36h1v1h-1zM1 41h1v2h-1zM1 47h1v2h-1zM1 50h1v1h-1zM1 65h1v1h-1zM1 80h1v1h-1zM1 82h1v1h-1zM1 100h1v1h-1zM2 3h1v72h-1zM2 77h1v27h-1zM3 4h1v19h-1zM3 31h1v1h-1zM3 36h1v1h-1zM3 41h1v2h-1zM3 47h1v2h-1zM3 50h1v1h-1zM3 65h1v1h-1zM3 80h1v1h-1zM3 82h1v1h-1zM3 100h1v1h-1zM4 5h1v23h-1zM4 31h1v1h-1zM4 36h1v1h-1zM4 41h1v2h-1zM4 47h1v2h-1zM4 50h1v1h-1zM4 65h1v1h-1zM4 80h1v1h-1zM4 82h1v1h-1zM4 100h1v1h-1zM5 6h1v22h-1zM5 31h1v1h-1zM5 36h1v1h-1zM5 41h1v2h-1zM5 47h1v2h-1zM5 50h1v1h-1zM5 65h1v1h-1zM5 80h1v1h-1zM5 82h1v1h-1zM5 100h1v1h-1zM6 7h1v21h-1zM6 31h1v1h-1zM6 36h1v1h-1zM6 41h1v2h-1zM6 47h1v2h-1zM6 50h1v1h-1zM6 65h1v1h-1zM6 80h1v1h-1zM6 82h1v1h-1zM6 100h1v1h-1zM7 8h1v15h-1zM7 31h1v1h-1zM7 36h1v1h-1zM7 41h1v2h-1zM7 47h1v2h-1zM7 50h1v1h-1zM7 65h1v1h-1zM7 80h1v1h-1zM7 82h1v1h-1zM7 100h1v1h-1zM8 9h1v19h-1zM8 31h1v1h-1zM8 36h1v1h-1zM8 41h1v2h-1zM8 47h1v2h-1zM8 50h1v1h-1zM8 65h1v1h-1zM8 80h1v1h-1zM8 82h1v1h-1zM8 100h1v1h-1zM9 10h1v18h-1zM9 31h1v1h-1zM9 36h1v1h-1zM9 41h1v2h-1zM9 47h1v2h-1zM9 50h1v1h-1zM9 65h1v1h-1zM9 80h1v1h-1zM9 82h1v1h-1zM9 100h1v1h-1zM10 11h1v17h-1zM10 31h1v1h-1zM10 36h1v1h-1zM10 41h1v2h-1zM10 47h1v2h-1zM10 50h1v1h-1zM10 65h1v1h-1zM10 80h1v1h-1zM10 82h1v1h-1zM10 100h1v1h-1zM11 12h1v16h-1zM11 31h1v1h-1zM11 36h1v1h-1zM11 41h1v2h-1zM11 47h1v2h-1zM11 50h1v1h-1zM11 65h1v1h-1zM11 80h1v1h-1zM11 82h1v1h-1zM11 100h1v1h-1zM12 13h1v62h-1zM12 77h1v27h-1zM13 14h1v9h-1zM13 31h1v1h-1zM13 36h1v1h-1zM13 41h1v2h-1zM13 47h1v2h-1zM13 50h1v1h-1zM13 65h1v1h-1zM13 80h1v1h-1zM13 82h1v1h-1zM13 100h1v1h-1zM14 15h1v8h-1zM14 31h1v1h-1zM14 36h1v1h-1zM14 41h1v2h-1zM14 47h1v2h-1zM14 50h1v1h-1zM14 65h1v1h-1zM14 80h1v1h-1zM14 82h1v1h-1zM14 100h1v1h-1zM15 16h1v12h-1zM15 31h1v1h-1zM15 36h1v1h-1zM15 41h1v2h-1zM15 47h1v2h-1zM15 50h1v1h-1zM15 65h1v1h-1zM15 80h1v1h-1zM15 82h1v1h-1zM15 100h1v1h-1zM16 17h1v58h-1zM16 77h1v27h-1zM17 18h1v5h-1zM17 31h1v1h-1zM17 36h1v1h-1zM17 41h1v2h-1zM17 47h1v2h-1zM17 50h1v1h-1zM17 65h1v1h-1zM17 80h1v1h-1zM17 82h1v1h-1zM17 100h1v1h-1zM18 19h1v4h-1zM18 31h1v1h-1zM18 36h1v1h-1zM18 41h1v2h-1zM18 47h1v2h-1zM18 50h1v1h-1zM18 65h1v1h-1zM18 80h1v1h-1zM18 82h1v1h-1zM18 100h1v1h-1zM19 20h1v3h-1zM19 31h1v1h-1zM19 36h1v1h-1zM19 41h1v2h-1zM19 47h1v2h-1zM19 50h1v1h-1zM19 65h1v1h-1zM19 80h1v1h-1zM19 82h1v1h-1zM19 100h1v1h-1zM20 21h1v2h-1zM20 31h1v1h-1zM20 36h1v1h-1zM20 41h1v2h-1zM20 47h1v2h-1zM20 50h1v1h-1zM20 65h1v1h-1zM20 80h1v1h-1zM20 82h1v1h-1zM20 100h1v1h-1zM21 22h1v1h-1zM21 31h1v1h-1zM21 36h1v1h-1zM21 41h1v2h-1zM21 47h1v2h-1zM21 50h1v1h-1zM21 65h1v1h-1zM21 80h1v1h-1zM21 82h1v1h-1zM21 100h1v1h-1zM22 31h1v1h-1zM22 36h1v1h-1zM22 41h1v2h-1zM22 47h1v2h-1zM22 50h1v1h-1zM22 65h1v1h-1zM22 80h1v1h-1zM22 82h1v1h-1zM22 100h1v1h-1zM23 24h1v30h-1zM23 55h1v20h-1zM23 80h1v1h-1zM23 82h1v1h-1zM23 100h1v1h-1zM23 105h1v1h-1zM23 107h1v1h-1zM23 109h1v1h-1zM23 113h1v2h-1zM23 119h1v1h-1zM23 123h1v1h-1zM23 126h1v1h-1zM23 150h1v1h-1zM24 25h1v29h-1zM24 55h1v20h-1zM24 80h1v1h-1zM24 82h1v1h-1zM24 100h1v1h-1zM24 105h1v1h-1zM24 107h1v1h-1zM24 109h1v1h-1zM24 113h1v2h-1zM24 119h1v1h-1zM24 123h1v1h-1zM24 126h1v1h-1zM24 150h1v1h-1zM25 26h1v28h-1zM25 55h1v20h-1zM25 80h1v1h-1zM25 82h1v1h-1zM25 100h1v1h-1zM25 105h1v1h-1zM25 107h1v1h-1zM25 109h1v1h-1zM25 113h1v2h-1zM25 119h1v1h-1zM25 123h1v1h-1zM25 126h1v1h-1zM25 150h1v1h-1zM26 27h1v27h-1zM26 55h1v20h-1zM26 80h1v1h-1zM26 82h1v1h-1zM26 100h1v1h-1zM26 105h1v1h-1zM26 107h1v1h-1zM26 109h1v1h-1zM26 113h1v2h-1zM26 119h1v1h-1zM26 123h1v1h-1zM26 126h1v1h-1zM26 150h1v1h-1zM27 28h1v26h-1zM27 55h1v20h-1zM27 80h1v1h-1zM27 82h1v1h-1zM27 100h1v1h-1zM27 105h1v1h-1zM27 107h1v1h-1zM27 109h1v1h-1zM27 113h1v2h-1zM27 119h1v1h-1zM27 123h1v1h-1zM27 126h1v1h-1zM27 150h1v1h-1zM28 29h1v46h-1zM28 80h1v1h-1zM28 82h1v1h-1zM28 100h1v1h-1zM28 105h1v1h-1zM28 107h1v1h-1zM28 109h1v1h-1zM28 113h1v2h-1zM28 119h1v1h-1zM28 123h1v1h-1zM28 126h1v1h-1zM28 150h1v1h-1zM28 163h1v2h-1zM29 30h1v45h-1zM29 80h1v1h-1zM29 82h1v1h-1zM29 100h1v1h-1zM29 105h1v1h-1zM29 107h1v1h-1zM29 109h1v1h-1zM29 113h1v2h-1zM29 119h1v1h-1zM29 123h1v1h-1zM29 126h1v1h-1zM29 150h1v1h-1zM29 163h1v2h-1zM30 31h1v44h-1zM30 80h1v1h-1zM30 82h1v1h-1zM30 100h1v1h-1zM30 105h1v1h-1zM30 107h1v1h-1zM30 109h1v1h-1zM30 113h1v2h-1zM30 119h1v1h-1zM30 123h1v1h-1zM30 126h1v1h-1zM30 150h1v1h-1zM31 32h1v44h-1zM31 77h1v51h-1zM31 150h1v1h-1zM31 161h1v2h-1zM32 33h1v42h-1zM32 80h1v1h-1zM32 82h1v1h-1zM32 100h1v1h-1zM32 105h1v1h-1zM32 107h1v1h-1zM32 109h1v1h-1zM32 113h1v2h-1zM32 119h1v1h-1zM32 123h1v1h-1zM32 126h1v1h-1zM32 150h1v1h-1zM32 161h1v4h-1zM33 34h1v34h-1zM33 70h1v5h-1zM33 80h1v1h-1zM33 82h1v1h-1zM33 100h1v1h-1zM33 105h1v1h-1zM33 107h1v1h-1zM33 109h1v1h-1zM33 113h1v2h-1zM33 119h1v1h-1zM33 123h1v1h-1zM33 126h1v1h-1zM33 150h1v1h-1zM33 163h1v2h-1zM34 35h1v33h-1zM34 70h1v6h-1zM34 80h1v1h-1zM34 82h1v1h-1zM34 100h1v1h-1zM34 105h1v1h-1zM34 107h1v1h-1zM34 109h1v1h-1zM34 113h1v2h-1zM34 119h1v1h-1zM34 123h1v1h-1zM34 126h1v1h-1zM34 150h1v1h-1zM34 163h1v2h-1zM35 36h1v32h-1zM35 70h1v6h-1zM35 80h1v1h-1zM35 82h1v1h-1zM35 100h1v1h-1zM35 105h1v1h-1zM35 107h1v1h-1zM35 109h1v1h-1zM35 113h1v2h-1zM35 119h1v1h-1zM35 123h1v1h-1zM35 126h1v1h-1zM35 150h1v1h-1zM35 163h1v2h-1zM36 37h1v39h-1zM36 77h1v80h-1zM37 38h1v30h-1zM37 70h1v6h-1zM37 80h1v1h-1zM37 82h1v1h-1zM37 100h1v1h-1zM37 105h1v1h-1zM37 107h1v1h-1zM37 109h1v1h-1zM37 113h1v2h-1zM37 119h1v1h-1zM37 123h1v1h-1zM37 126h1v1h-1zM37 150h1v1h-1zM37 163h1v2h-1zM38 39h1v29h-1zM38 70h1v5h-1zM38 80h1v1h-1zM38 82h1v1h-1zM38 100h1v1h-1zM38 105h1v1h-1zM38 107h1v1h-1zM38 109h1v1h-1zM38 113h1v2h-1zM38 119h1v1h-1zM38 123h1v1h-1zM38 126h1v1h-1zM38 150h1v1h-1zM38 163h1v2h-1zM39 40h1v28h-1zM39 70h1v5h-1zM39 80h1v1h-1zM39 82h1v1h-1zM39 100h1v1h-1zM39 105h1v1h-1zM39 107h1v1h-1zM39 109h1v1h-1zM39 113h1v2h-1zM39 119h1v1h-1zM39 123h1v1h-1zM39 126h1v1h-1zM39 150h1v1h-1zM39 163h1v2h-1zM40 41h1v27h-1zM40 70h1v5h-1zM40 80h1v1h-1zM40 82h1v1h-1zM40 100h1v1h-1zM40 105h1v1h-1zM40 107h1v1h-1zM40 109h1v1h-1zM40 113h1v2h-1zM40 119h1v1h-1zM40 123h1v1h-1zM40 126h1v1h-1zM40 150h1v1h-1zM40 163h1v2h-1zM41 42h1v34h-1zM41 77h1v80h-1zM42 43h1v32h-1zM42 77h1v51h-1zM42 150h1v1h-1zM43 44h1v24h-1zM43 70h1v5h-1zM43 80h1v1h-1zM43 82h1v1h-1zM43 100h1v1h-1zM43 105h1v1h-1zM43 107h1v1h-1zM43 109h1v1h-1zM43 113h1v2h-1zM43 119h1v1h-1zM43 123h1v1h-1zM43 126h1v1h-1zM43 150h1v1h-1zM43 163h1v2h-1zM44 45h1v23h-1zM44 70h1v5h-1zM44 80h1v1h-1zM44 82h1v1h-1zM44 100h1v1h-1zM44 105h1v1h-1zM44 107h1v1h-1zM44 109h1v1h-1zM44 113h1v2h-1zM44 119h1v1h-1zM44 123h1v1h-1zM44 126h1v1h-1zM44 150h1v1h-1zM44 163h1v2h-1zM45 46h1v22h-1zM45 70h1v5h-1zM45 80h1v1h-1zM45 82h1v1h-1zM45 100h1v1h-1zM45 105h1v1h-1zM45 107h1v1h-1zM45 109h1v1h-1zM45 113h1v2h-1zM45 119h1v1h-1zM45 123h1v1h-1zM45 126h1v1h-1zM45 150h1v1h-1zM45 163h1v2h-1zM46 47h1v21h-1zM46 70h1v5h-1zM46 80h1v1h-1zM46 82h1v1h-1zM46 100h1v1h-1zM46 105h1v1h-1zM46 107h1v1h-1zM46 109h1v1h-1zM46 113h1v2h-1zM46 119h1v1h-1zM46 123h1v1h-1zM46 126h1v1h-1zM46 150h1v1h-1zM46 163h1v2h-1zM47 48h1v27h-1zM47 77h1v51h-1zM47 150h1v1h-1zM48 49h1v26h-1zM48 77h1v51h-1zM48 150h1v1h-1zM49 50h1v18h-1zM49 70h1v5h-1zM49 80h1v1h-1zM49 82h1v1h-1zM49 100h1v1h-1zM49 105h1v1h-1zM49 107h1v1h-1zM49 109h1v1h-1zM49 113h1v2h-1zM49 119h1v1h-1zM49 123h1v1h-1zM49 126h1v1h-1zM49 150h1v1h-1zM49 163h1v2h-1zM50 51h1v25h-1zM50 77h1v51h-1zM50 150h1v1h-1zM51 52h1v23h-1zM51 80h1v1h-1zM51 82h1v1h-1zM51 100h1v1h-1zM51 105h1v1h-1zM51 107h1v1h-1zM51 109h1v1h-1zM51 113h1v2h-1zM51 119h1v1h-1zM51 123h1v1h-1zM51 126h1v1h-1zM51 150h1v1h-1zM52 53h1v15h-1zM52 70h1v5h-1zM52 80h1v1h-1zM52 82h1v1h-1zM52 100h1v1h-1zM52 105h1v1h-1zM52 107h1v1h-1zM52 109h1v1h-1zM52 113h1v2h-1zM52 119h1v1h-1zM52 123h1v1h-1zM52 126h1v1h-1zM52 150h1v1h-1zM52 163h1v2h-1zM53 54h1v14h-1zM53 70h1v5h-1zM53 80h1v1h-1zM53 82h1v1h-1zM53 100h1v1h-1zM53 105h1v1h-1zM53 107h1v1h-1zM53 109h1v1h-1zM53 113h1v2h-1zM53 119h1v1h-1zM53 123h1v1h-1zM53 126h1v1h-1zM53 150h1v1h-1zM53 163h1v2h-1zM54 55h1v13h-1zM54 70h1v5h-1zM54 80h1v1h-1zM54 82h1v1h-1zM54 100h1v1h-1zM54 105h1v1h-1zM54 107h1v1h-1zM54 109h1v1h-1zM54 113h1v2h-1zM54 119h1v1h-1zM54 123h1v1h-1zM54 126h1v1h-1zM54 150h1v1h-1zM54 163h1v2h-1zM55 56h1v12h-1zM55 70h1v5h-1zM55 80h1v1h-1zM55 82h1v1h-1zM55 100h1v1h-1zM55 105h1v1h-1zM55 107h1v1h-1zM55 109h1v1h-1zM55 113h1v2h-1zM55 119h1v1h-1zM55 123h1v1h-1zM55 126h1v1h-1zM55 150h1v1h-1zM55 163h1v2h-1zM56 57h1v11h-1zM56 70h1v5h-1zM56 80h1v1h-1zM56 82h1v1h-1zM56 100h1v1h-1zM56 105h1v1h-1zM56 107h1v1h-1zM56 109h1v1h-1zM56 113h1v2h-1zM56 119h1v1h-1zM56 123h1v1h-1zM56 126h1v1h-1zM56 150h1v1h-1zM56 163h1v2h-1zM57 58h1v10h-1zM57 70h1v5h-1zM57 80h1v1h-1zM57 82h1v1h-1zM57 100h1v1h-1zM57 105h1v1h-1zM57 107h1v1h-1zM57 109h1v1h-1zM57 113h1v2h-1zM57 119h1v1h-1zM57 123h1v1h-1zM57 126h1v1h-1zM57 150h1v1h-1zM57 163h1v2h-1zM58 59h1v9h-1zM58 70h1v5h-1zM58 80h1v1h-1zM58 82h1v1h-1zM58 100h1v1h-1zM58 105h1v1h-1zM58 107h1v1h-1zM58 109h1v1h-1zM58 113h1v2h-1zM58 119h1v1h-1zM58 123h1v1h-1zM58 126h1v1h-1zM58 150h1v1h-1zM58 163h1v2h-1zM59 60h1v8h-1zM59 70h1v5h-1zM59 80h1v1h-1zM59 82h1v1h-1zM59 100h1v1h-1zM59 105h1v1h-1zM59 107h1v1h-1zM59 109h1v1h-1zM59 113h1v2h-1zM59 119h1v1h-1zM59 123h1v1h-1zM59 126h1v1h-1zM59 150h1v1h-1zM59 163h1v2h-1zM60 61h1v7h-1zM60 70h1v5h-1zM60 80h1v1h-1zM60 82h1v1h-1zM60 100h1v1h-1zM60 105h1v1h-1zM60 107h1v1h-1zM60 109h1v1h-1zM60 113h1v2h-1zM60 119h1v1h-1zM60 123h1v1h-1zM60 126h1v1h-1zM60 150h1v1h-1zM60 163h1v2h-1zM61 62h1v6h-1zM61 70h1v5h-1zM61 80h1v1h-1zM61 82h1v1h-1zM61 100h1v1h-1zM61 105h1v1h-1zM61 107h1v1h-1zM61 109h1v1h-1zM61 113h1v2h-1zM61 119h1v1h-1zM61 123h1v1h-1zM61 126h1v1h-1zM61 150h1v1h-1zM61 163h1v2h-1zM62 63h1v5h-1zM62 70h1v5h-1zM62 80h1v1h-1zM62 82h1v1h-1zM62 100h1v1h-1zM62 105h1v1h-1zM62 107h1v1h-1zM62 109h1v1h-1zM62 113h1v2h-1zM62 119h1v1h-1zM62 123h1v1h-1zM62 126h1v1h-1zM62 150h1v1h-1zM62 163h1v2h-1zM63 64h1v11h-1zM63 80h1v1h-1zM63 82h1v1h-1zM63 100h1v1h-1zM63 105h1v1h-1zM63 107h1v1h-1zM63 109h1v1h-1zM63 113h1v2h-1zM63 119h1v1h-1zM63 123h1v1h-1zM63 126h1v1h-1zM63 150h1v1h-1zM64 65h1v10h-1zM64 80h1v1h-1zM64 82h1v1h-1zM64 100h1v1h-1zM64 105h1v1h-1zM64 107h1v1h-1zM64 109h1v1h-1zM64 113h1v2h-1zM64 119h1v1h-1zM64 123h1v1h-1zM64 126h1v1h-1zM64 150h1v1h-1zM65 66h1v9h-1zM65 77h1v59h-1zM65 150h1v1h-1zM66 67h1v1h-1zM66 70h1v5h-1zM66 80h1v1h-1zM66 82h1v1h-1zM66 100h1v1h-1zM66 105h1v1h-1zM66 107h1v1h-1zM66 109h1v1h-1zM66 113h1v2h-1zM66 119h1v1h-1zM66 123h1v1h-1zM66 126h1v1h-1zM66 150h1v1h-1zM66 163h1v2h-1zM67 70h1v5h-1zM67 80h1v1h-1zM67 82h1v1h-1zM67 100h1v1h-1zM67 105h1v1h-1zM67 107h1v1h-1zM67 109h1v1h-1zM67 113h1v2h-1zM67 119h1v1h-1zM67 123h1v1h-1zM67 126h1v1h-1zM67 150h1v1h-1zM67 163h1v2h-1zM68 69h1v6h-1zM68 80h1v1h-1zM68 82h1v1h-1zM68 100h1v1h-1zM68 105h1v1h-1zM68 107h1v1h-1zM68 109h1v1h-1zM68 113h1v2h-1zM68 119h1v1h-1zM68 123h1v1h-1zM68 126h1v1h-1zM68 150h1v1h-1zM69 70h1v2h-1zM69 74h1v1h-1zM69 80h1v1h-1zM69 82h1v1h-1zM69 100h1v1h-1zM69 105h1v1h-1zM69 107h1v1h-1zM69 109h1v1h-1zM69 113h1v2h-1zM69 119h1v1h-1zM69 123h1v1h-1zM69 126h1v1h-1zM69 150h1v1h-1zM70 71h1v1h-1zM70 73h1v2h-1zM70 80h1v1h-1zM70 82h1v1h-1zM70 100h1v1h-1zM70 105h1v1h-1zM70 107h1v1h-1zM70 109h1v1h-1zM70 113h1v2h-1zM70 119h1v1h-1zM70 123h1v1h-1zM70 126h1v1h-1zM70 136h1v21h-1zM70 161h1v2h-1zM71 72h1v3h-1zM71 80h1v1h-1zM71 82h1v1h-1zM71 100h1v1h-1zM71 105h1v1h-1zM71 107h1v1h-1zM71 109h1v1h-1zM71 113h1v2h-1zM71 119h1v1h-1zM71 123h1v1h-1zM71 126h1v1h-1zM71 150h1v1h-1zM72 73h1v2h-1zM72 80h1v1h-1zM72 82h1v1h-1zM72 100h1v1h-1zM72 105h1v1h-1zM72 107h1v1h-1zM72 109h1v1h-1zM72 113h1v2h-1zM72 119h1v1h-1zM72 123h1v1h-1zM72 126h1v1h-1zM72 150h1v1h-1zM73 74h1v1h-1zM73 80h1v1h-1zM73 82h1v1h-1zM73 100h1v1h-1zM73 105h1v1h-1zM73 107h1v1h-1zM73 109h1v1h-1zM73 113h1v2h-1zM73 119h1v1h-1zM73 123h1v1h-1zM73 126h1v1h-1zM73 150h1v1h-1zM74 76h1v1h-1zM74 80h1v1h-1zM74 82h1v1h-1zM74 100h1v1h-1zM74 105h1v1h-1zM74 107h1v1h-1zM74 109h1v1h-1zM74 113h1v2h-1zM74 119h1v1h-1zM74 123h1v1h-1zM74 126h1v1h-1zM74 150h1v1h-1zM75 76h1v1h-1zM77 78h1v26h-1zM77 105h1v1h-1zM77 107h1v1h-1zM77 109h1v1h-1zM77 150h1v1h-1zM78 79h1v25h-1zM78 105h1v1h-1zM78 107h1v1h-1zM78 109h1v1h-1zM78 150h1v1h-1zM79 80h1v24h-1zM79 105h1v1h-1zM79 107h1v1h-1zM79 109h1v1h-1zM79 150h1v1h-1zM80 81h1v29h-1zM80 150h1v1h-1zM81 82h1v22h-1zM81 105h1v1h-1zM81 107h1v1h-1zM81 109h1v1h-1zM81 150h1v1h-1zM82 83h1v27h-1zM82 150h1v1h-1zM83 84h1v20h-1zM83 105h1v1h-1zM83 107h1v1h-1zM83 109h1v1h-1zM83 150h1v1h-1zM84 85h1v19h-1zM84 105h1v1h-1zM84 107h1v1h-1zM84 109h1v1h-1zM84 150h1v1h-1zM85 86h1v18h-1zM85 105h1v1h-1zM85 107h1v1h-1zM85 109h1v1h-1zM85 150h1v1h-1zM86 87h1v17h-1zM86 105h1v1h-1zM86 107h1v1h-1zM86 109h1v1h-1zM86 150h1v1h-1zM87 88h1v16h-1zM87 105h1v1h-1zM87 107h1v1h-1zM87 109h1v1h-1zM87 150h1v1h-1zM88 89h1v15h-1zM88 105h1v1h-1zM88 107h1v1h-1zM88 109h1v1h-1zM88 150h1v1h-1zM89 90h1v14h-1zM89 105h1v1h-1zM89 107h1v1h-1zM89 109h1v1h-1zM89 150h1v1h-1zM90 91h1v13h-1zM90 105h1v1h-1zM90 107h1v1h-1zM90 109h1v1h-1zM90 150h1v1h-1zM91 92h1v12h-1zM91 105h1v1h-1zM91 107h1v1h-1zM91 109h1v1h-1zM91 150h1v1h-1zM92 93h1v11h-1zM92 105h1v1h-1zM92 107h1v1h-1zM92 109h1v1h-1zM92 150h1v1h-1zM93 94h1v10h-1zM93 105h1v1h-1zM93 107h1v1h-1zM93 109h1v1h-1zM93 150h1v1h-1zM94 95h1v9h-1zM94 105h1v1h-1zM94 107h1v1h-1zM94 109h1v1h-1zM94 113h1v2h-1zM94 163h1v2h-1zM95 96h1v8h-1zM95 105h1v1h-1zM95 107h1v1h-1zM95 109h1v1h-1zM95 150h1v1h-1zM96 97h1v7h-1zM96 105h1v1h-1zM96 107h1v1h-1zM96 109h1v1h-1zM96 150h1v1h-1zM97 98h1v6h-1zM97 105h1v1h-1zM97 107h1v1h-1zM97 109h1v1h-1zM97 150h1v1h-1zM98 99h1v5h-1zM98 105h1v1h-1zM98 107h1v1h-1zM98 109h1v1h-1zM98 150h1v1h-1zM99 100h1v4h-1zM99 105h1v1h-1zM99 107h1v1h-1zM99 109h1v1h-1zM99 150h1v1h-1zM100 101h1v9h-1zM100 150h1v1h-1zM101 102h1v2h-1zM101 105h1v1h-1zM101 107h1v1h-1zM101 109h1v1h-1zM101 150h1v1h-1zM102 103h1v1h-1zM102 105h1v1h-1zM102 107h1v1h-1zM102 109h1v1h-1zM102 150h1v1h-1zM103 105h1v1h-1zM103 107h1v1h-1zM103 109h1v1h-1zM103 150h1v1h-1zM104 105h1v5h-1zM105 106h1v4h-1zM106 107h1v3h-1zM107 108h1v2h-1zM108 109h1v1h-1zM109 161h1v2h-1zM110 157h1v1h-1zM111 112h1v19h-1zM111 132h1v26h-1zM112 114h1v17h-1zM112 132h1v26h-1zM113 114h1v44h-1zM114 115h1v43h-1zM115 117h1v14h-1zM115 132h1v26h-1zM116 117h1v14h-1zM116 132h1v26h-1zM117 118h1v13h-1zM117 132h1v26h-1zM118 119h1v12h-1zM118 132h1v26h-1zM119 120h1v38h-1zM119 161h1v2h-1zM120 121h1v10h-1zM120 132h1v26h-1zM121 122h1v9h-1zM121 132h1v26h-1zM122 123h1v8h-1zM122 132h1v26h-1zM123 124h1v34h-1zM124 125h1v6h-1zM124 132h1v26h-1zM125 127h1v4h-1zM125 132h1v26h-1zM126 157h1v1h-1zM127 128h1v3h-1zM127 132h1v26h-1zM128 129h1v2h-1zM128 132h1v26h-1zM129 130h1v1h-1zM129 132h1v26h-1zM130 132h1v26h-1zM131 132h1v26h-1zM132 133h1v25h-1zM133 134h1v24h-1zM134 135h1v23h-1zM135 136h1v22h-1zM136 137h1v21h-1zM137 138h1v20h-1zM138 139h1v19h-1zM139 140h1v18h-1zM140 141h1v17h-1zM141 142h1v16h-1zM142 144h1v14h-1zM143 144h1v14h-1zM144 145h1v13h-1zM145 146h1v12h-1zM146 147h1v11h-1zM147 148h1v10h-1zM148 149h1v9h-1zM149 150h1v8h-1zM150 151h1v7h-1zM151 152h1v6h-1zM152 153h1v5h-1zM153 154h1v4h-1zM154 155h1v3h-1zM155 156h1v2h-1zM156 157h1v1h-1zM158 163h1v1h-1zM159 163h1v2h-1zM160 163h1v2h-1zM161 162h1v3h-1zM162 163h1v2h-1zM163 164h1v1h-1z"/>
</g>
<path d="M347.5 1042.3H810.6L579.0 1273.8Z" fill="none" stroke="#000" stroke-width="2.8" stroke-linejoin="miter"/>
<path d="M831.6 1042.3H1905.1L1368.4 1579.0Z" fill="none" stroke="#000" stroke-width="2.8" stroke-linejoin="miter"/>
<path d="M1968.3 1042.3H2515.5L2241.9 1315.9Z" fill="none" stroke="#000" stroke-width="2.8" stroke-linejoin="miter"/>
<path d="M2557.6 1042.3H2641.8L2599.7 1084.4Z" fill="none" stroke="#000" stroke-width="2.8" stroke-linejoin="miter"/>
<path d="M2662.9 1042.3H3631.1L3147.0 1526.4Z" fill="none" stroke="#000" stroke-width="2.8" stroke-linejoin="miter"/>
<path d="M3694.3 1042.3H3715.3L3704.8 1052.8Z" fill="none" stroke="#000" stroke-width="2.8" stroke-linejoin="miter"/>
<path d="M3736.4 1042.3H3757.4L3746.9 1052.8Z" fill="none" stroke="#000" stroke-width="2.8" stroke-linejoin="miter"/>
<path d="M3778.5 1042.3H3799.5L3789.0 1052.8Z" fill="none" stroke="#000" stroke-width="2.8" stroke-linejoin="miter"/>
<rect x="2663.20" y="2690.5" width="36.56" height="89.19999999999982" fill="#ffffff"/>
<rect x="2699.36" y="2690.5" width="36.56" height="89.19999999999982" fill="#fefef4"/>
<rect x="2735.52" y="2690.5" width="36.56" height="89.19999999999982" fill="#fdfce8"/>
<rect x="2771.67" y="2690.5" width="36.56" height="89.19999999999982" fill="#fcfbdd"/>
<rect x="2807.83" y="2690.5" width="36.56" height="89.19999999999982" fill="#fbfad2"/>
<rect x="2843.99" y="2690.5" width="36.56" height="89.19999999999982" fill="#faf9c7"/>
<rect x="2880.15" y="2690.5" width="36.56" height="89.19999999999982" fill="#f9f8bc"/>
<rect x="2916.30" y="2690.5" width="36.56" height="89.19999999999982" fill="#f8f6b0"/>
<rect x="2952.46" y="2690.5" width="36.56" height="89.19999999999982" fill="#f8f5a5"/>
<rect x="2988.62" y="2690.5" width="36.56" height="89.19999999999982" fill="#f7f49a"/>
<rect x="3024.78" y="2690.5" width="36.56" height="89.19999999999982" fill="#f6f28e"/>
<rect x="3060.93" y="2690.5" width="36.56" height="89.19999999999982" fill="#f5f183"/>
<rect x="3097.09" y="2690.5" width="36.56" height="89.19999999999982" fill="#f4f078"/>
<rect x="3133.25" y="2690.5" width="36.56" height="89.19999999999982" fill="#f3ef6d"/>
<rect x="3169.41" y="2690.5" width="36.56" height="89.19999999999982" fill="#f2ee62"/>
<rect x="3205.56" y="2690.5" width="36.56" height="89.19999999999982" fill="#f1ec56"/>
<rect x="3241.72" y="2690.5" width="36.56" height="89.19999999999982" fill="#f0eb4b"/>
<rect x="3277.88" y="2690.5" width="36.56" height="89.19999999999982" fill="#f1dc46"/>
<rect x="3314.04" y="2690.5" width="36.56" height="89.19999999999982" fill="#f2ce42"/>
<rect x="3350.19" y="2690.5" width="36.56" height="89.19999999999982" fill="#f3bf3d"/>
<rect x="3386.35" y="2690.5" width="36.56" height="89.19999999999982" fill="#f4b038"/>
<rect x="3422.51" y="2690.5" width="36.56" height="89.19999999999982" fill="#f5a234"/>
<rect x="3458.67" y="2690.5" width="36.56" height="89.19999999999982" fill="#f6932f"/>
<rect x="3494.82" y="2690.5" width="36.56" height="89.19999999999982" fill="#f7842a"/>
<rect x="3530.98" y="2690.5" width="36.56" height="89.19999999999982" fill="#f87626"/>
<rect x="3567.14" y="2690.5" width="36.56" height="89.19999999999982" fill="#f86721"/>
<rect x="3603.30" y="2690.5" width="36.56" height="89.19999999999982" fill="#f9581c"/>
<rect x="3639.45" y="2690.5" width="36.56" height="89.19999999999982" fill="#fa4917"/>
<rect x="3675.61" y="2690.5" width="36.56" height="89.19999999999982" fill="#fb3b13"/>
<rect x="3711.77" y="2690.5" width="36.56" height="89.19999999999982" fill="#fc2c0e"/>
<rect x="3747.93" y="2690.5" width="36.56" height="89.19999999999982" fill="#fd1d09"/>
<rect x="3784.08" y="2690.5" width="36.56" height="89.19999999999982" fill="#fe0f05"/>
<rect x="3820.24" y="2690.5" width="36.56" height="89.19999999999982" fill="#ff0000"/>
<rect x="2661.5" y="2690.5" width="1196.3000000000002" height="89.19999999999982" fill="none" stroke="#000" stroke-width="3.1"/>
<text x="3242.6" y="2605" font-size="86.7" text-anchor="middle">D' Color Key</text>
<text x="2664.5" y="2865.6" font-size="86.7" text-anchor="middle">0.0</text>
<text x="3824" y="2865.6" font-size="86.7" text-anchor="middle">1.0</text>
</svg></body></html>
